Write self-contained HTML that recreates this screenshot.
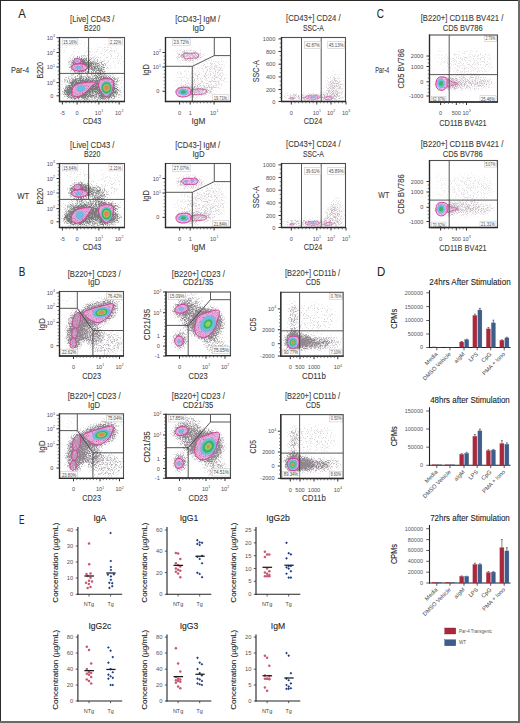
<!DOCTYPE html><html><head><meta charset="utf-8"><style>html,body{margin:0;padding:0;background:#fff;}svg{display:block}</style></head><body>
<svg width="520" height="723" viewBox="0 0 520 723" font-family="&quot;Liberation Sans&quot;, sans-serif">
<defs><filter id="bl" x="-20%" y="-20%" width="140%" height="140%"><feGaussianBlur stdDeviation="0.35"/></filter><filter id="hz" x="-50%" y="-50%" width="200%" height="200%"><feGaussianBlur stdDeviation="3"/></filter><filter id="tex" x="0" y="0" width="100%" height="100%" color-interpolation-filters="sRGB"><feTurbulence type="fractalNoise" baseFrequency="1.2" numOctaves="1" seed="11" result="t"/><feColorMatrix in="t" type="matrix" values="0 0 0 0 0.84  0 0 0 0 0.3  0 0 0 0 0.66  2.6 0 0 0 -1.25" result="n"/><feComposite in="n" in2="SourceGraphic" operator="in"/></filter><filter id="spkG" filterUnits="userSpaceOnUse" x="0" y="0" width="520" height="723" color-interpolation-filters="sRGB"><feGaussianBlur in="SourceGraphic" stdDeviation="2.5" result="d"/><feTurbulence type="fractalNoise" baseFrequency="1.3" numOctaves="1" seed="3" result="t"/><feColorMatrix in="t" type="matrix" values="0 0 0 0 0  0 0 0 0 0  0 0 0 0 0  3 0 0 0 -1" result="n"/><feComposite in="d" in2="n" operator="arithmetic" k1="0" k2="1.95" k3="1" k4="-1" result="c"/><feColorMatrix in="c" type="matrix" values="0 0 0 0 0.54  0 0 0 0 0.5  0 0 0 0 0.53  0 0 0 0.95 0" result="e"/><feGaussianBlur in="e" stdDeviation="0.45"/></filter><filter id="spkN" filterUnits="userSpaceOnUse" x="0" y="0" width="520" height="723" color-interpolation-filters="sRGB"><feGaussianBlur in="SourceGraphic" stdDeviation="2.5" result="d"/><feTurbulence type="fractalNoise" baseFrequency="1.3" numOctaves="1" seed="4" result="t"/><feColorMatrix in="t" type="matrix" values="0 0 0 0 0  0 0 0 0 0  0 0 0 0 0  3 0 0 0 -1" result="n"/><feComposite in="d" in2="n" operator="arithmetic" k1="0" k2="1.9" k3="1" k4="-1" result="c"/><feColorMatrix in="c" type="matrix" values="0 0 0 0 0.44  0 0 0 0 0.44  0 0 0 0 0.44  0 0 0 0.93 0" result="e"/><feGaussianBlur in="e" stdDeviation="0.45"/></filter><filter id="spkP" filterUnits="userSpaceOnUse" x="0" y="0" width="520" height="723" color-interpolation-filters="sRGB"><feGaussianBlur in="SourceGraphic" stdDeviation="2.5" result="d"/><feTurbulence type="fractalNoise" baseFrequency="1.3" numOctaves="1" seed="5" result="t"/><feColorMatrix in="t" type="matrix" values="0 0 0 0 0  0 0 0 0 0  0 0 0 0 0  3 0 0 0 -1" result="n"/><feComposite in="d" in2="n" operator="arithmetic" k1="0" k2="1.4" k3="1" k4="-1" result="c"/><feColorMatrix in="c" type="matrix" values="0 0 0 0 0.58  0 0 0 0 0.5  0 0 0 0 0.56  0 0 0 0.65 0" result="e"/><feGaussianBlur in="e" stdDeviation="0.45"/></filter><filter id="spkS" filterUnits="userSpaceOnUse" x="0" y="0" width="520" height="723" color-interpolation-filters="sRGB"><feGaussianBlur in="SourceGraphic" stdDeviation="1.2" result="d"/><feTurbulence type="fractalNoise" baseFrequency="1.3" numOctaves="1" seed="7" result="t"/><feColorMatrix in="t" type="matrix" values="0 0 0 0 0  0 0 0 0 0  0 0 0 0 0  3 0 0 0 -1" result="n"/><feComposite in="d" in2="n" operator="arithmetic" k1="0" k2="1.4" k3="1" k4="-1" result="c"/><feColorMatrix in="c" type="matrix" values="0 0 0 0 0.3  0 0 0 0 0.3  0 0 0 0 0.3  0 0 0 0.9 0" result="e"/><feGaussianBlur in="e" stdDeviation="0.45"/></filter></defs>
<rect width="520" height="723" fill="#fff"/>
<rect x="0.5" y="0.5" width="518" height="721" fill="none" stroke="#555" stroke-width="1"/>
<line x1="0" y1="0.5" x2="520" y2="0.5" stroke="#2a2a28" stroke-width="1"/><line x1="0.5" y1="0" x2="0.5" y2="723" stroke="#2a2a28" stroke-width="1"/>
<line x1="519" y1="0" x2="519" y2="723" stroke="#6b6b66" stroke-width="2"/><line x1="0" y1="722" x2="520" y2="722" stroke="#6b6b66" stroke-width="2"/>
<text x="18.2" y="17.7" font-size="13.2" text-anchor="start" fill="#222" textLength="7.6" lengthAdjust="spacingAndGlyphs" stroke="#222" stroke-width="0.05">A</text>
<text x="376.7" y="17.6" font-size="13.2" text-anchor="start" fill="#222" textLength="7.2" lengthAdjust="spacingAndGlyphs" stroke="#222" stroke-width="0.05">C</text>
<text x="92.3" y="21.6" font-size="8.5" text-anchor="middle" fill="#3a3a3a" textLength="44.4" lengthAdjust="spacingAndGlyphs" stroke="#3a3a3a" stroke-width="0.1">[Live] CD43 /</text>
<text x="92.2" y="31.2" font-size="8.5" text-anchor="middle" fill="#3a3a3a" textLength="16.4" lengthAdjust="spacingAndGlyphs" stroke="#3a3a3a" stroke-width="0.1">B220</text>
<text x="29.2" y="72.5" font-size="8.5" text-anchor="end" fill="#3a3a3a" textLength="18.2" lengthAdjust="spacingAndGlyphs" stroke="#3a3a3a" stroke-width="0.1">Par-4</text>
<clipPath id="cp1"><rect x="60.1" y="38.0" width="63.9" height="62.9"/></clipPath>
<g clip-path="url(#cp1)"><g filter="url(#spkN)"><ellipse cx="80" cy="89" rx="16" ry="9" transform="rotate(-15 80 89)" opacity="0.85"/><ellipse cx="106" cy="88" rx="10" ry="11" transform="rotate(0 106 88)" opacity="0.85"/><ellipse cx="92" cy="80" rx="30" ry="5" transform="rotate(0 92 80)" opacity="0.55"/><ellipse cx="92" cy="92" rx="30" ry="9" transform="rotate(0 92 92)" opacity="0.55"/><ellipse cx="80" cy="65" rx="11" ry="8" transform="rotate(0 80 65)" opacity="0.85"/><ellipse cx="97" cy="68" rx="10" ry="7" transform="rotate(20 97 68)" opacity="0.55"/><ellipse cx="104" cy="58" rx="20" ry="13" transform="rotate(0 104 58)" opacity="0.14"/><ellipse cx="75" cy="48" rx="14" ry="8" transform="rotate(0 75 48)" opacity="0.1"/></g></g>
<g transform="translate(0,0)">
<g filter="url(#bl)" opacity="1"><path d="M81.00,61.20 C81.00,61.73 80.73,62.36 80.31,62.79 C79.90,63.21 79.18,63.60 78.51,63.77 C77.84,63.93 76.96,63.93 76.29,63.77 C75.62,63.60 74.90,63.21 74.49,62.79 C74.07,62.36 73.80,61.73 73.80,61.20 C73.80,60.67 74.07,60.04 74.49,59.61 C74.90,59.19 75.62,58.80 76.29,58.63 C76.96,58.47 77.84,58.47 78.51,58.63 C79.18,58.80 79.90,59.19 80.31,59.61 C80.73,60.04 81.00,60.67 81.00,61.20Z" fill="#ecb6e2" fill-opacity="0.85" stroke="#cc3f97" stroke-width="1.0"/><path d="M81.00,61.20 C81.00,61.73 80.73,62.36 80.31,62.79 C79.90,63.21 79.18,63.60 78.51,63.77 C77.84,63.93 76.96,63.93 76.29,63.77 C75.62,63.60 74.90,63.21 74.49,62.79 C74.07,62.36 73.80,61.73 73.80,61.20 C73.80,60.67 74.07,60.04 74.49,59.61 C74.90,59.19 75.62,58.80 76.29,58.63 C76.96,58.47 77.84,58.47 78.51,58.63 C79.18,58.80 79.90,59.19 80.31,59.61 C80.73,60.04 81.00,60.67 81.00,61.20Z" fill="#fff" filter="url(#tex)"/><ellipse cx="77.2" cy="61" rx="1.60" ry="1.10" transform="rotate(0 77.2 61)" fill="#86aeea"/></g>
</g>
<g transform="translate(0,0)">
<g filter="url(#bl)" opacity="1"><path d="M87.30,67.40 C87.30,68.00 86.89,68.68 86.23,69.20 C85.56,69.72 84.45,70.22 83.30,70.52 C82.15,70.82 80.63,71.00 79.30,71.00 C77.97,71.00 76.45,70.82 75.30,70.52 C74.15,70.22 73.04,69.72 72.37,69.20 C71.71,68.68 71.30,68.00 71.30,67.40 C71.30,66.80 71.71,66.12 72.37,65.60 C73.04,65.08 74.15,64.58 75.30,64.28 C76.45,63.98 77.97,63.80 79.30,63.80 C80.63,63.80 82.15,63.98 83.30,64.28 C84.45,64.58 85.56,65.08 86.23,65.60 C86.89,66.12 87.30,66.80 87.30,67.40Z" fill="#ecb6e2" fill-opacity="0.85" stroke="#cc3f97" stroke-width="1.0"/><path d="M87.30,67.40 C87.30,68.00 86.89,68.68 86.23,69.20 C85.56,69.72 84.45,70.22 83.30,70.52 C82.15,70.82 80.63,71.00 79.30,71.00 C77.97,71.00 76.45,70.82 75.30,70.52 C74.15,70.22 73.04,69.72 72.37,69.20 C71.71,68.68 71.30,68.00 71.30,67.40 C71.30,66.80 71.71,66.12 72.37,65.60 C73.04,65.08 74.15,64.58 75.30,64.28 C76.45,63.98 77.97,63.80 79.30,63.80 C80.63,63.80 82.15,63.98 83.30,64.28 C84.45,64.58 85.56,65.08 86.23,65.60 C86.89,66.12 87.30,66.80 87.30,67.40Z" fill="#fff" filter="url(#tex)"/><ellipse cx="78.5" cy="67.5" rx="3.60" ry="1.60" transform="rotate(0 78.5 67.5)" fill="#86aeea"/><ellipse cx="78.5" cy="67.5" rx="2.16" ry="0.96" transform="rotate(0 78.5 67.5)" fill="#5cc6dc"/></g>
</g>
<g transform="translate(0,0)">
<g filter="url(#bl)" opacity="1"><path d="M72.00,93.50 C71.75,92.00 72.00,89.08 73.00,87.50 C74.00,85.92 75.83,84.83 78.00,84.00 C80.17,83.17 83.07,82.78 86.00,82.50 C88.93,82.22 94.60,81.72 95.60,82.30 C96.60,82.88 93.60,84.38 92.00,86.00 C90.40,87.62 88.00,90.33 86.00,92.00 C84.00,93.67 81.92,95.25 80.00,96.00 C78.08,96.75 75.83,96.92 74.50,96.50 C73.17,96.08 72.25,95.00 72.00,93.50Z" fill="#ecb6e2" fill-opacity="0.85" stroke="#cc3f97" stroke-width="1.0"/><path d="M72.00,93.50 C71.75,92.00 72.00,89.08 73.00,87.50 C74.00,85.92 75.83,84.83 78.00,84.00 C80.17,83.17 83.07,82.78 86.00,82.50 C88.93,82.22 94.60,81.72 95.60,82.30 C96.60,82.88 93.60,84.38 92.00,86.00 C90.40,87.62 88.00,90.33 86.00,92.00 C84.00,93.67 81.92,95.25 80.00,96.00 C78.08,96.75 75.83,96.92 74.50,96.50 C73.17,96.08 72.25,95.00 72.00,93.50Z" fill="#fff" filter="url(#tex)"/><ellipse cx="80.8" cy="88.5" rx="4.40" ry="3.50" transform="rotate(-15 80.8 88.5)" fill="#86aeea"/><ellipse cx="80.8" cy="88.5" rx="2.64" ry="2.10" transform="rotate(-15 80.8 88.5)" fill="#5cc6dc"/></g>
</g>
<g transform="translate(0,0)">
<g filter="url(#bl)" opacity="1"><path d="M99.00,82.00 C99.38,80.92 99.83,80.03 101.00,79.50 C102.17,78.97 104.33,78.85 106.00,78.80 C107.67,78.75 109.77,78.67 111.00,79.20 C112.23,79.73 113.07,80.70 113.40,82.00 C113.73,83.30 113.48,85.17 113.00,87.00 C112.52,88.83 111.50,91.37 110.50,93.00 C109.50,94.63 108.17,96.47 107.00,96.80 C105.83,97.13 104.58,95.97 103.50,95.00 C102.42,94.03 101.30,92.50 100.50,91.00 C99.70,89.50 98.95,87.50 98.70,86.00 C98.45,84.50 98.62,83.08 99.00,82.00Z" fill="#ecb6e2" fill-opacity="0.85" stroke="#cc3f97" stroke-width="1.0"/><path d="M99.00,82.00 C99.38,80.92 99.83,80.03 101.00,79.50 C102.17,78.97 104.33,78.85 106.00,78.80 C107.67,78.75 109.77,78.67 111.00,79.20 C112.23,79.73 113.07,80.70 113.40,82.00 C113.73,83.30 113.48,85.17 113.00,87.00 C112.52,88.83 111.50,91.37 110.50,93.00 C109.50,94.63 108.17,96.47 107.00,96.80 C105.83,97.13 104.58,95.97 103.50,95.00 C102.42,94.03 101.30,92.50 100.50,91.00 C99.70,89.50 98.95,87.50 98.70,86.00 C98.45,84.50 98.62,83.08 99.00,82.00Z" fill="#fff" filter="url(#tex)"/><ellipse cx="106.5" cy="87.8" rx="5.90" ry="6.90" transform="rotate(0 106.5 87.8)" fill="#86aeea"/><ellipse cx="106.5" cy="87.8" rx="5.31" ry="6.21" transform="rotate(0 106.5 87.8)" fill="#5cc6dc"/><ellipse cx="106.5" cy="87.8" rx="4.84" ry="5.66" transform="rotate(0 106.5 87.8)" fill="#3db45a"/><ellipse cx="106.5" cy="87.8" rx="3.25" ry="3.80" transform="rotate(0 106.5 87.8)" fill="#8fd06a"/><ellipse cx="106.5" cy="87.8" rx="2.36" ry="2.76" transform="rotate(0 106.5 87.8)" fill="#f27c62"/></g>
</g>
<polyline points="88.6,37.5 88.6,73.4" fill="none" stroke="#3a3a3a" stroke-width="0.85"/>
<line x1="59.5" y1="73.4" x2="124.5" y2="73.4" stroke="#3a3a3a" stroke-width="0.85"/>
<rect x="62.2" y="38.7" width="15.6" height="6.199999999999999" fill="#fff" fill-opacity="0.75" stroke="#c8c8c8" stroke-width="0.6"/>
<text x="70.0" y="43.550000000000004" font-size="4.9" text-anchor="middle" fill="#4a4a4a" textLength="13.399999999999999" lengthAdjust="spacingAndGlyphs">15.16%</text>
<rect x="109" y="38.7" width="13.4" height="6.199999999999999" fill="#fff" fill-opacity="0.75" stroke="#c8c8c8" stroke-width="0.6"/>
<text x="115.7" y="43.550000000000004" font-size="4.9" text-anchor="middle" fill="#4a4a4a" textLength="11.2" lengthAdjust="spacingAndGlyphs">2.22%</text>
<rect x="59.5" y="37.5" width="65.0" height="64.0" fill="none" stroke="#505050" stroke-width="1.1"/>
<line x1="59.5" y1="37.0" x2="59.5" y2="102.1" stroke="#2a2a2a" stroke-width="1.3"/>
<line x1="58.9" y1="101.5" x2="125.0" y2="101.5" stroke="#2a2a2a" stroke-width="1.3"/>
<line x1="56.5" y1="37.7" x2="59.5" y2="37.7" stroke="#333" stroke-width="1"/>
<text x="52.9" y="39.800000000000004" font-size="5.6" text-anchor="end" fill="#505050">10</text>
<text x="53.0" y="37.2" font-size="3.6" text-anchor="start" fill="#505050">3</text>
<line x1="56.5" y1="52.5" x2="59.5" y2="52.5" stroke="#333" stroke-width="1"/>
<text x="52.9" y="54.6" font-size="5.6" text-anchor="end" fill="#505050">10</text>
<text x="53.0" y="52.0" font-size="3.6" text-anchor="start" fill="#505050">2</text>
<line x1="56.5" y1="67" x2="59.5" y2="67" stroke="#333" stroke-width="1"/>
<text x="52.9" y="69.1" font-size="5.6" text-anchor="end" fill="#505050">10</text>
<text x="53.0" y="66.5" font-size="3.6" text-anchor="start" fill="#505050">1</text>
<line x1="56.5" y1="82.6" x2="59.5" y2="82.6" stroke="#333" stroke-width="1"/>
<text x="52.9" y="84.69999999999999" font-size="5.6" text-anchor="end" fill="#505050">10</text>
<text x="53.0" y="82.1" font-size="3.6" text-anchor="start" fill="#505050">0</text>
<line x1="56.5" y1="95.8" x2="59.5" y2="95.8" stroke="#333" stroke-width="1"/>
<text x="53.3" y="97.89999999999999" font-size="5.6" text-anchor="end" fill="#505050">0</text>
<line x1="62.4" y1="101.5" x2="62.4" y2="104.5" stroke="#333" stroke-width="1"/>
<text x="62.4" y="114.5" font-size="5.6" text-anchor="middle" fill="#505050">-5</text>
<line x1="77.1" y1="101.5" x2="77.1" y2="104.5" stroke="#333" stroke-width="1"/>
<text x="77.1" y="114.5" font-size="5.6" text-anchor="middle" fill="#505050">0</text>
<line x1="98.9" y1="101.5" x2="98.9" y2="104.5" stroke="#333" stroke-width="1"/>
<text x="97.9" y="114.5" font-size="5.6" text-anchor="middle" fill="#505050">10</text>
<text x="101.2" y="111.9" font-size="3.6" text-anchor="start" fill="#505050">1</text>
<line x1="119.1" y1="101.5" x2="119.1" y2="104.5" stroke="#333" stroke-width="1"/>
<text x="118.1" y="114.5" font-size="5.6" text-anchor="middle" fill="#505050">10</text>
<text x="121.39999999999999" y="111.9" font-size="3.6" text-anchor="start" fill="#505050">2</text>
<line x1="57.7" y1="41.400000000000006" x2="59.5" y2="41.400000000000006" stroke="#444" stroke-width="0.7"/>
<line x1="57.7" y1="45.1" x2="59.5" y2="45.1" stroke="#444" stroke-width="0.7"/>
<line x1="57.7" y1="48.8" x2="59.5" y2="48.8" stroke="#444" stroke-width="0.7"/>
<line x1="57.7" y1="56.125" x2="59.5" y2="56.125" stroke="#444" stroke-width="0.7"/>
<line x1="57.7" y1="59.75" x2="59.5" y2="59.75" stroke="#444" stroke-width="0.7"/>
<line x1="57.7" y1="63.375" x2="59.5" y2="63.375" stroke="#444" stroke-width="0.7"/>
<line x1="57.7" y1="70.9" x2="59.5" y2="70.9" stroke="#444" stroke-width="0.7"/>
<line x1="57.7" y1="74.8" x2="59.5" y2="74.8" stroke="#444" stroke-width="0.7"/>
<line x1="57.7" y1="78.69999999999999" x2="59.5" y2="78.69999999999999" stroke="#444" stroke-width="0.7"/>
<line x1="57.7" y1="85.89999999999999" x2="59.5" y2="85.89999999999999" stroke="#444" stroke-width="0.7"/>
<line x1="57.7" y1="89.19999999999999" x2="59.5" y2="89.19999999999999" stroke="#444" stroke-width="0.7"/>
<line x1="57.7" y1="92.5" x2="59.5" y2="92.5" stroke="#444" stroke-width="0.7"/>
<line x1="66.075" y1="101.5" x2="66.075" y2="103.3" stroke="#444" stroke-width="0.7"/>
<line x1="69.75" y1="101.5" x2="69.75" y2="103.3" stroke="#444" stroke-width="0.7"/>
<line x1="73.425" y1="101.5" x2="73.425" y2="103.3" stroke="#444" stroke-width="0.7"/>
<line x1="80.73333333333333" y1="101.5" x2="80.73333333333333" y2="103.3" stroke="#444" stroke-width="0.7"/>
<line x1="84.36666666666666" y1="101.5" x2="84.36666666666666" y2="103.3" stroke="#444" stroke-width="0.7"/>
<line x1="88.0" y1="101.5" x2="88.0" y2="103.3" stroke="#444" stroke-width="0.7"/>
<line x1="91.63333333333334" y1="101.5" x2="91.63333333333334" y2="103.3" stroke="#444" stroke-width="0.7"/>
<line x1="95.26666666666667" y1="101.5" x2="95.26666666666667" y2="103.3" stroke="#444" stroke-width="0.7"/>
<line x1="102.26666666666667" y1="101.5" x2="102.26666666666667" y2="103.3" stroke="#444" stroke-width="0.7"/>
<line x1="105.63333333333334" y1="101.5" x2="105.63333333333334" y2="103.3" stroke="#444" stroke-width="0.7"/>
<line x1="109.0" y1="101.5" x2="109.0" y2="103.3" stroke="#444" stroke-width="0.7"/>
<line x1="112.36666666666666" y1="101.5" x2="112.36666666666666" y2="103.3" stroke="#444" stroke-width="0.7"/>
<line x1="115.73333333333333" y1="101.5" x2="115.73333333333333" y2="103.3" stroke="#444" stroke-width="0.7"/>
<text x="92" y="123.6" font-size="8.5" text-anchor="middle" fill="#3a3a3a" textLength="18.6" lengthAdjust="spacingAndGlyphs" stroke="#3a3a3a" stroke-width="0.1">CD43</text>
<text x="43.4" y="70.3" font-size="8.5" text-anchor="middle" fill="#3a3a3a" transform="rotate(-90 43.4 70.3)" textLength="16.6" lengthAdjust="spacingAndGlyphs" stroke="#3a3a3a" stroke-width="0.1">B220</text>
<text x="197.7" y="21.5" font-size="8.5" text-anchor="middle" fill="#3a3a3a" textLength="45" lengthAdjust="spacingAndGlyphs" stroke="#3a3a3a" stroke-width="0.1">[CD43-] IgM /</text>
<text x="198.5" y="31" font-size="8.5" text-anchor="middle" fill="#3a3a3a" textLength="12.1" lengthAdjust="spacingAndGlyphs" stroke="#3a3a3a" stroke-width="0.1">IgD</text>
<clipPath id="cp2"><rect x="166.1" y="38.0" width="63.9" height="62.9"/></clipPath>
<g clip-path="url(#cp2)"><g filter="url(#spkP)"><ellipse cx="190" cy="56" rx="14" ry="6" transform="rotate(0 190 56)" opacity="0.8"/><ellipse cx="190" cy="92" rx="13" ry="6" transform="rotate(0 190 92)" opacity="0.8"/><ellipse cx="200" cy="91" rx="12" ry="4" transform="rotate(0 200 91)" opacity="0.75"/><ellipse cx="208" cy="78" rx="18" ry="16" transform="rotate(0 208 78)" opacity="0.4"/><ellipse cx="185" cy="78" rx="10" ry="12" transform="rotate(0 185 78)" opacity="0.28"/><ellipse cx="218" cy="62" rx="10" ry="8" transform="rotate(0 218 62)" opacity="0.2"/></g></g>
<g transform="translate(0,0)">
<g filter="url(#bl)" opacity="1"><path d="M183.00,55.00 C183.17,54.08 184.67,53.25 186.00,53.00 C187.33,52.75 189.33,53.50 191.00,53.50 C192.67,53.50 194.75,52.75 196.00,53.00 C197.25,53.25 198.33,54.20 198.50,55.00 C198.67,55.80 198.25,57.27 197.00,57.80 C195.75,58.33 193.00,58.08 191.00,58.20 C189.00,58.32 186.33,59.03 185.00,58.50 C183.67,57.97 182.83,55.92 183.00,55.00Z" fill="#ecb6e2" fill-opacity="0.22" stroke="#cc3f97" stroke-width="0.7"/></g>
</g>
<g transform="translate(0,0)">
<g filter="url(#bl)" opacity="1"><path d="M176.00,91.00 C176.25,89.75 177.50,88.63 179.00,88.00 C180.50,87.37 183.17,87.12 185.00,87.20 C186.83,87.28 188.97,87.70 190.00,88.50 C191.03,89.30 191.37,90.83 191.20,92.00 C191.03,93.17 190.37,94.67 189.00,95.50 C187.63,96.33 184.92,97.00 183.00,97.00 C181.08,97.00 178.67,96.50 177.50,95.50 C176.33,94.50 175.75,92.25 176.00,91.00Z" fill="#ecb6e2" fill-opacity="0.85" stroke="#cc3f97" stroke-width="1.0"/><path d="M176.00,91.00 C176.25,89.75 177.50,88.63 179.00,88.00 C180.50,87.37 183.17,87.12 185.00,87.20 C186.83,87.28 188.97,87.70 190.00,88.50 C191.03,89.30 191.37,90.83 191.20,92.00 C191.03,93.17 190.37,94.67 189.00,95.50 C187.63,96.33 184.92,97.00 183.00,97.00 C181.08,97.00 178.67,96.50 177.50,95.50 C176.33,94.50 175.75,92.25 176.00,91.00Z" fill="#fff" filter="url(#tex)"/><ellipse cx="183.3" cy="92" rx="5.00" ry="3.30" transform="rotate(0 183.3 92)" fill="#86aeea"/><ellipse cx="183.3" cy="92" rx="3.75" ry="2.47" transform="rotate(0 183.3 92)" fill="#5cc6dc"/><ellipse cx="183.3" cy="92" rx="2.50" ry="1.65" transform="rotate(0 183.3 92)" fill="#3db45a"/></g>
</g>
<g transform="translate(0,0)">
<g filter="url(#bl)" opacity="1"><path d="M191.00,90.50 C191.92,89.67 194.50,89.08 197.00,89.00 C199.50,88.92 204.67,89.25 206.00,90.00 C207.33,90.75 206.50,92.72 205.00,93.50 C203.50,94.28 199.25,94.62 197.00,94.70 C194.75,94.78 192.50,94.70 191.50,94.00 C190.50,93.30 190.08,91.33 191.00,90.50Z" fill="#ecb6e2" fill-opacity="0.2" stroke="#cc3f97" stroke-width="0.7"/></g>
</g>
<polyline points="165.5,66.3 192.3,66.3 192.3,101.5" fill="none" stroke="#3a3a3a" stroke-width="0.85"/>
<polyline points="192.3,66.3 214.3,55.6 214.3,37.5" fill="none" stroke="#3a3a3a" stroke-width="0.85"/>
<line x1="214.3" y1="55.6" x2="230.5" y2="55.6" stroke="#3a3a3a" stroke-width="0.85"/>
<rect x="172.5" y="39.0" width="17.7" height="6.6" fill="#fff" fill-opacity="0.75" stroke="#c8c8c8" stroke-width="0.6"/>
<text x="181.35" y="44.05" font-size="4.9" text-anchor="middle" fill="#4a4a4a" textLength="15.5" lengthAdjust="spacingAndGlyphs">23.72%</text>
<rect x="212.7" y="94.5" width="15.5" height="6.6" fill="#fff" fill-opacity="0.75" stroke="#c8c8c8" stroke-width="0.6"/>
<text x="220.45" y="99.55" font-size="4.9" text-anchor="middle" fill="#4a4a4a" textLength="13.3" lengthAdjust="spacingAndGlyphs">19.71%</text>
<rect x="165.5" y="37.5" width="65.0" height="64.0" fill="none" stroke="#505050" stroke-width="1.1"/>
<line x1="165.5" y1="37.0" x2="165.5" y2="102.1" stroke="#2a2a2a" stroke-width="1.3"/>
<line x1="164.9" y1="101.5" x2="231.0" y2="101.5" stroke="#2a2a2a" stroke-width="1.3"/>
<line x1="162.5" y1="52.5" x2="165.5" y2="52.5" stroke="#333" stroke-width="1"/>
<text x="158.9" y="54.6" font-size="5.6" text-anchor="end" fill="#505050">10</text>
<text x="159.0" y="52.0" font-size="3.6" text-anchor="start" fill="#505050">2</text>
<line x1="162.5" y1="67" x2="165.5" y2="67" stroke="#333" stroke-width="1"/>
<text x="158.9" y="69.1" font-size="5.6" text-anchor="end" fill="#505050">10</text>
<text x="159.0" y="66.5" font-size="3.6" text-anchor="start" fill="#505050">1</text>
<line x1="162.5" y1="91.3" x2="165.5" y2="91.3" stroke="#333" stroke-width="1"/>
<text x="159.3" y="93.39999999999999" font-size="5.6" text-anchor="end" fill="#505050">0</text>
<line x1="179.6" y1="101.5" x2="179.6" y2="104.5" stroke="#333" stroke-width="1"/>
<text x="179.6" y="114.5" font-size="5.6" text-anchor="middle" fill="#505050">0</text>
<line x1="190.2" y1="101.5" x2="190.2" y2="104.5" stroke="#333" stroke-width="1"/>
<text x="190.2" y="114.5" font-size="5.6" text-anchor="middle" fill="#505050">1</text>
<line x1="214.1" y1="101.5" x2="214.1" y2="104.5" stroke="#333" stroke-width="1"/>
<text x="213.1" y="114.5" font-size="5.6" text-anchor="middle" fill="#505050">10</text>
<text x="216.4" y="111.9" font-size="3.6" text-anchor="start" fill="#505050">1</text>
<line x1="163.7" y1="56.125" x2="165.5" y2="56.125" stroke="#444" stroke-width="0.7"/>
<line x1="163.7" y1="59.75" x2="165.5" y2="59.75" stroke="#444" stroke-width="0.7"/>
<line x1="163.7" y1="63.375" x2="165.5" y2="63.375" stroke="#444" stroke-width="0.7"/>
<line x1="163.7" y1="70.47142857142858" x2="165.5" y2="70.47142857142858" stroke="#444" stroke-width="0.7"/>
<line x1="163.7" y1="73.94285714285714" x2="165.5" y2="73.94285714285714" stroke="#444" stroke-width="0.7"/>
<line x1="163.7" y1="77.41428571428571" x2="165.5" y2="77.41428571428571" stroke="#444" stroke-width="0.7"/>
<line x1="163.7" y1="80.88571428571429" x2="165.5" y2="80.88571428571429" stroke="#444" stroke-width="0.7"/>
<line x1="163.7" y1="84.35714285714286" x2="165.5" y2="84.35714285714286" stroke="#444" stroke-width="0.7"/>
<line x1="163.7" y1="87.82857142857142" x2="165.5" y2="87.82857142857142" stroke="#444" stroke-width="0.7"/>
<line x1="183.13333333333333" y1="101.5" x2="183.13333333333333" y2="103.3" stroke="#444" stroke-width="0.7"/>
<line x1="186.66666666666666" y1="101.5" x2="186.66666666666666" y2="103.3" stroke="#444" stroke-width="0.7"/>
<line x1="193.6142857142857" y1="101.5" x2="193.6142857142857" y2="103.3" stroke="#444" stroke-width="0.7"/>
<line x1="197.0285714285714" y1="101.5" x2="197.0285714285714" y2="103.3" stroke="#444" stroke-width="0.7"/>
<line x1="200.44285714285712" y1="101.5" x2="200.44285714285712" y2="103.3" stroke="#444" stroke-width="0.7"/>
<line x1="203.85714285714286" y1="101.5" x2="203.85714285714286" y2="103.3" stroke="#444" stroke-width="0.7"/>
<line x1="207.27142857142857" y1="101.5" x2="207.27142857142857" y2="103.3" stroke="#444" stroke-width="0.7"/>
<line x1="210.68571428571428" y1="101.5" x2="210.68571428571428" y2="103.3" stroke="#444" stroke-width="0.7"/>
<text x="198.4" y="123.6" font-size="8.5" text-anchor="middle" fill="#3a3a3a" textLength="13.8" lengthAdjust="spacingAndGlyphs" stroke="#3a3a3a" stroke-width="0.1">IgM</text>
<text x="149.3" y="70" font-size="8.5" text-anchor="middle" fill="#3a3a3a" transform="rotate(-90 149.3 70)" textLength="11.5" lengthAdjust="spacingAndGlyphs" stroke="#3a3a3a" stroke-width="0.1">IgD</text>
<text x="313.3" y="21.4" font-size="8.5" text-anchor="middle" fill="#3a3a3a" textLength="54.5" lengthAdjust="spacingAndGlyphs" stroke="#3a3a3a" stroke-width="0.1">[CD43+] CD24 /</text>
<text x="313.3" y="31.2" font-size="8.5" text-anchor="middle" fill="#3a3a3a" textLength="20.8" lengthAdjust="spacingAndGlyphs" stroke="#3a3a3a" stroke-width="0.1">SSC-A</text>
<clipPath id="cp3"><rect x="282.1" y="38.0" width="62.9" height="62.9"/></clipPath>
<g clip-path="url(#cp3)"><g filter="url(#spkP)"><ellipse cx="313" cy="97" rx="31" ry="3" transform="rotate(0 313 97)" opacity="0.95"/><ellipse cx="334" cy="90" rx="9" ry="11" transform="rotate(0 334 90)" opacity="0.55"/><ellipse cx="336" cy="80" rx="8" ry="10" transform="rotate(0 336 80)" opacity="0.28"/></g></g>
<g transform="translate(0,0)">
<g filter="url(#bl)" opacity="0.85"><path d="M305.00,97.20 C305.00,96.62 307.33,95.93 309.00,95.60 C310.67,95.27 313.25,95.00 315.00,95.20 C316.75,95.40 319.17,96.18 319.50,96.80 C319.83,97.42 318.75,98.52 317.00,98.90 C315.25,99.28 311.00,99.38 309.00,99.10 C307.00,98.82 305.00,97.78 305.00,97.20Z" fill="#ecb6e2" fill-opacity="0.45" stroke="#cc3f97" stroke-width="0.65"/><path d="M305.00,97.20 C305.00,96.62 307.33,95.93 309.00,95.60 C310.67,95.27 313.25,95.00 315.00,95.20 C316.75,95.40 319.17,96.18 319.50,96.80 C319.83,97.42 318.75,98.52 317.00,98.90 C315.25,99.28 311.00,99.38 309.00,99.10 C307.00,98.82 305.00,97.78 305.00,97.20Z" fill="#fff" filter="url(#tex)"/><ellipse cx="313" cy="97.2" rx="3.00" ry="1.10" transform="rotate(0 313 97.2)" fill="#86aeea"/></g>
</g>
<g transform="translate(0,0)">
<g filter="url(#bl)" opacity="0.85"><path d="M324.00,98.00 C324.25,97.52 325.83,96.80 327.00,96.60 C328.17,96.40 330.08,96.53 331.00,96.80 C331.92,97.07 332.67,97.75 332.50,98.20 C332.33,98.65 331.17,99.28 330.00,99.50 C328.83,99.72 326.50,99.75 325.50,99.50 C324.50,99.25 323.75,98.48 324.00,98.00Z" fill="#ecb6e2" fill-opacity="0.45" stroke="#cc3f97" stroke-width="0.65"/><path d="M324.00,98.00 C324.25,97.52 325.83,96.80 327.00,96.60 C328.17,96.40 330.08,96.53 331.00,96.80 C331.92,97.07 332.67,97.75 332.50,98.20 C332.33,98.65 331.17,99.28 330.00,99.50 C328.83,99.72 326.50,99.75 325.50,99.50 C324.50,99.25 323.75,98.48 324.00,98.00Z" fill="#fff" filter="url(#tex)"/></g>
</g>
<g transform="translate(0,0)">
<g filter="url(#bl)" opacity="1"><path d="M289.50,98.20 C289.50,97.95 291.20,97.58 292.00,97.60 C292.80,97.62 294.30,98.05 294.30,98.30 C294.30,98.55 292.80,99.12 292.00,99.10 C291.20,99.08 289.50,98.45 289.50,98.20Z" fill="#ecb6e2" fill-opacity="0.4" stroke="#cc3f97" stroke-width="0.6"/><path d="M289.50,98.20 C289.50,97.95 291.20,97.58 292.00,97.60 C292.80,97.62 294.30,98.05 294.30,98.30 C294.30,98.55 292.80,99.12 292.00,99.10 C291.20,99.08 289.50,98.45 289.50,98.20Z" fill="#fff" filter="url(#tex)"/></g>
</g>
<polyline points="301.5,37.5 301.5,101.5" fill="none" stroke="#3a3a3a" stroke-width="0.85"/>
<polyline points="321.2,37.5 321.2,101.5" fill="none" stroke="#3a3a3a" stroke-width="0.85"/>
<rect x="304.6" y="41.5" width="16.2" height="7.0" fill="#fff" fill-opacity="0.75" stroke="#c8c8c8" stroke-width="0.6"/>
<text x="312.70000000000005" y="46.75" font-size="4.9" text-anchor="middle" fill="#4a4a4a" textLength="14.0" lengthAdjust="spacingAndGlyphs">42.87%</text>
<rect x="327.7" y="41.5" width="16.9" height="7.0" fill="#fff" fill-opacity="0.75" stroke="#c8c8c8" stroke-width="0.6"/>
<text x="336.15" y="46.75" font-size="4.9" text-anchor="middle" fill="#4a4a4a" textLength="14.7" lengthAdjust="spacingAndGlyphs">45.13%</text>
<rect x="281.5" y="37.5" width="64.0" height="64.0" fill="none" stroke="#505050" stroke-width="1.1"/>
<line x1="281.5" y1="37.0" x2="281.5" y2="102.1" stroke="#2a2a2a" stroke-width="1.3"/>
<line x1="280.9" y1="101.5" x2="346.0" y2="101.5" stroke="#2a2a2a" stroke-width="1.3"/>
<line x1="278.5" y1="38.9" x2="281.5" y2="38.9" stroke="#333" stroke-width="1"/>
<text x="275.3" y="41.0" font-size="5.6" text-anchor="end" fill="#505050">1000</text>
<line x1="278.5" y1="51.5" x2="281.5" y2="51.5" stroke="#333" stroke-width="1"/>
<text x="275.3" y="53.6" font-size="5.6" text-anchor="end" fill="#505050">800</text>
<line x1="278.5" y1="64.2" x2="281.5" y2="64.2" stroke="#333" stroke-width="1"/>
<text x="275.3" y="66.3" font-size="5.6" text-anchor="end" fill="#505050">600</text>
<line x1="278.5" y1="76.9" x2="281.5" y2="76.9" stroke="#333" stroke-width="1"/>
<text x="275.3" y="79.0" font-size="5.6" text-anchor="end" fill="#505050">400</text>
<line x1="278.5" y1="89.5" x2="281.5" y2="89.5" stroke="#333" stroke-width="1"/>
<text x="275.3" y="91.6" font-size="5.6" text-anchor="end" fill="#505050">200</text>
<line x1="278.5" y1="101.5" x2="281.5" y2="101.5" stroke="#333" stroke-width="1"/>
<text x="275.3" y="103.6" font-size="5.6" text-anchor="end" fill="#505050">0</text>
<line x1="291.3" y1="101.5" x2="291.3" y2="104.5" stroke="#333" stroke-width="1"/>
<text x="291.3" y="114.5" font-size="5.6" text-anchor="middle" fill="#505050">0</text>
<line x1="316.8" y1="101.5" x2="316.8" y2="104.5" stroke="#333" stroke-width="1"/>
<text x="315.8" y="114.5" font-size="5.6" text-anchor="middle" fill="#505050">10</text>
<text x="319.1" y="111.9" font-size="3.6" text-anchor="start" fill="#505050">1</text>
<line x1="331" y1="101.5" x2="331" y2="104.5" stroke="#333" stroke-width="1"/>
<text x="330" y="114.5" font-size="5.6" text-anchor="middle" fill="#505050">10</text>
<text x="333.3" y="111.9" font-size="3.6" text-anchor="start" fill="#505050">2</text>
<line x1="346" y1="101.5" x2="346" y2="104.5" stroke="#333" stroke-width="1"/>
<text x="345" y="114.5" font-size="5.6" text-anchor="middle" fill="#505050">10</text>
<text x="348.3" y="111.9" font-size="3.6" text-anchor="start" fill="#505050">3</text>
<line x1="279.7" y1="43.1" x2="281.5" y2="43.1" stroke="#444" stroke-width="0.7"/>
<line x1="279.7" y1="47.3" x2="281.5" y2="47.3" stroke="#444" stroke-width="0.7"/>
<line x1="279.7" y1="55.733333333333334" x2="281.5" y2="55.733333333333334" stroke="#444" stroke-width="0.7"/>
<line x1="279.7" y1="59.96666666666667" x2="281.5" y2="59.96666666666667" stroke="#444" stroke-width="0.7"/>
<line x1="279.7" y1="68.43333333333334" x2="281.5" y2="68.43333333333334" stroke="#444" stroke-width="0.7"/>
<line x1="279.7" y1="72.66666666666667" x2="281.5" y2="72.66666666666667" stroke="#444" stroke-width="0.7"/>
<line x1="279.7" y1="81.10000000000001" x2="281.5" y2="81.10000000000001" stroke="#444" stroke-width="0.7"/>
<line x1="279.7" y1="85.3" x2="281.5" y2="85.3" stroke="#444" stroke-width="0.7"/>
<line x1="279.7" y1="93.5" x2="281.5" y2="93.5" stroke="#444" stroke-width="0.7"/>
<line x1="279.7" y1="97.5" x2="281.5" y2="97.5" stroke="#444" stroke-width="0.7"/>
<line x1="294.9428571428572" y1="101.5" x2="294.9428571428572" y2="103.3" stroke="#444" stroke-width="0.7"/>
<line x1="298.5857142857143" y1="101.5" x2="298.5857142857143" y2="103.3" stroke="#444" stroke-width="0.7"/>
<line x1="302.22857142857146" y1="101.5" x2="302.22857142857146" y2="103.3" stroke="#444" stroke-width="0.7"/>
<line x1="305.87142857142857" y1="101.5" x2="305.87142857142857" y2="103.3" stroke="#444" stroke-width="0.7"/>
<line x1="309.51428571428573" y1="101.5" x2="309.51428571428573" y2="103.3" stroke="#444" stroke-width="0.7"/>
<line x1="313.15714285714284" y1="101.5" x2="313.15714285714284" y2="103.3" stroke="#444" stroke-width="0.7"/>
<line x1="320.35" y1="101.5" x2="320.35" y2="103.3" stroke="#444" stroke-width="0.7"/>
<line x1="323.9" y1="101.5" x2="323.9" y2="103.3" stroke="#444" stroke-width="0.7"/>
<line x1="327.45" y1="101.5" x2="327.45" y2="103.3" stroke="#444" stroke-width="0.7"/>
<line x1="334.75" y1="101.5" x2="334.75" y2="103.3" stroke="#444" stroke-width="0.7"/>
<line x1="338.5" y1="101.5" x2="338.5" y2="103.3" stroke="#444" stroke-width="0.7"/>
<line x1="342.25" y1="101.5" x2="342.25" y2="103.3" stroke="#444" stroke-width="0.7"/>
<text x="313" y="123.6" font-size="8.5" text-anchor="middle" fill="#3a3a3a" textLength="18.5" lengthAdjust="spacingAndGlyphs" stroke="#3a3a3a" stroke-width="0.1">CD24</text>
<text x="258.7" y="71.3" font-size="8.5" text-anchor="middle" fill="#3a3a3a" transform="rotate(-90 258.7 71.3)" textLength="22" lengthAdjust="spacingAndGlyphs" stroke="#3a3a3a" stroke-width="0.1">SSC-A</text>
<text x="92.3" y="147.6" font-size="8.5" text-anchor="middle" fill="#3a3a3a" textLength="44.4" lengthAdjust="spacingAndGlyphs" stroke="#3a3a3a" stroke-width="0.1">[Live] CD43 /</text>
<text x="92.2" y="157.2" font-size="8.5" text-anchor="middle" fill="#3a3a3a" textLength="16.4" lengthAdjust="spacingAndGlyphs" stroke="#3a3a3a" stroke-width="0.1">B220</text>
<text x="29.2" y="198.5" font-size="8.5" text-anchor="end" fill="#3a3a3a" textLength="12" lengthAdjust="spacingAndGlyphs" stroke="#3a3a3a" stroke-width="0.1">WT</text>
<clipPath id="cp4"><rect x="60.1" y="164.0" width="63.9" height="62.9"/></clipPath>
<g clip-path="url(#cp4)"><g filter="url(#spkN)"><ellipse cx="80" cy="215" rx="16" ry="9" transform="rotate(-15 80 215)" opacity="0.85"/><ellipse cx="106" cy="214" rx="10" ry="11" transform="rotate(0 106 214)" opacity="0.85"/><ellipse cx="92" cy="206" rx="30" ry="5" transform="rotate(0 92 206)" opacity="0.55"/><ellipse cx="92" cy="218" rx="30" ry="9" transform="rotate(0 92 218)" opacity="0.55"/><ellipse cx="80" cy="191" rx="11" ry="8" transform="rotate(0 80 191)" opacity="0.85"/><ellipse cx="97" cy="194" rx="10" ry="7" transform="rotate(20 97 194)" opacity="0.55"/><ellipse cx="104" cy="184" rx="20" ry="13" transform="rotate(0 104 184)" opacity="0.14"/><ellipse cx="75" cy="174" rx="14" ry="8" transform="rotate(0 75 174)" opacity="0.1"/></g></g>
<g transform="translate(0,126)">
<g filter="url(#bl)" opacity="1"><path d="M81.00,61.20 C81.00,61.73 80.73,62.36 80.31,62.79 C79.90,63.21 79.18,63.60 78.51,63.77 C77.84,63.93 76.96,63.93 76.29,63.77 C75.62,63.60 74.90,63.21 74.49,62.79 C74.07,62.36 73.80,61.73 73.80,61.20 C73.80,60.67 74.07,60.04 74.49,59.61 C74.90,59.19 75.62,58.80 76.29,58.63 C76.96,58.47 77.84,58.47 78.51,58.63 C79.18,58.80 79.90,59.19 80.31,59.61 C80.73,60.04 81.00,60.67 81.00,61.20Z" fill="#ecb6e2" fill-opacity="0.85" stroke="#cc3f97" stroke-width="1.0"/><path d="M81.00,61.20 C81.00,61.73 80.73,62.36 80.31,62.79 C79.90,63.21 79.18,63.60 78.51,63.77 C77.84,63.93 76.96,63.93 76.29,63.77 C75.62,63.60 74.90,63.21 74.49,62.79 C74.07,62.36 73.80,61.73 73.80,61.20 C73.80,60.67 74.07,60.04 74.49,59.61 C74.90,59.19 75.62,58.80 76.29,58.63 C76.96,58.47 77.84,58.47 78.51,58.63 C79.18,58.80 79.90,59.19 80.31,59.61 C80.73,60.04 81.00,60.67 81.00,61.20Z" fill="#fff" filter="url(#tex)"/><ellipse cx="77.2" cy="61" rx="1.60" ry="1.10" transform="rotate(0 77.2 61)" fill="#86aeea"/></g>
</g>
<g transform="translate(0,126)">
<g filter="url(#bl)" opacity="1"><path d="M87.30,67.40 C87.30,68.00 86.89,68.68 86.23,69.20 C85.56,69.72 84.45,70.22 83.30,70.52 C82.15,70.82 80.63,71.00 79.30,71.00 C77.97,71.00 76.45,70.82 75.30,70.52 C74.15,70.22 73.04,69.72 72.37,69.20 C71.71,68.68 71.30,68.00 71.30,67.40 C71.30,66.80 71.71,66.12 72.37,65.60 C73.04,65.08 74.15,64.58 75.30,64.28 C76.45,63.98 77.97,63.80 79.30,63.80 C80.63,63.80 82.15,63.98 83.30,64.28 C84.45,64.58 85.56,65.08 86.23,65.60 C86.89,66.12 87.30,66.80 87.30,67.40Z" fill="#ecb6e2" fill-opacity="0.85" stroke="#cc3f97" stroke-width="1.0"/><path d="M87.30,67.40 C87.30,68.00 86.89,68.68 86.23,69.20 C85.56,69.72 84.45,70.22 83.30,70.52 C82.15,70.82 80.63,71.00 79.30,71.00 C77.97,71.00 76.45,70.82 75.30,70.52 C74.15,70.22 73.04,69.72 72.37,69.20 C71.71,68.68 71.30,68.00 71.30,67.40 C71.30,66.80 71.71,66.12 72.37,65.60 C73.04,65.08 74.15,64.58 75.30,64.28 C76.45,63.98 77.97,63.80 79.30,63.80 C80.63,63.80 82.15,63.98 83.30,64.28 C84.45,64.58 85.56,65.08 86.23,65.60 C86.89,66.12 87.30,66.80 87.30,67.40Z" fill="#fff" filter="url(#tex)"/><ellipse cx="78.5" cy="67.5" rx="3.60" ry="1.60" transform="rotate(0 78.5 67.5)" fill="#86aeea"/><ellipse cx="78.5" cy="67.5" rx="2.16" ry="0.96" transform="rotate(0 78.5 67.5)" fill="#5cc6dc"/></g>
</g>
<g transform="translate(0,126)">
<g filter="url(#bl)" opacity="1"><path d="M71.30,93.50 C71.05,92.07 71.63,89.58 72.50,88.00 C73.37,86.42 74.75,85.00 76.50,84.00 C78.25,83.00 80.53,82.42 83.00,82.00 C85.47,81.58 90.22,80.83 91.30,81.50 C92.38,82.17 90.55,84.17 89.50,86.00 C88.45,87.83 86.75,90.70 85.00,92.50 C83.25,94.30 80.83,96.12 79.00,96.80 C77.17,97.48 75.28,97.15 74.00,96.60 C72.72,96.05 71.55,94.93 71.30,93.50Z" fill="#ecb6e2" fill-opacity="0.85" stroke="#cc3f97" stroke-width="1.0"/><path d="M71.30,93.50 C71.05,92.07 71.63,89.58 72.50,88.00 C73.37,86.42 74.75,85.00 76.50,84.00 C78.25,83.00 80.53,82.42 83.00,82.00 C85.47,81.58 90.22,80.83 91.30,81.50 C92.38,82.17 90.55,84.17 89.50,86.00 C88.45,87.83 86.75,90.70 85.00,92.50 C83.25,94.30 80.83,96.12 79.00,96.80 C77.17,97.48 75.28,97.15 74.00,96.60 C72.72,96.05 71.55,94.93 71.30,93.50Z" fill="#fff" filter="url(#tex)"/><ellipse cx="79.9" cy="89.2" rx="4.50" ry="4.10" transform="rotate(-30 79.9 89.2)" fill="#86aeea"/><ellipse cx="79.9" cy="89.2" rx="2.70" ry="2.46" transform="rotate(-30 79.9 89.2)" fill="#5cc6dc"/></g>
</g>
<g transform="translate(0,126)">
<g filter="url(#bl)" opacity="1"><path d="M99.00,82.00 C99.38,80.92 99.83,80.03 101.00,79.50 C102.17,78.97 104.33,78.85 106.00,78.80 C107.67,78.75 109.77,78.67 111.00,79.20 C112.23,79.73 113.07,80.70 113.40,82.00 C113.73,83.30 113.48,85.17 113.00,87.00 C112.52,88.83 111.50,91.37 110.50,93.00 C109.50,94.63 108.17,96.47 107.00,96.80 C105.83,97.13 104.58,95.97 103.50,95.00 C102.42,94.03 101.30,92.50 100.50,91.00 C99.70,89.50 98.95,87.50 98.70,86.00 C98.45,84.50 98.62,83.08 99.00,82.00Z" fill="#ecb6e2" fill-opacity="0.85" stroke="#cc3f97" stroke-width="1.0"/><path d="M99.00,82.00 C99.38,80.92 99.83,80.03 101.00,79.50 C102.17,78.97 104.33,78.85 106.00,78.80 C107.67,78.75 109.77,78.67 111.00,79.20 C112.23,79.73 113.07,80.70 113.40,82.00 C113.73,83.30 113.48,85.17 113.00,87.00 C112.52,88.83 111.50,91.37 110.50,93.00 C109.50,94.63 108.17,96.47 107.00,96.80 C105.83,97.13 104.58,95.97 103.50,95.00 C102.42,94.03 101.30,92.50 100.50,91.00 C99.70,89.50 98.95,87.50 98.70,86.00 C98.45,84.50 98.62,83.08 99.00,82.00Z" fill="#fff" filter="url(#tex)"/><ellipse cx="106.5" cy="87.8" rx="5.90" ry="6.90" transform="rotate(0 106.5 87.8)" fill="#86aeea"/><ellipse cx="106.5" cy="87.8" rx="5.31" ry="6.21" transform="rotate(0 106.5 87.8)" fill="#5cc6dc"/><ellipse cx="106.5" cy="87.8" rx="4.84" ry="5.66" transform="rotate(0 106.5 87.8)" fill="#3db45a"/><ellipse cx="106.5" cy="87.8" rx="3.25" ry="3.80" transform="rotate(0 106.5 87.8)" fill="#8fd06a"/><ellipse cx="106.5" cy="87.8" rx="2.36" ry="2.76" transform="rotate(0 106.5 87.8)" fill="#f27c62"/></g>
</g>
<polyline points="88.6,163.5 88.6,199.4" fill="none" stroke="#3a3a3a" stroke-width="0.85"/>
<line x1="59.5" y1="199.4" x2="124.5" y2="199.4" stroke="#3a3a3a" stroke-width="0.85"/>
<rect x="62.2" y="164.7" width="15.6" height="6.199999999999999" fill="#fff" fill-opacity="0.75" stroke="#c8c8c8" stroke-width="0.6"/>
<text x="70.0" y="169.54999999999998" font-size="4.9" text-anchor="middle" fill="#4a4a4a" textLength="13.399999999999999" lengthAdjust="spacingAndGlyphs">15.64%</text>
<rect x="109" y="164.7" width="13.4" height="6.199999999999999" fill="#fff" fill-opacity="0.75" stroke="#c8c8c8" stroke-width="0.6"/>
<text x="115.7" y="169.54999999999998" font-size="4.9" text-anchor="middle" fill="#4a4a4a" textLength="11.2" lengthAdjust="spacingAndGlyphs">2.21%</text>
<rect x="59.5" y="163.5" width="65.0" height="64.0" fill="none" stroke="#505050" stroke-width="1.1"/>
<line x1="59.5" y1="163.0" x2="59.5" y2="228.1" stroke="#2a2a2a" stroke-width="1.3"/>
<line x1="58.9" y1="227.5" x2="125.0" y2="227.5" stroke="#2a2a2a" stroke-width="1.3"/>
<line x1="56.5" y1="163.7" x2="59.5" y2="163.7" stroke="#333" stroke-width="1"/>
<text x="52.9" y="165.79999999999998" font-size="5.6" text-anchor="end" fill="#505050">10</text>
<text x="53.0" y="163.2" font-size="3.6" text-anchor="start" fill="#505050">3</text>
<line x1="56.5" y1="178.5" x2="59.5" y2="178.5" stroke="#333" stroke-width="1"/>
<text x="52.9" y="180.6" font-size="5.6" text-anchor="end" fill="#505050">10</text>
<text x="53.0" y="178.0" font-size="3.6" text-anchor="start" fill="#505050">2</text>
<line x1="56.5" y1="193" x2="59.5" y2="193" stroke="#333" stroke-width="1"/>
<text x="52.9" y="195.1" font-size="5.6" text-anchor="end" fill="#505050">10</text>
<text x="53.0" y="192.5" font-size="3.6" text-anchor="start" fill="#505050">1</text>
<line x1="56.5" y1="208.6" x2="59.5" y2="208.6" stroke="#333" stroke-width="1"/>
<text x="52.9" y="210.7" font-size="5.6" text-anchor="end" fill="#505050">10</text>
<text x="53.0" y="208.1" font-size="3.6" text-anchor="start" fill="#505050">0</text>
<line x1="56.5" y1="221.8" x2="59.5" y2="221.8" stroke="#333" stroke-width="1"/>
<text x="53.3" y="223.9" font-size="5.6" text-anchor="end" fill="#505050">0</text>
<line x1="62.4" y1="227.5" x2="62.4" y2="230.5" stroke="#333" stroke-width="1"/>
<text x="62.4" y="240.5" font-size="5.6" text-anchor="middle" fill="#505050">-5</text>
<line x1="77.1" y1="227.5" x2="77.1" y2="230.5" stroke="#333" stroke-width="1"/>
<text x="77.1" y="240.5" font-size="5.6" text-anchor="middle" fill="#505050">0</text>
<line x1="98.9" y1="227.5" x2="98.9" y2="230.5" stroke="#333" stroke-width="1"/>
<text x="97.9" y="240.5" font-size="5.6" text-anchor="middle" fill="#505050">10</text>
<text x="101.2" y="237.9" font-size="3.6" text-anchor="start" fill="#505050">1</text>
<line x1="119.1" y1="227.5" x2="119.1" y2="230.5" stroke="#333" stroke-width="1"/>
<text x="118.1" y="240.5" font-size="5.6" text-anchor="middle" fill="#505050">10</text>
<text x="121.39999999999999" y="237.9" font-size="3.6" text-anchor="start" fill="#505050">2</text>
<line x1="57.7" y1="167.39999999999998" x2="59.5" y2="167.39999999999998" stroke="#444" stroke-width="0.7"/>
<line x1="57.7" y1="171.1" x2="59.5" y2="171.1" stroke="#444" stroke-width="0.7"/>
<line x1="57.7" y1="174.8" x2="59.5" y2="174.8" stroke="#444" stroke-width="0.7"/>
<line x1="57.7" y1="182.125" x2="59.5" y2="182.125" stroke="#444" stroke-width="0.7"/>
<line x1="57.7" y1="185.75" x2="59.5" y2="185.75" stroke="#444" stroke-width="0.7"/>
<line x1="57.7" y1="189.375" x2="59.5" y2="189.375" stroke="#444" stroke-width="0.7"/>
<line x1="57.7" y1="196.9" x2="59.5" y2="196.9" stroke="#444" stroke-width="0.7"/>
<line x1="57.7" y1="200.8" x2="59.5" y2="200.8" stroke="#444" stroke-width="0.7"/>
<line x1="57.7" y1="204.7" x2="59.5" y2="204.7" stroke="#444" stroke-width="0.7"/>
<line x1="57.7" y1="211.9" x2="59.5" y2="211.9" stroke="#444" stroke-width="0.7"/>
<line x1="57.7" y1="215.2" x2="59.5" y2="215.2" stroke="#444" stroke-width="0.7"/>
<line x1="57.7" y1="218.5" x2="59.5" y2="218.5" stroke="#444" stroke-width="0.7"/>
<line x1="66.075" y1="227.5" x2="66.075" y2="229.3" stroke="#444" stroke-width="0.7"/>
<line x1="69.75" y1="227.5" x2="69.75" y2="229.3" stroke="#444" stroke-width="0.7"/>
<line x1="73.425" y1="227.5" x2="73.425" y2="229.3" stroke="#444" stroke-width="0.7"/>
<line x1="80.73333333333333" y1="227.5" x2="80.73333333333333" y2="229.3" stroke="#444" stroke-width="0.7"/>
<line x1="84.36666666666666" y1="227.5" x2="84.36666666666666" y2="229.3" stroke="#444" stroke-width="0.7"/>
<line x1="88.0" y1="227.5" x2="88.0" y2="229.3" stroke="#444" stroke-width="0.7"/>
<line x1="91.63333333333334" y1="227.5" x2="91.63333333333334" y2="229.3" stroke="#444" stroke-width="0.7"/>
<line x1="95.26666666666667" y1="227.5" x2="95.26666666666667" y2="229.3" stroke="#444" stroke-width="0.7"/>
<line x1="102.26666666666667" y1="227.5" x2="102.26666666666667" y2="229.3" stroke="#444" stroke-width="0.7"/>
<line x1="105.63333333333334" y1="227.5" x2="105.63333333333334" y2="229.3" stroke="#444" stroke-width="0.7"/>
<line x1="109.0" y1="227.5" x2="109.0" y2="229.3" stroke="#444" stroke-width="0.7"/>
<line x1="112.36666666666666" y1="227.5" x2="112.36666666666666" y2="229.3" stroke="#444" stroke-width="0.7"/>
<line x1="115.73333333333333" y1="227.5" x2="115.73333333333333" y2="229.3" stroke="#444" stroke-width="0.7"/>
<text x="92" y="249.6" font-size="8.5" text-anchor="middle" fill="#3a3a3a" textLength="18.6" lengthAdjust="spacingAndGlyphs" stroke="#3a3a3a" stroke-width="0.1">CD43</text>
<text x="43.4" y="196.3" font-size="8.5" text-anchor="middle" fill="#3a3a3a" transform="rotate(-90 43.4 196.3)" textLength="16.6" lengthAdjust="spacingAndGlyphs" stroke="#3a3a3a" stroke-width="0.1">B220</text>
<text x="197.7" y="147.5" font-size="8.5" text-anchor="middle" fill="#3a3a3a" textLength="45" lengthAdjust="spacingAndGlyphs" stroke="#3a3a3a" stroke-width="0.1">[CD43-] IgM /</text>
<text x="198.5" y="157" font-size="8.5" text-anchor="middle" fill="#3a3a3a" textLength="12.1" lengthAdjust="spacingAndGlyphs" stroke="#3a3a3a" stroke-width="0.1">IgD</text>
<clipPath id="cp5"><rect x="166.1" y="164.0" width="63.9" height="62.9"/></clipPath>
<g clip-path="url(#cp5)"><g filter="url(#spkP)"><ellipse cx="190" cy="182" rx="14" ry="6" transform="rotate(0 190 182)" opacity="0.8"/><ellipse cx="190" cy="218" rx="13" ry="6" transform="rotate(0 190 218)" opacity="0.8"/><ellipse cx="200" cy="217" rx="12" ry="4" transform="rotate(0 200 217)" opacity="0.75"/><ellipse cx="208" cy="204" rx="18" ry="16" transform="rotate(0 208 204)" opacity="0.4"/><ellipse cx="185" cy="204" rx="10" ry="12" transform="rotate(0 185 204)" opacity="0.28"/><ellipse cx="218" cy="188" rx="10" ry="8" transform="rotate(0 218 188)" opacity="0.2"/></g></g>
<g transform="translate(0,126)">
<g filter="url(#bl)" opacity="1"><path d="M181.50,55.00 C181.67,54.02 183.42,52.72 185.00,52.30 C186.58,51.88 189.17,52.50 191.00,52.50 C192.83,52.50 194.83,51.88 196.00,52.30 C197.17,52.72 198.00,54.05 198.00,55.00 C198.00,55.95 197.33,57.43 196.00,58.00 C194.67,58.57 192.00,58.37 190.00,58.40 C188.00,58.43 185.42,58.77 184.00,58.20 C182.58,57.63 181.33,55.98 181.50,55.00Z" fill="#ecb6e2" fill-opacity="0.7" stroke="#cc3f97" stroke-width="0.9"/><path d="M181.50,55.00 C181.67,54.02 183.42,52.72 185.00,52.30 C186.58,51.88 189.17,52.50 191.00,52.50 C192.83,52.50 194.83,51.88 196.00,52.30 C197.17,52.72 198.00,54.05 198.00,55.00 C198.00,55.95 197.33,57.43 196.00,58.00 C194.67,58.57 192.00,58.37 190.00,58.40 C188.00,58.43 185.42,58.77 184.00,58.20 C182.58,57.63 181.33,55.98 181.50,55.00Z" fill="#fff" filter="url(#tex)"/><ellipse cx="186" cy="55.3" rx="2.20" ry="1.40" transform="rotate(0 186 55.3)" fill="#86aeea"/><ellipse cx="192.5" cy="54.6" rx="2.20" ry="1.30" transform="rotate(0 192.5 54.6)" fill="#86aeea"/></g>
</g>
<g transform="translate(0,126)">
<g filter="url(#bl)" opacity="1"><path d="M176.00,91.00 C176.25,89.75 177.50,88.63 179.00,88.00 C180.50,87.37 183.17,87.12 185.00,87.20 C186.83,87.28 188.97,87.70 190.00,88.50 C191.03,89.30 191.37,90.83 191.20,92.00 C191.03,93.17 190.37,94.67 189.00,95.50 C187.63,96.33 184.92,97.00 183.00,97.00 C181.08,97.00 178.67,96.50 177.50,95.50 C176.33,94.50 175.75,92.25 176.00,91.00Z" fill="#ecb6e2" fill-opacity="0.85" stroke="#cc3f97" stroke-width="1.0"/><path d="M176.00,91.00 C176.25,89.75 177.50,88.63 179.00,88.00 C180.50,87.37 183.17,87.12 185.00,87.20 C186.83,87.28 188.97,87.70 190.00,88.50 C191.03,89.30 191.37,90.83 191.20,92.00 C191.03,93.17 190.37,94.67 189.00,95.50 C187.63,96.33 184.92,97.00 183.00,97.00 C181.08,97.00 178.67,96.50 177.50,95.50 C176.33,94.50 175.75,92.25 176.00,91.00Z" fill="#fff" filter="url(#tex)"/><ellipse cx="183.3" cy="92" rx="5.00" ry="3.30" transform="rotate(0 183.3 92)" fill="#86aeea"/><ellipse cx="183.3" cy="92" rx="3.75" ry="2.47" transform="rotate(0 183.3 92)" fill="#5cc6dc"/><ellipse cx="183.3" cy="92" rx="2.50" ry="1.65" transform="rotate(0 183.3 92)" fill="#3db45a"/></g>
</g>
<g transform="translate(0,126)">
<g filter="url(#bl)" opacity="1"><path d="M191.00,90.50 C191.92,89.67 194.50,89.08 197.00,89.00 C199.50,88.92 204.67,89.25 206.00,90.00 C207.33,90.75 206.50,92.72 205.00,93.50 C203.50,94.28 199.25,94.62 197.00,94.70 C194.75,94.78 192.50,94.70 191.50,94.00 C190.50,93.30 190.08,91.33 191.00,90.50Z" fill="#ecb6e2" fill-opacity="0.2" stroke="#cc3f97" stroke-width="0.7"/></g>
</g>
<polyline points="165.5,192.3 192.3,192.3 192.3,227.5" fill="none" stroke="#3a3a3a" stroke-width="0.85"/>
<polyline points="192.3,192.3 214.3,181.6 214.3,163.5" fill="none" stroke="#3a3a3a" stroke-width="0.85"/>
<line x1="214.3" y1="181.6" x2="230.5" y2="181.6" stroke="#3a3a3a" stroke-width="0.85"/>
<rect x="172.5" y="165.0" width="17.7" height="6.6" fill="#fff" fill-opacity="0.75" stroke="#c8c8c8" stroke-width="0.6"/>
<text x="181.35" y="170.05" font-size="4.9" text-anchor="middle" fill="#4a4a4a" textLength="15.5" lengthAdjust="spacingAndGlyphs">27.07%</text>
<rect x="212.7" y="220.5" width="15.5" height="6.6" fill="#fff" fill-opacity="0.75" stroke="#c8c8c8" stroke-width="0.6"/>
<text x="220.45" y="225.55" font-size="4.9" text-anchor="middle" fill="#4a4a4a" textLength="13.3" lengthAdjust="spacingAndGlyphs">21.84%</text>
<rect x="165.5" y="163.5" width="65.0" height="64.0" fill="none" stroke="#505050" stroke-width="1.1"/>
<line x1="165.5" y1="163.0" x2="165.5" y2="228.1" stroke="#2a2a2a" stroke-width="1.3"/>
<line x1="164.9" y1="227.5" x2="231.0" y2="227.5" stroke="#2a2a2a" stroke-width="1.3"/>
<line x1="162.5" y1="178.5" x2="165.5" y2="178.5" stroke="#333" stroke-width="1"/>
<text x="158.9" y="180.6" font-size="5.6" text-anchor="end" fill="#505050">10</text>
<text x="159.0" y="178.0" font-size="3.6" text-anchor="start" fill="#505050">2</text>
<line x1="162.5" y1="193" x2="165.5" y2="193" stroke="#333" stroke-width="1"/>
<text x="158.9" y="195.1" font-size="5.6" text-anchor="end" fill="#505050">10</text>
<text x="159.0" y="192.5" font-size="3.6" text-anchor="start" fill="#505050">1</text>
<line x1="162.5" y1="217.3" x2="165.5" y2="217.3" stroke="#333" stroke-width="1"/>
<text x="159.3" y="219.4" font-size="5.6" text-anchor="end" fill="#505050">0</text>
<line x1="179.6" y1="227.5" x2="179.6" y2="230.5" stroke="#333" stroke-width="1"/>
<text x="179.6" y="240.5" font-size="5.6" text-anchor="middle" fill="#505050">0</text>
<line x1="190.2" y1="227.5" x2="190.2" y2="230.5" stroke="#333" stroke-width="1"/>
<text x="190.2" y="240.5" font-size="5.6" text-anchor="middle" fill="#505050">1</text>
<line x1="214.1" y1="227.5" x2="214.1" y2="230.5" stroke="#333" stroke-width="1"/>
<text x="213.1" y="240.5" font-size="5.6" text-anchor="middle" fill="#505050">10</text>
<text x="216.4" y="237.9" font-size="3.6" text-anchor="start" fill="#505050">1</text>
<line x1="163.7" y1="182.125" x2="165.5" y2="182.125" stroke="#444" stroke-width="0.7"/>
<line x1="163.7" y1="185.75" x2="165.5" y2="185.75" stroke="#444" stroke-width="0.7"/>
<line x1="163.7" y1="189.375" x2="165.5" y2="189.375" stroke="#444" stroke-width="0.7"/>
<line x1="163.7" y1="196.47142857142856" x2="165.5" y2="196.47142857142856" stroke="#444" stroke-width="0.7"/>
<line x1="163.7" y1="199.94285714285715" x2="165.5" y2="199.94285714285715" stroke="#444" stroke-width="0.7"/>
<line x1="163.7" y1="203.4142857142857" x2="165.5" y2="203.4142857142857" stroke="#444" stroke-width="0.7"/>
<line x1="163.7" y1="206.8857142857143" x2="165.5" y2="206.8857142857143" stroke="#444" stroke-width="0.7"/>
<line x1="163.7" y1="210.35714285714286" x2="165.5" y2="210.35714285714286" stroke="#444" stroke-width="0.7"/>
<line x1="163.7" y1="213.82857142857145" x2="165.5" y2="213.82857142857145" stroke="#444" stroke-width="0.7"/>
<line x1="183.13333333333333" y1="227.5" x2="183.13333333333333" y2="229.3" stroke="#444" stroke-width="0.7"/>
<line x1="186.66666666666666" y1="227.5" x2="186.66666666666666" y2="229.3" stroke="#444" stroke-width="0.7"/>
<line x1="193.6142857142857" y1="227.5" x2="193.6142857142857" y2="229.3" stroke="#444" stroke-width="0.7"/>
<line x1="197.0285714285714" y1="227.5" x2="197.0285714285714" y2="229.3" stroke="#444" stroke-width="0.7"/>
<line x1="200.44285714285712" y1="227.5" x2="200.44285714285712" y2="229.3" stroke="#444" stroke-width="0.7"/>
<line x1="203.85714285714286" y1="227.5" x2="203.85714285714286" y2="229.3" stroke="#444" stroke-width="0.7"/>
<line x1="207.27142857142857" y1="227.5" x2="207.27142857142857" y2="229.3" stroke="#444" stroke-width="0.7"/>
<line x1="210.68571428571428" y1="227.5" x2="210.68571428571428" y2="229.3" stroke="#444" stroke-width="0.7"/>
<text x="198.4" y="249.6" font-size="8.5" text-anchor="middle" fill="#3a3a3a" textLength="13.8" lengthAdjust="spacingAndGlyphs" stroke="#3a3a3a" stroke-width="0.1">IgM</text>
<text x="149.3" y="196" font-size="8.5" text-anchor="middle" fill="#3a3a3a" transform="rotate(-90 149.3 196)" textLength="11.5" lengthAdjust="spacingAndGlyphs" stroke="#3a3a3a" stroke-width="0.1">IgD</text>
<text x="313.3" y="147.4" font-size="8.5" text-anchor="middle" fill="#3a3a3a" textLength="54.5" lengthAdjust="spacingAndGlyphs" stroke="#3a3a3a" stroke-width="0.1">[CD43+] CD24 /</text>
<text x="313.3" y="157.2" font-size="8.5" text-anchor="middle" fill="#3a3a3a" textLength="20.8" lengthAdjust="spacingAndGlyphs" stroke="#3a3a3a" stroke-width="0.1">SSC-A</text>
<clipPath id="cp6"><rect x="282.1" y="164.0" width="62.9" height="62.9"/></clipPath>
<g clip-path="url(#cp6)"><g filter="url(#spkP)"><ellipse cx="313" cy="223" rx="31" ry="3" transform="rotate(0 313 223)" opacity="0.95"/><ellipse cx="334" cy="216" rx="9" ry="11" transform="rotate(0 334 216)" opacity="0.55"/><ellipse cx="336" cy="206" rx="8" ry="10" transform="rotate(0 336 206)" opacity="0.28"/></g></g>
<g transform="translate(0,126)">
<g filter="url(#bl)" opacity="0.85"><path d="M305.00,97.20 C305.00,96.62 307.33,95.93 309.00,95.60 C310.67,95.27 313.25,95.00 315.00,95.20 C316.75,95.40 319.17,96.18 319.50,96.80 C319.83,97.42 318.75,98.52 317.00,98.90 C315.25,99.28 311.00,99.38 309.00,99.10 C307.00,98.82 305.00,97.78 305.00,97.20Z" fill="#ecb6e2" fill-opacity="0.45" stroke="#cc3f97" stroke-width="0.65"/><path d="M305.00,97.20 C305.00,96.62 307.33,95.93 309.00,95.60 C310.67,95.27 313.25,95.00 315.00,95.20 C316.75,95.40 319.17,96.18 319.50,96.80 C319.83,97.42 318.75,98.52 317.00,98.90 C315.25,99.28 311.00,99.38 309.00,99.10 C307.00,98.82 305.00,97.78 305.00,97.20Z" fill="#fff" filter="url(#tex)"/><ellipse cx="313" cy="97.2" rx="3.00" ry="1.10" transform="rotate(0 313 97.2)" fill="#86aeea"/></g>
</g>
<g transform="translate(0,126)">
<g filter="url(#bl)" opacity="0.85"><path d="M324.00,98.00 C324.25,97.52 325.83,96.80 327.00,96.60 C328.17,96.40 330.08,96.53 331.00,96.80 C331.92,97.07 332.67,97.75 332.50,98.20 C332.33,98.65 331.17,99.28 330.00,99.50 C328.83,99.72 326.50,99.75 325.50,99.50 C324.50,99.25 323.75,98.48 324.00,98.00Z" fill="#ecb6e2" fill-opacity="0.45" stroke="#cc3f97" stroke-width="0.65"/><path d="M324.00,98.00 C324.25,97.52 325.83,96.80 327.00,96.60 C328.17,96.40 330.08,96.53 331.00,96.80 C331.92,97.07 332.67,97.75 332.50,98.20 C332.33,98.65 331.17,99.28 330.00,99.50 C328.83,99.72 326.50,99.75 325.50,99.50 C324.50,99.25 323.75,98.48 324.00,98.00Z" fill="#fff" filter="url(#tex)"/></g>
</g>
<g transform="translate(0,126)">
<g filter="url(#bl)" opacity="1"><path d="M289.50,98.20 C289.50,97.95 291.20,97.58 292.00,97.60 C292.80,97.62 294.30,98.05 294.30,98.30 C294.30,98.55 292.80,99.12 292.00,99.10 C291.20,99.08 289.50,98.45 289.50,98.20Z" fill="#ecb6e2" fill-opacity="0.4" stroke="#cc3f97" stroke-width="0.6"/><path d="M289.50,98.20 C289.50,97.95 291.20,97.58 292.00,97.60 C292.80,97.62 294.30,98.05 294.30,98.30 C294.30,98.55 292.80,99.12 292.00,99.10 C291.20,99.08 289.50,98.45 289.50,98.20Z" fill="#fff" filter="url(#tex)"/></g>
</g>
<polyline points="301.5,163.5 301.5,227.5" fill="none" stroke="#3a3a3a" stroke-width="0.85"/>
<polyline points="321.2,163.5 321.2,227.5" fill="none" stroke="#3a3a3a" stroke-width="0.85"/>
<rect x="304.6" y="167.5" width="16.2" height="7.0" fill="#fff" fill-opacity="0.75" stroke="#c8c8c8" stroke-width="0.6"/>
<text x="312.70000000000005" y="172.75" font-size="4.9" text-anchor="middle" fill="#4a4a4a" textLength="14.0" lengthAdjust="spacingAndGlyphs">39.61%</text>
<rect x="327.7" y="167.5" width="16.9" height="7.0" fill="#fff" fill-opacity="0.75" stroke="#c8c8c8" stroke-width="0.6"/>
<text x="336.15" y="172.75" font-size="4.9" text-anchor="middle" fill="#4a4a4a" textLength="14.7" lengthAdjust="spacingAndGlyphs">45.89%</text>
<rect x="281.5" y="163.5" width="64.0" height="64.0" fill="none" stroke="#505050" stroke-width="1.1"/>
<line x1="281.5" y1="163.0" x2="281.5" y2="228.1" stroke="#2a2a2a" stroke-width="1.3"/>
<line x1="280.9" y1="227.5" x2="346.0" y2="227.5" stroke="#2a2a2a" stroke-width="1.3"/>
<line x1="278.5" y1="164.9" x2="281.5" y2="164.9" stroke="#333" stroke-width="1"/>
<text x="275.3" y="167.0" font-size="5.6" text-anchor="end" fill="#505050">1000</text>
<line x1="278.5" y1="177.5" x2="281.5" y2="177.5" stroke="#333" stroke-width="1"/>
<text x="275.3" y="179.6" font-size="5.6" text-anchor="end" fill="#505050">800</text>
<line x1="278.5" y1="190.2" x2="281.5" y2="190.2" stroke="#333" stroke-width="1"/>
<text x="275.3" y="192.29999999999998" font-size="5.6" text-anchor="end" fill="#505050">600</text>
<line x1="278.5" y1="202.9" x2="281.5" y2="202.9" stroke="#333" stroke-width="1"/>
<text x="275.3" y="205.0" font-size="5.6" text-anchor="end" fill="#505050">400</text>
<line x1="278.5" y1="215.5" x2="281.5" y2="215.5" stroke="#333" stroke-width="1"/>
<text x="275.3" y="217.6" font-size="5.6" text-anchor="end" fill="#505050">200</text>
<line x1="278.5" y1="227.5" x2="281.5" y2="227.5" stroke="#333" stroke-width="1"/>
<text x="275.3" y="229.6" font-size="5.6" text-anchor="end" fill="#505050">0</text>
<line x1="291.3" y1="227.5" x2="291.3" y2="230.5" stroke="#333" stroke-width="1"/>
<text x="291.3" y="240.5" font-size="5.6" text-anchor="middle" fill="#505050">0</text>
<line x1="316.8" y1="227.5" x2="316.8" y2="230.5" stroke="#333" stroke-width="1"/>
<text x="315.8" y="240.5" font-size="5.6" text-anchor="middle" fill="#505050">10</text>
<text x="319.1" y="237.9" font-size="3.6" text-anchor="start" fill="#505050">1</text>
<line x1="331" y1="227.5" x2="331" y2="230.5" stroke="#333" stroke-width="1"/>
<text x="330" y="240.5" font-size="5.6" text-anchor="middle" fill="#505050">10</text>
<text x="333.3" y="237.9" font-size="3.6" text-anchor="start" fill="#505050">2</text>
<line x1="346" y1="227.5" x2="346" y2="230.5" stroke="#333" stroke-width="1"/>
<text x="345" y="240.5" font-size="5.6" text-anchor="middle" fill="#505050">10</text>
<text x="348.3" y="237.9" font-size="3.6" text-anchor="start" fill="#505050">3</text>
<line x1="279.7" y1="169.1" x2="281.5" y2="169.1" stroke="#444" stroke-width="0.7"/>
<line x1="279.7" y1="173.3" x2="281.5" y2="173.3" stroke="#444" stroke-width="0.7"/>
<line x1="279.7" y1="181.73333333333332" x2="281.5" y2="181.73333333333332" stroke="#444" stroke-width="0.7"/>
<line x1="279.7" y1="185.96666666666667" x2="281.5" y2="185.96666666666667" stroke="#444" stroke-width="0.7"/>
<line x1="279.7" y1="194.43333333333334" x2="281.5" y2="194.43333333333334" stroke="#444" stroke-width="0.7"/>
<line x1="279.7" y1="198.66666666666666" x2="281.5" y2="198.66666666666666" stroke="#444" stroke-width="0.7"/>
<line x1="279.7" y1="207.1" x2="281.5" y2="207.1" stroke="#444" stroke-width="0.7"/>
<line x1="279.7" y1="211.3" x2="281.5" y2="211.3" stroke="#444" stroke-width="0.7"/>
<line x1="279.7" y1="219.5" x2="281.5" y2="219.5" stroke="#444" stroke-width="0.7"/>
<line x1="279.7" y1="223.5" x2="281.5" y2="223.5" stroke="#444" stroke-width="0.7"/>
<line x1="294.9428571428572" y1="227.5" x2="294.9428571428572" y2="229.3" stroke="#444" stroke-width="0.7"/>
<line x1="298.5857142857143" y1="227.5" x2="298.5857142857143" y2="229.3" stroke="#444" stroke-width="0.7"/>
<line x1="302.22857142857146" y1="227.5" x2="302.22857142857146" y2="229.3" stroke="#444" stroke-width="0.7"/>
<line x1="305.87142857142857" y1="227.5" x2="305.87142857142857" y2="229.3" stroke="#444" stroke-width="0.7"/>
<line x1="309.51428571428573" y1="227.5" x2="309.51428571428573" y2="229.3" stroke="#444" stroke-width="0.7"/>
<line x1="313.15714285714284" y1="227.5" x2="313.15714285714284" y2="229.3" stroke="#444" stroke-width="0.7"/>
<line x1="320.35" y1="227.5" x2="320.35" y2="229.3" stroke="#444" stroke-width="0.7"/>
<line x1="323.9" y1="227.5" x2="323.9" y2="229.3" stroke="#444" stroke-width="0.7"/>
<line x1="327.45" y1="227.5" x2="327.45" y2="229.3" stroke="#444" stroke-width="0.7"/>
<line x1="334.75" y1="227.5" x2="334.75" y2="229.3" stroke="#444" stroke-width="0.7"/>
<line x1="338.5" y1="227.5" x2="338.5" y2="229.3" stroke="#444" stroke-width="0.7"/>
<line x1="342.25" y1="227.5" x2="342.25" y2="229.3" stroke="#444" stroke-width="0.7"/>
<text x="313" y="249.6" font-size="8.5" text-anchor="middle" fill="#3a3a3a" textLength="18.5" lengthAdjust="spacingAndGlyphs" stroke="#3a3a3a" stroke-width="0.1">CD24</text>
<text x="258.7" y="197.3" font-size="8.5" text-anchor="middle" fill="#3a3a3a" transform="rotate(-90 258.7 197.3)" textLength="22" lengthAdjust="spacingAndGlyphs" stroke="#3a3a3a" stroke-width="0.1">SSC-A</text>
<text x="462" y="21.3" font-size="8.5" text-anchor="middle" fill="#3a3a3a" textLength="82.7" lengthAdjust="spacingAndGlyphs" stroke="#3a3a3a" stroke-width="0.1">[B220+] CD11B BV421 /</text>
<text x="462.7" y="31" font-size="8.5" text-anchor="middle" fill="#3a3a3a" textLength="40" lengthAdjust="spacingAndGlyphs" stroke="#3a3a3a" stroke-width="0.1">CD5 BV786</text>
<text x="389.3" y="72.5" font-size="8.5" text-anchor="end" fill="#3a3a3a" textLength="14" lengthAdjust="spacingAndGlyphs" stroke="#3a3a3a" stroke-width="0.1">Par-4</text>
<clipPath id="cp7"><rect x="430.1" y="35.5" width="66.9" height="65.9"/></clipPath>
<g clip-path="url(#cp7)"><g filter="url(#spkP)"><ellipse cx="464" cy="83" rx="31" ry="6.5" transform="rotate(0 464 83)" opacity="0.62"/><ellipse cx="450" cy="83" rx="9" ry="7" transform="rotate(0 450 83)" opacity="0.8"/><ellipse cx="470" cy="63" rx="24" ry="14" transform="rotate(0 470 63)" opacity="0.3"/><ellipse cx="441" cy="60" rx="6" ry="14" transform="rotate(0 441 60)" opacity="0.2"/></g></g>
<g transform="translate(0,0)">
<g filter="url(#bl)" opacity="1"><path d="M436.08,82.12 C436.38,80.74 436.90,78.85 437.88,77.98 C438.86,77.11 440.50,76.88 441.93,76.88 C443.36,76.88 445.38,77.18 446.43,77.98 C447.48,78.78 448.16,80.20 448.23,81.66 C448.31,83.12 447.78,85.29 446.88,86.72 C445.98,88.15 444.25,89.76 442.83,90.22 C441.40,90.68 439.45,90.14 438.33,89.48 C437.20,88.82 436.45,87.49 436.08,86.26 C435.70,85.03 435.78,83.50 436.08,82.12Z" fill="#ecb6e2" fill-opacity="0.85" stroke="#cc3f97" stroke-width="1.0"/><path d="M436.08,82.12 C436.38,80.74 436.90,78.85 437.88,77.98 C438.86,77.11 440.50,76.88 441.93,76.88 C443.36,76.88 445.38,77.18 446.43,77.98 C447.48,78.78 448.16,80.20 448.23,81.66 C448.31,83.12 447.78,85.29 446.88,86.72 C445.98,88.15 444.25,89.76 442.83,90.22 C441.40,90.68 439.45,90.14 438.33,89.48 C437.20,88.82 436.45,87.49 436.08,86.26 C435.70,85.03 435.78,83.50 436.08,82.12Z" fill="#fff" filter="url(#tex)"/><ellipse cx="441" cy="83.4" rx="3.90" ry="4.90" transform="rotate(0 441 83.4)" fill="#86aeea"/><ellipse cx="441" cy="83.4" rx="2.92" ry="3.68" transform="rotate(0 441 83.4)" fill="#5cc6dc"/><ellipse cx="441" cy="83.4" rx="1.95" ry="2.45" transform="rotate(0 441 83.4)" fill="#3db45a"/></g>
</g>
<g transform="translate(0,0)">
<g filter="url(#bl)" opacity="1"><path d="M447.50,80.00 C448.25,79.13 450.25,81.22 452.00,81.80 C453.75,82.38 458.00,82.92 458.00,83.50 C458.00,84.08 453.75,84.72 452.00,85.30 C450.25,85.88 448.25,87.88 447.50,87.00 C446.75,86.12 446.75,80.87 447.50,80.00Z" fill="#ecb6e2" fill-opacity="0.4" stroke="#cc3f97" stroke-width="0.7"/></g>
</g>
<line x1="449.2" y1="35" x2="449.2" y2="102" stroke="#3a3a3a" stroke-width="0.85"/>
<line x1="429.5" y1="74.6" x2="497.5" y2="74.6" stroke="#3a3a3a" stroke-width="0.85"/>
<rect x="484.3" y="35.2" width="12.3" height="6.4" fill="#fff" fill-opacity="0.75" stroke="#c8c8c8" stroke-width="0.6"/>
<text x="490.45" y="40.150000000000006" font-size="4.9" text-anchor="middle" fill="#4a4a4a" textLength="10.100000000000001" lengthAdjust="spacingAndGlyphs">2.79%</text>
<rect x="431.5" y="96.60000000000001" width="14.5" height="6.199999999999999" fill="#fff" fill-opacity="0.75" stroke="#c8c8c8" stroke-width="0.6"/>
<text x="438.75" y="101.45" font-size="4.9" text-anchor="middle" fill="#4a4a4a" textLength="12.3" lengthAdjust="spacingAndGlyphs">62.97%</text>
<rect x="480" y="95.7" width="16" height="6.6" fill="#fff" fill-opacity="0.75" stroke="#c8c8c8" stroke-width="0.6"/>
<text x="488.0" y="100.75" font-size="4.9" text-anchor="middle" fill="#4a4a4a" textLength="13.8" lengthAdjust="spacingAndGlyphs">25.46%</text>
<rect x="429.5" y="35" width="68.0" height="67" fill="none" stroke="#505050" stroke-width="1.1"/>
<line x1="429.5" y1="34.5" x2="429.5" y2="102.6" stroke="#2a2a2a" stroke-width="1.3"/>
<line x1="428.9" y1="102" x2="498.0" y2="102" stroke="#2a2a2a" stroke-width="1.3"/>
<line x1="426.5" y1="56" x2="429.5" y2="56" stroke="#333" stroke-width="1"/>
<text x="423.3" y="58.1" font-size="5.6" text-anchor="end" fill="#505050">2000</text>
<line x1="426.5" y1="66.5" x2="429.5" y2="66.5" stroke="#333" stroke-width="1"/>
<text x="423.3" y="68.6" font-size="5.6" text-anchor="end" fill="#505050">1000</text>
<line x1="426.5" y1="81.8" x2="429.5" y2="81.8" stroke="#333" stroke-width="1"/>
<text x="423.3" y="83.89999999999999" font-size="5.6" text-anchor="end" fill="#505050">0</text>
<line x1="426.5" y1="96" x2="429.5" y2="96" stroke="#333" stroke-width="1"/>
<text x="423.3" y="98.1" font-size="5.6" text-anchor="end" fill="#505050">-1000</text>
<line x1="440.6" y1="102" x2="440.6" y2="105" stroke="#333" stroke-width="1"/>
<text x="440.6" y="115" font-size="5.6" text-anchor="middle" fill="#505050">0</text>
<line x1="456.3" y1="102" x2="456.3" y2="105" stroke="#333" stroke-width="1"/>
<text x="456.3" y="115" font-size="5.6" text-anchor="middle" fill="#505050">500</text>
<line x1="466.5" y1="102" x2="466.5" y2="105" stroke="#333" stroke-width="1"/>
<text x="465.5" y="115" font-size="5.6" text-anchor="middle" fill="#505050">10</text>
<text x="468.8" y="112.4" font-size="3.6" text-anchor="start" fill="#505050">3</text>
<line x1="427.7" y1="59.5" x2="429.5" y2="59.5" stroke="#444" stroke-width="0.7"/>
<line x1="427.7" y1="63.0" x2="429.5" y2="63.0" stroke="#444" stroke-width="0.7"/>
<line x1="427.7" y1="70.325" x2="429.5" y2="70.325" stroke="#444" stroke-width="0.7"/>
<line x1="427.7" y1="74.15" x2="429.5" y2="74.15" stroke="#444" stroke-width="0.7"/>
<line x1="427.7" y1="77.975" x2="429.5" y2="77.975" stroke="#444" stroke-width="0.7"/>
<line x1="427.7" y1="85.35" x2="429.5" y2="85.35" stroke="#444" stroke-width="0.7"/>
<line x1="427.7" y1="88.9" x2="429.5" y2="88.9" stroke="#444" stroke-width="0.7"/>
<line x1="427.7" y1="92.45" x2="429.5" y2="92.45" stroke="#444" stroke-width="0.7"/>
<line x1="444.52500000000003" y1="102" x2="444.52500000000003" y2="103.8" stroke="#444" stroke-width="0.7"/>
<line x1="448.45000000000005" y1="102" x2="448.45000000000005" y2="103.8" stroke="#444" stroke-width="0.7"/>
<line x1="452.375" y1="102" x2="452.375" y2="103.8" stroke="#444" stroke-width="0.7"/>
<line x1="459.7" y1="102" x2="459.7" y2="103.8" stroke="#444" stroke-width="0.7"/>
<line x1="463.1" y1="102" x2="463.1" y2="103.8" stroke="#444" stroke-width="0.7"/>
<text x="463" y="125.5" font-size="8.5" text-anchor="middle" fill="#3a3a3a" textLength="47.4" lengthAdjust="spacingAndGlyphs" stroke="#3a3a3a" stroke-width="0.1">CD11B BV421</text>
<text x="404.3" y="68.7" font-size="8.5" text-anchor="middle" fill="#3a3a3a" transform="rotate(-90 404.3 68.7)" textLength="39.5" lengthAdjust="spacingAndGlyphs" stroke="#3a3a3a" stroke-width="0.1">CD5 BV786</text>
<text x="462" y="146.8" font-size="8.5" text-anchor="middle" fill="#3a3a3a" textLength="82.7" lengthAdjust="spacingAndGlyphs" stroke="#3a3a3a" stroke-width="0.1">[B220+] CD11B BV421 /</text>
<text x="462.7" y="156.5" font-size="8.5" text-anchor="middle" fill="#3a3a3a" textLength="40" lengthAdjust="spacingAndGlyphs" stroke="#3a3a3a" stroke-width="0.1">CD5 BV786</text>
<text x="389.3" y="198.0" font-size="8.5" text-anchor="end" fill="#3a3a3a" textLength="11" lengthAdjust="spacingAndGlyphs" stroke="#3a3a3a" stroke-width="0.1">WT</text>
<clipPath id="cp8"><rect x="430.1" y="161.0" width="66.9" height="65.9"/></clipPath>
<g clip-path="url(#cp8)"><g filter="url(#spkP)"><ellipse cx="464" cy="208.5" rx="31" ry="6.5" transform="rotate(0 464 208.5)" opacity="0.62"/><ellipse cx="450" cy="208.5" rx="9" ry="7" transform="rotate(0 450 208.5)" opacity="0.8"/><ellipse cx="470" cy="188.5" rx="24" ry="14" transform="rotate(0 470 188.5)" opacity="0.3"/><ellipse cx="441" cy="185.5" rx="6" ry="14" transform="rotate(0 441 185.5)" opacity="0.2"/></g></g>
<g transform="translate(0,125.5)">
<g filter="url(#bl)" opacity="1"><path d="M436.08,82.12 C436.38,80.74 436.90,78.85 437.88,77.98 C438.86,77.11 440.50,76.88 441.93,76.88 C443.36,76.88 445.38,77.18 446.43,77.98 C447.48,78.78 448.16,80.20 448.23,81.66 C448.31,83.12 447.78,85.29 446.88,86.72 C445.98,88.15 444.25,89.76 442.83,90.22 C441.40,90.68 439.45,90.14 438.33,89.48 C437.20,88.82 436.45,87.49 436.08,86.26 C435.70,85.03 435.78,83.50 436.08,82.12Z" fill="#ecb6e2" fill-opacity="0.85" stroke="#cc3f97" stroke-width="1.0"/><path d="M436.08,82.12 C436.38,80.74 436.90,78.85 437.88,77.98 C438.86,77.11 440.50,76.88 441.93,76.88 C443.36,76.88 445.38,77.18 446.43,77.98 C447.48,78.78 448.16,80.20 448.23,81.66 C448.31,83.12 447.78,85.29 446.88,86.72 C445.98,88.15 444.25,89.76 442.83,90.22 C441.40,90.68 439.45,90.14 438.33,89.48 C437.20,88.82 436.45,87.49 436.08,86.26 C435.70,85.03 435.78,83.50 436.08,82.12Z" fill="#fff" filter="url(#tex)"/><ellipse cx="441" cy="83.4" rx="3.90" ry="4.90" transform="rotate(0 441 83.4)" fill="#86aeea"/><ellipse cx="441" cy="83.4" rx="2.92" ry="3.68" transform="rotate(0 441 83.4)" fill="#5cc6dc"/><ellipse cx="441" cy="83.4" rx="1.95" ry="2.45" transform="rotate(0 441 83.4)" fill="#3db45a"/></g>
</g>
<g transform="translate(0,125.5)">
<g filter="url(#bl)" opacity="1"><path d="M447.50,80.00 C448.25,79.13 450.25,81.22 452.00,81.80 C453.75,82.38 458.00,82.92 458.00,83.50 C458.00,84.08 453.75,84.72 452.00,85.30 C450.25,85.88 448.25,87.88 447.50,87.00 C446.75,86.12 446.75,80.87 447.50,80.00Z" fill="#ecb6e2" fill-opacity="0.4" stroke="#cc3f97" stroke-width="0.7"/></g>
</g>
<line x1="449.2" y1="160.5" x2="449.2" y2="227.5" stroke="#3a3a3a" stroke-width="0.85"/>
<line x1="429.5" y1="200.1" x2="497.5" y2="200.1" stroke="#3a3a3a" stroke-width="0.85"/>
<rect x="484.3" y="160.7" width="12.3" height="6.4" fill="#fff" fill-opacity="0.75" stroke="#c8c8c8" stroke-width="0.6"/>
<text x="490.45" y="165.64999999999998" font-size="4.9" text-anchor="middle" fill="#4a4a4a" textLength="10.100000000000001" lengthAdjust="spacingAndGlyphs">5.07%</text>
<rect x="431.5" y="222.1" width="14.5" height="6.199999999999999" fill="#fff" fill-opacity="0.75" stroke="#c8c8c8" stroke-width="0.6"/>
<text x="438.75" y="226.95" font-size="4.9" text-anchor="middle" fill="#4a4a4a" textLength="12.3" lengthAdjust="spacingAndGlyphs">70.92%</text>
<rect x="480" y="221.2" width="16" height="6.6" fill="#fff" fill-opacity="0.75" stroke="#c8c8c8" stroke-width="0.6"/>
<text x="488.0" y="226.25" font-size="4.9" text-anchor="middle" fill="#4a4a4a" textLength="13.8" lengthAdjust="spacingAndGlyphs">21.31%</text>
<rect x="429.5" y="160.5" width="68.0" height="67.0" fill="none" stroke="#505050" stroke-width="1.1"/>
<line x1="429.5" y1="160.0" x2="429.5" y2="228.1" stroke="#2a2a2a" stroke-width="1.3"/>
<line x1="428.9" y1="227.5" x2="498.0" y2="227.5" stroke="#2a2a2a" stroke-width="1.3"/>
<line x1="426.5" y1="181.5" x2="429.5" y2="181.5" stroke="#333" stroke-width="1"/>
<text x="423.3" y="183.6" font-size="5.6" text-anchor="end" fill="#505050">2000</text>
<line x1="426.5" y1="192.0" x2="429.5" y2="192.0" stroke="#333" stroke-width="1"/>
<text x="423.3" y="194.1" font-size="5.6" text-anchor="end" fill="#505050">1000</text>
<line x1="426.5" y1="207.3" x2="429.5" y2="207.3" stroke="#333" stroke-width="1"/>
<text x="423.3" y="209.4" font-size="5.6" text-anchor="end" fill="#505050">0</text>
<line x1="426.5" y1="221.5" x2="429.5" y2="221.5" stroke="#333" stroke-width="1"/>
<text x="423.3" y="223.6" font-size="5.6" text-anchor="end" fill="#505050">-1000</text>
<line x1="440.6" y1="227.5" x2="440.6" y2="230.5" stroke="#333" stroke-width="1"/>
<text x="440.6" y="240.5" font-size="5.6" text-anchor="middle" fill="#505050">0</text>
<line x1="456.3" y1="227.5" x2="456.3" y2="230.5" stroke="#333" stroke-width="1"/>
<text x="456.3" y="240.5" font-size="5.6" text-anchor="middle" fill="#505050">500</text>
<line x1="466.5" y1="227.5" x2="466.5" y2="230.5" stroke="#333" stroke-width="1"/>
<text x="465.5" y="240.5" font-size="5.6" text-anchor="middle" fill="#505050">10</text>
<text x="468.8" y="237.9" font-size="3.6" text-anchor="start" fill="#505050">3</text>
<line x1="427.7" y1="185.0" x2="429.5" y2="185.0" stroke="#444" stroke-width="0.7"/>
<line x1="427.7" y1="188.5" x2="429.5" y2="188.5" stroke="#444" stroke-width="0.7"/>
<line x1="427.7" y1="195.825" x2="429.5" y2="195.825" stroke="#444" stroke-width="0.7"/>
<line x1="427.7" y1="199.65" x2="429.5" y2="199.65" stroke="#444" stroke-width="0.7"/>
<line x1="427.7" y1="203.47500000000002" x2="429.5" y2="203.47500000000002" stroke="#444" stroke-width="0.7"/>
<line x1="427.7" y1="210.85000000000002" x2="429.5" y2="210.85000000000002" stroke="#444" stroke-width="0.7"/>
<line x1="427.7" y1="214.4" x2="429.5" y2="214.4" stroke="#444" stroke-width="0.7"/>
<line x1="427.7" y1="217.95" x2="429.5" y2="217.95" stroke="#444" stroke-width="0.7"/>
<line x1="444.52500000000003" y1="227.5" x2="444.52500000000003" y2="229.3" stroke="#444" stroke-width="0.7"/>
<line x1="448.45000000000005" y1="227.5" x2="448.45000000000005" y2="229.3" stroke="#444" stroke-width="0.7"/>
<line x1="452.375" y1="227.5" x2="452.375" y2="229.3" stroke="#444" stroke-width="0.7"/>
<line x1="459.7" y1="227.5" x2="459.7" y2="229.3" stroke="#444" stroke-width="0.7"/>
<line x1="463.1" y1="227.5" x2="463.1" y2="229.3" stroke="#444" stroke-width="0.7"/>
<text x="463" y="251.0" font-size="8.5" text-anchor="middle" fill="#3a3a3a" textLength="47.4" lengthAdjust="spacingAndGlyphs" stroke="#3a3a3a" stroke-width="0.1">CD11B BV421</text>
<text x="404.3" y="194.2" font-size="8.5" text-anchor="middle" fill="#3a3a3a" transform="rotate(-90 404.3 194.2)" textLength="39.5" lengthAdjust="spacingAndGlyphs" stroke="#3a3a3a" stroke-width="0.1">CD5 BV786</text>
<text x="18.7" y="275.9" font-size="13.2" text-anchor="start" fill="#222" textLength="6.6" lengthAdjust="spacingAndGlyphs" stroke="#222" stroke-width="0.05">B</text>
<text x="94.2" y="276.5" font-size="8.5" text-anchor="middle" fill="#3a3a3a" textLength="53" lengthAdjust="spacingAndGlyphs" stroke="#3a3a3a" stroke-width="0.1">[B220+] CD23 /</text>
<text x="94" y="285.3" font-size="8.5" text-anchor="middle" fill="#3a3a3a" textLength="12" lengthAdjust="spacingAndGlyphs" stroke="#3a3a3a" stroke-width="0.1">IgD</text>
<clipPath id="cp9"><rect x="60.1" y="292.0" width="62.9" height="63.4"/></clipPath>
<g clip-path="url(#cp9)"><g filter="url(#spkG)"><ellipse cx="98" cy="313" rx="20" ry="11" transform="rotate(-15 98 313)" opacity="0.78"/><ellipse cx="76" cy="330" rx="9" ry="20" transform="rotate(8 76 330)" opacity="0.8"/><ellipse cx="90" cy="333" rx="12" ry="10" transform="rotate(0 90 333)" opacity="0.55"/><ellipse cx="106" cy="343" rx="18" ry="12" transform="rotate(0 106 343)" opacity="0.32"/><ellipse cx="70" cy="300" rx="8" ry="8" transform="rotate(0 70 300)" opacity="0.08"/><ellipse cx="112" cy="300" rx="10" ry="5" transform="rotate(0 112 300)" opacity="0.28"/></g></g>
<g transform="translate(0,0)">
<g filter="url(#bl)" opacity="1"><path d="M80.22,321.27 C79.94,322.57 79.44,324.01 78.90,325.08 C78.36,326.14 77.63,327.12 76.97,327.66 C76.31,328.20 75.54,328.45 74.94,328.33 C74.33,328.20 73.73,327.66 73.35,326.89 C72.97,326.13 72.70,324.94 72.63,323.75 C72.57,322.55 72.70,321.03 72.98,319.73 C73.26,318.43 73.76,316.99 74.30,315.92 C74.84,314.86 75.57,313.88 76.23,313.34 C76.89,312.80 77.66,312.55 78.26,312.67 C78.87,312.80 79.47,313.34 79.85,314.11 C80.23,314.87 80.50,316.06 80.57,317.25 C80.63,318.45 80.50,319.97 80.22,321.27Z" fill="#ecb6e2" fill-opacity="0.45" stroke="#cc3f97" stroke-width="0.85"/><path d="M80.22,321.27 C79.94,322.57 79.44,324.01 78.90,325.08 C78.36,326.14 77.63,327.12 76.97,327.66 C76.31,328.20 75.54,328.45 74.94,328.33 C74.33,328.20 73.73,327.66 73.35,326.89 C72.97,326.13 72.70,324.94 72.63,323.75 C72.57,322.55 72.70,321.03 72.98,319.73 C73.26,318.43 73.76,316.99 74.30,315.92 C74.84,314.86 75.57,313.88 76.23,313.34 C76.89,312.80 77.66,312.55 78.26,312.67 C78.87,312.80 79.47,313.34 79.85,314.11 C80.23,314.87 80.50,316.06 80.57,317.25 C80.63,318.45 80.50,319.97 80.22,321.27Z" fill="#fff" filter="url(#tex)"/></g>
</g>
<g transform="translate(0,0)">
<g filter="url(#bl)" opacity="1"><path d="M77.47,333.40 C77.36,334.23 77.08,335.14 76.74,335.83 C76.40,336.51 75.91,337.14 75.43,337.49 C74.96,337.84 74.38,338.02 73.90,337.95 C73.43,337.88 72.92,337.56 72.56,337.09 C72.20,336.62 71.90,335.87 71.77,335.13 C71.63,334.38 71.61,333.42 71.73,332.60 C71.84,331.77 72.12,330.86 72.46,330.17 C72.80,329.49 73.29,328.86 73.77,328.51 C74.24,328.16 74.82,327.98 75.30,328.05 C75.77,328.12 76.28,328.44 76.64,328.91 C77.00,329.38 77.30,330.13 77.43,330.87 C77.57,331.62 77.59,332.58 77.47,333.40Z" fill="#ecb6e2" fill-opacity="0.45" stroke="#cc3f97" stroke-width="0.85"/><path d="M77.47,333.40 C77.36,334.23 77.08,335.14 76.74,335.83 C76.40,336.51 75.91,337.14 75.43,337.49 C74.96,337.84 74.38,338.02 73.90,337.95 C73.43,337.88 72.92,337.56 72.56,337.09 C72.20,336.62 71.90,335.87 71.77,335.13 C71.63,334.38 71.61,333.42 71.73,332.60 C71.84,331.77 72.12,330.86 72.46,330.17 C72.80,329.49 73.29,328.86 73.77,328.51 C74.24,328.16 74.82,327.98 75.30,328.05 C75.77,328.12 76.28,328.44 76.64,328.91 C77.00,329.38 77.30,330.13 77.43,330.87 C77.57,331.62 77.59,332.58 77.47,333.40Z" fill="#fff" filter="url(#tex)"/></g>
</g>
<g transform="translate(0,0)">
<g filter="url(#bl)" opacity="1"><path d="M76.19,343.46 C76.12,344.29 75.88,345.22 75.57,345.92 C75.26,346.61 74.78,347.27 74.32,347.64 C73.85,348.02 73.26,348.22 72.76,348.18 C72.27,348.14 71.72,347.84 71.33,347.38 C70.93,346.93 70.58,346.20 70.39,345.46 C70.21,344.72 70.14,343.77 70.21,342.94 C70.28,342.11 70.52,341.18 70.83,340.48 C71.14,339.79 71.62,339.13 72.08,338.76 C72.55,338.38 73.14,338.18 73.64,338.22 C74.13,338.26 74.68,338.56 75.07,339.02 C75.47,339.47 75.82,340.20 76.01,340.94 C76.19,341.68 76.26,342.63 76.19,343.46Z" fill="#ecb6e2" fill-opacity="0.5" stroke="#cc3f97" stroke-width="0.9"/><path d="M76.19,343.46 C76.12,344.29 75.88,345.22 75.57,345.92 C75.26,346.61 74.78,347.27 74.32,347.64 C73.85,348.02 73.26,348.22 72.76,348.18 C72.27,348.14 71.72,347.84 71.33,347.38 C70.93,346.93 70.58,346.20 70.39,345.46 C70.21,344.72 70.14,343.77 70.21,342.94 C70.28,342.11 70.52,341.18 70.83,340.48 C71.14,339.79 71.62,339.13 72.08,338.76 C72.55,338.38 73.14,338.18 73.64,338.22 C74.13,338.26 74.68,338.56 75.07,339.02 C75.47,339.47 75.82,340.20 76.01,340.94 C76.19,341.68 76.26,342.63 76.19,343.46Z" fill="#fff" filter="url(#tex)"/></g>
</g>
<g transform="translate(0,0)">
<g filter="url(#bl)" opacity="1"><path d="M83.60,312.30 C84.57,310.95 88.93,309.95 92.30,308.80 C95.67,307.65 100.43,306.25 103.80,305.40 C107.17,304.55 110.97,303.32 112.50,303.70 C114.03,304.08 113.68,305.60 113.00,307.70 C112.32,309.80 110.50,313.90 108.40,316.30 C106.30,318.70 102.90,321.23 100.40,322.10 C97.90,322.97 95.72,322.37 93.40,321.50 C91.08,320.63 88.13,318.43 86.50,316.90 C84.87,315.37 82.63,313.65 83.60,312.30Z" fill="#ecb6e2" fill-opacity="0.85" stroke="#cc3f97" stroke-width="1.0"/><path d="M83.60,312.30 C84.57,310.95 88.93,309.95 92.30,308.80 C95.67,307.65 100.43,306.25 103.80,305.40 C107.17,304.55 110.97,303.32 112.50,303.70 C114.03,304.08 113.68,305.60 113.00,307.70 C112.32,309.80 110.50,313.90 108.40,316.30 C106.30,318.70 102.90,321.23 100.40,322.10 C97.90,322.97 95.72,322.37 93.40,321.50 C91.08,320.63 88.13,318.43 86.50,316.90 C84.87,315.37 82.63,313.65 83.60,312.30Z" fill="#fff" filter="url(#tex)"/><ellipse cx="101.5" cy="312.4" rx="9.30" ry="5.20" transform="rotate(-12 101.5 312.4)" fill="#86aeea"/><ellipse cx="101.5" cy="312.4" rx="7.44" ry="4.16" transform="rotate(-12 101.5 312.4)" fill="#5cc6dc"/><ellipse cx="101.5" cy="312.4" rx="6.32" ry="3.54" transform="rotate(-12 101.5 312.4)" fill="#3db45a"/><ellipse cx="101.5" cy="312.4" rx="4.46" ry="2.50" transform="rotate(-12 101.5 312.4)" fill="#8fd06a"/><ellipse cx="101.5" cy="312.4" rx="3.07" ry="1.72" transform="rotate(-12 101.5 312.4)" fill="#f27c62"/></g>
</g>
<polyline points="77.3,291.5 77.3,308.3" fill="none" stroke="#3a3a3a" stroke-width="0.85"/>
<line x1="59.5" y1="308.3" x2="77.3" y2="308.3" stroke="#3a3a3a" stroke-width="0.85"/>
<polyline points="77.3,308.3 92.9,330.3 92.9,356" fill="none" stroke="#3a3a3a" stroke-width="0.85"/>
<line x1="92.9" y1="330.5" x2="123.5" y2="330.5" stroke="#3a3a3a" stroke-width="0.85"/>
<rect x="106.6" y="293.0" width="16.6" height="6.6" fill="#fff" fill-opacity="0.75" stroke="#c8c8c8" stroke-width="0.6"/>
<text x="114.89999999999999" y="298.05" font-size="4.9" text-anchor="middle" fill="#4a4a4a" textLength="14.400000000000002" lengthAdjust="spacingAndGlyphs">76.42%</text>
<rect x="60.8" y="349.2" width="16.6" height="6.800000000000001" fill="#fff" fill-opacity="0.75" stroke="#c8c8c8" stroke-width="0.6"/>
<text x="69.1" y="354.34999999999997" font-size="4.9" text-anchor="middle" fill="#4a4a4a" textLength="14.400000000000002" lengthAdjust="spacingAndGlyphs">22.62%</text>
<rect x="59.5" y="291.5" width="64.0" height="64.5" fill="none" stroke="#505050" stroke-width="1.1"/>
<line x1="59.5" y1="291.0" x2="59.5" y2="356.6" stroke="#2a2a2a" stroke-width="1.3"/>
<line x1="58.9" y1="356" x2="124.0" y2="356" stroke="#2a2a2a" stroke-width="1.3"/>
<line x1="56.5" y1="292.9" x2="59.5" y2="292.9" stroke="#333" stroke-width="1"/>
<text x="52.9" y="295.0" font-size="5.6" text-anchor="end" fill="#505050">10</text>
<text x="53.0" y="292.4" font-size="3.6" text-anchor="start" fill="#505050">3</text>
<line x1="56.5" y1="306.5" x2="59.5" y2="306.5" stroke="#333" stroke-width="1"/>
<text x="52.9" y="308.6" font-size="5.6" text-anchor="end" fill="#505050">10</text>
<text x="53.0" y="306.0" font-size="3.6" text-anchor="start" fill="#505050">2</text>
<line x1="56.5" y1="322.4" x2="59.5" y2="322.4" stroke="#333" stroke-width="1"/>
<text x="52.9" y="324.5" font-size="5.6" text-anchor="end" fill="#505050">10</text>
<text x="53.0" y="321.9" font-size="3.6" text-anchor="start" fill="#505050">1</text>
<line x1="56.5" y1="345.7" x2="59.5" y2="345.7" stroke="#333" stroke-width="1"/>
<text x="53.3" y="347.8" font-size="5.6" text-anchor="end" fill="#505050">0</text>
<line x1="73.5" y1="356" x2="73.5" y2="359" stroke="#333" stroke-width="1"/>
<text x="73.5" y="369" font-size="5.6" text-anchor="middle" fill="#505050">0</text>
<line x1="100" y1="356" x2="100" y2="359" stroke="#333" stroke-width="1"/>
<text x="99" y="369" font-size="5.6" text-anchor="middle" fill="#505050">10</text>
<text x="102.3" y="366.4" font-size="3.6" text-anchor="start" fill="#505050">1</text>
<line x1="119.5" y1="356" x2="119.5" y2="359" stroke="#333" stroke-width="1"/>
<text x="118.5" y="369" font-size="5.6" text-anchor="middle" fill="#505050">10</text>
<text x="121.8" y="366.4" font-size="3.6" text-anchor="start" fill="#505050">2</text>
<line x1="57.7" y1="296.29999999999995" x2="59.5" y2="296.29999999999995" stroke="#444" stroke-width="0.7"/>
<line x1="57.7" y1="299.7" x2="59.5" y2="299.7" stroke="#444" stroke-width="0.7"/>
<line x1="57.7" y1="303.1" x2="59.5" y2="303.1" stroke="#444" stroke-width="0.7"/>
<line x1="57.7" y1="310.475" x2="59.5" y2="310.475" stroke="#444" stroke-width="0.7"/>
<line x1="57.7" y1="314.45" x2="59.5" y2="314.45" stroke="#444" stroke-width="0.7"/>
<line x1="57.7" y1="318.42499999999995" x2="59.5" y2="318.42499999999995" stroke="#444" stroke-width="0.7"/>
<line x1="57.7" y1="325.7285714285714" x2="59.5" y2="325.7285714285714" stroke="#444" stroke-width="0.7"/>
<line x1="57.7" y1="329.0571428571428" x2="59.5" y2="329.0571428571428" stroke="#444" stroke-width="0.7"/>
<line x1="57.7" y1="332.38571428571424" x2="59.5" y2="332.38571428571424" stroke="#444" stroke-width="0.7"/>
<line x1="57.7" y1="335.7142857142857" x2="59.5" y2="335.7142857142857" stroke="#444" stroke-width="0.7"/>
<line x1="57.7" y1="339.04285714285714" x2="59.5" y2="339.04285714285714" stroke="#444" stroke-width="0.7"/>
<line x1="57.7" y1="342.37142857142857" x2="59.5" y2="342.37142857142857" stroke="#444" stroke-width="0.7"/>
<line x1="76.8125" y1="356" x2="76.8125" y2="357.8" stroke="#444" stroke-width="0.7"/>
<line x1="80.125" y1="356" x2="80.125" y2="357.8" stroke="#444" stroke-width="0.7"/>
<line x1="83.4375" y1="356" x2="83.4375" y2="357.8" stroke="#444" stroke-width="0.7"/>
<line x1="86.75" y1="356" x2="86.75" y2="357.8" stroke="#444" stroke-width="0.7"/>
<line x1="90.0625" y1="356" x2="90.0625" y2="357.8" stroke="#444" stroke-width="0.7"/>
<line x1="93.375" y1="356" x2="93.375" y2="357.8" stroke="#444" stroke-width="0.7"/>
<line x1="96.6875" y1="356" x2="96.6875" y2="357.8" stroke="#444" stroke-width="0.7"/>
<line x1="103.25" y1="356" x2="103.25" y2="357.8" stroke="#444" stroke-width="0.7"/>
<line x1="106.5" y1="356" x2="106.5" y2="357.8" stroke="#444" stroke-width="0.7"/>
<line x1="109.75" y1="356" x2="109.75" y2="357.8" stroke="#444" stroke-width="0.7"/>
<line x1="113.0" y1="356" x2="113.0" y2="357.8" stroke="#444" stroke-width="0.7"/>
<line x1="116.25" y1="356" x2="116.25" y2="357.8" stroke="#444" stroke-width="0.7"/>
<text x="91.6" y="378.5" font-size="8.5" text-anchor="middle" fill="#3a3a3a" textLength="18.8" lengthAdjust="spacingAndGlyphs" stroke="#3a3a3a" stroke-width="0.1">CD23</text>
<text x="45" y="324.4" font-size="8.5" text-anchor="middle" fill="#3a3a3a" transform="rotate(-90 45 324.4)" textLength="12.7" lengthAdjust="spacingAndGlyphs" stroke="#3a3a3a" stroke-width="0.1">IgD</text>
<text x="198.3" y="276.5" font-size="8.5" text-anchor="middle" fill="#3a3a3a" textLength="53.1" lengthAdjust="spacingAndGlyphs" stroke="#3a3a3a" stroke-width="0.1">[B220+] CD23 /</text>
<text x="198" y="285.3" font-size="8.5" text-anchor="middle" fill="#3a3a3a" textLength="30.6" lengthAdjust="spacingAndGlyphs" stroke="#3a3a3a" stroke-width="0.1">CD21/35</text>
<clipPath id="cp10"><rect x="166.6" y="292.5" width="63.4" height="62.59999999999999"/></clipPath>
<g clip-path="url(#cp10)"><g filter="url(#spkG)"><ellipse cx="207" cy="324" rx="17" ry="16" transform="rotate(-35 207 324)" opacity="0.8"/><ellipse cx="182" cy="309" rx="10" ry="7" transform="rotate(-15 182 309)" opacity="0.72"/><ellipse cx="180" cy="340" rx="7" ry="9" transform="rotate(0 180 340)" opacity="0.68"/><ellipse cx="194" cy="318" rx="14" ry="14" transform="rotate(0 194 318)" opacity="0.55"/><ellipse cx="216" cy="346" rx="12" ry="8" transform="rotate(0 216 346)" opacity="0.36"/><ellipse cx="190" cy="300" rx="12" ry="6" transform="rotate(0 190 300)" opacity="0.36"/></g></g>
<g transform="translate(0,0)">
<g filter="url(#bl)" opacity="1"><path d="M195.00,326.00 C195.30,323.75 195.92,320.42 197.00,318.50 C198.08,316.58 199.75,315.50 201.50,314.50 C203.25,313.50 205.50,313.17 207.50,312.50 C209.50,311.83 211.67,310.88 213.50,310.50 C215.33,310.12 217.50,309.70 218.50,310.20 C219.50,310.70 219.67,311.87 219.50,313.50 C219.33,315.13 218.33,317.58 217.50,320.00 C216.67,322.42 215.67,325.67 214.50,328.00 C213.33,330.33 212.17,332.45 210.50,334.00 C208.83,335.55 206.50,336.92 204.50,337.30 C202.50,337.68 200.05,337.18 198.50,336.30 C196.95,335.42 195.78,333.72 195.20,332.00 C194.62,330.28 194.70,328.25 195.00,326.00Z" fill="#ecb6e2" fill-opacity="0.85" stroke="#cc3f97" stroke-width="1.0"/><path d="M195.00,326.00 C195.30,323.75 195.92,320.42 197.00,318.50 C198.08,316.58 199.75,315.50 201.50,314.50 C203.25,313.50 205.50,313.17 207.50,312.50 C209.50,311.83 211.67,310.88 213.50,310.50 C215.33,310.12 217.50,309.70 218.50,310.20 C219.50,310.70 219.67,311.87 219.50,313.50 C219.33,315.13 218.33,317.58 217.50,320.00 C216.67,322.42 215.67,325.67 214.50,328.00 C213.33,330.33 212.17,332.45 210.50,334.00 C208.83,335.55 206.50,336.92 204.50,337.30 C202.50,337.68 200.05,337.18 198.50,336.30 C196.95,335.42 195.78,333.72 195.20,332.00 C194.62,330.28 194.70,328.25 195.00,326.00Z" fill="#fff" filter="url(#tex)"/><ellipse cx="208" cy="324" rx="9.20" ry="7.40" transform="rotate(-50 208 324)" fill="#86aeea"/><ellipse cx="208" cy="324" rx="7.36" ry="5.92" transform="rotate(-50 208 324)" fill="#5cc6dc"/><ellipse cx="208" cy="324" rx="5.06" ry="4.07" transform="rotate(-50 208 324)" fill="#3db45a"/><ellipse cx="208" cy="324" rx="2.94" ry="2.37" transform="rotate(-50 208 324)" fill="#8fd06a"/></g>
</g>
<g transform="translate(0,0)">
<g filter="url(#bl)" opacity="1"><path d="M187.88,307.09 C188.06,307.77 187.94,308.62 187.56,309.35 C187.19,310.08 186.46,310.87 185.63,311.46 C184.80,312.04 183.65,312.57 182.59,312.86 C181.52,313.14 180.26,313.26 179.25,313.17 C178.24,313.08 177.21,312.75 176.52,312.31 C175.83,311.86 175.31,311.18 175.12,310.51 C174.94,309.83 175.06,308.98 175.44,308.25 C175.81,307.52 176.54,306.73 177.37,306.14 C178.20,305.56 179.35,305.03 180.41,304.74 C181.48,304.46 182.74,304.34 183.75,304.43 C184.76,304.52 185.79,304.85 186.48,305.29 C187.17,305.74 187.69,306.42 187.88,307.09Z" fill="#ecb6e2" fill-opacity="0.85" stroke="#cc3f97" stroke-width="1.0"/><path d="M187.88,307.09 C188.06,307.77 187.94,308.62 187.56,309.35 C187.19,310.08 186.46,310.87 185.63,311.46 C184.80,312.04 183.65,312.57 182.59,312.86 C181.52,313.14 180.26,313.26 179.25,313.17 C178.24,313.08 177.21,312.75 176.52,312.31 C175.83,311.86 175.31,311.18 175.12,310.51 C174.94,309.83 175.06,308.98 175.44,308.25 C175.81,307.52 176.54,306.73 177.37,306.14 C178.20,305.56 179.35,305.03 180.41,304.74 C181.48,304.46 182.74,304.34 183.75,304.43 C184.76,304.52 185.79,304.85 186.48,305.29 C187.17,305.74 187.69,306.42 187.88,307.09Z" fill="#fff" filter="url(#tex)"/><ellipse cx="181.3" cy="308.8" rx="3.00" ry="2.00" transform="rotate(-15 181.3 308.8)" fill="#86aeea"/></g>
</g>
<g transform="translate(0,0)">
<g filter="url(#bl)" opacity="1"><path d="M183.30,341.00 C183.30,341.83 183.08,342.78 182.72,343.50 C182.37,344.22 181.77,344.91 181.15,345.33 C180.53,345.75 179.72,346.00 179.00,346.00 C178.28,346.00 177.47,345.75 176.85,345.33 C176.23,344.91 175.63,344.22 175.28,343.50 C174.92,342.78 174.70,341.83 174.70,341.00 C174.70,340.17 174.92,339.22 175.28,338.50 C175.63,337.78 176.23,337.09 176.85,336.67 C177.47,336.25 178.28,336.00 179.00,336.00 C179.72,336.00 180.53,336.25 181.15,336.67 C181.77,337.09 182.37,337.78 182.72,338.50 C183.08,339.22 183.30,340.17 183.30,341.00Z" fill="#ecb6e2" fill-opacity="0.85" stroke="#cc3f97" stroke-width="1.0"/><path d="M183.30,341.00 C183.30,341.83 183.08,342.78 182.72,343.50 C182.37,344.22 181.77,344.91 181.15,345.33 C180.53,345.75 179.72,346.00 179.00,346.00 C178.28,346.00 177.47,345.75 176.85,345.33 C176.23,344.91 175.63,344.22 175.28,343.50 C174.92,342.78 174.70,341.83 174.70,341.00 C174.70,340.17 174.92,339.22 175.28,338.50 C175.63,337.78 176.23,337.09 176.85,336.67 C177.47,336.25 178.28,336.00 179.00,336.00 C179.72,336.00 180.53,336.25 181.15,336.67 C181.77,337.09 182.37,337.78 182.72,338.50 C183.08,339.22 183.30,340.17 183.30,341.00Z" fill="#fff" filter="url(#tex)"/><ellipse cx="179" cy="341.2" rx="1.80" ry="2.50" transform="rotate(0 179 341.2)" fill="#86aeea"/></g>
</g>
<polyline points="166,325.4 188.2,325.4 188.2,355.7" fill="none" stroke="#3a3a3a" stroke-width="0.85"/>
<polyline points="188.2,325.4 210.5,299.7 210.5,292" fill="none" stroke="#3a3a3a" stroke-width="0.85"/>
<line x1="210.5" y1="299.7" x2="230.5" y2="299.7" stroke="#3a3a3a" stroke-width="0.85"/>
<rect x="168.5" y="292.7" width="16.9" height="7.0" fill="#fff" fill-opacity="0.75" stroke="#c8c8c8" stroke-width="0.6"/>
<text x="176.95" y="297.95" font-size="4.9" text-anchor="middle" fill="#4a4a4a" textLength="14.7" lengthAdjust="spacingAndGlyphs">15.09%</text>
<rect x="212.3" y="346.5" width="17.5" height="7.199999999999999" fill="#fff" fill-opacity="0.75" stroke="#c8c8c8" stroke-width="0.6"/>
<text x="221.05" y="351.85" font-size="4.9" text-anchor="middle" fill="#4a4a4a" textLength="15.3" lengthAdjust="spacingAndGlyphs">75.05%</text>
<rect x="166" y="292" width="64.5" height="63.69999999999999" fill="none" stroke="#505050" stroke-width="1.1"/>
<line x1="166" y1="291.5" x2="166" y2="356.3" stroke="#2a2a2a" stroke-width="1.3"/>
<line x1="165.4" y1="355.7" x2="231.0" y2="355.7" stroke="#2a2a2a" stroke-width="1.3"/>
<line x1="163" y1="292" x2="166" y2="292" stroke="#333" stroke-width="1"/>
<text x="159.4" y="294.1" font-size="5.6" text-anchor="end" fill="#505050">10</text>
<text x="159.5" y="291.5" font-size="3.6" text-anchor="start" fill="#505050">2</text>
<line x1="163" y1="312.7" x2="166" y2="312.7" stroke="#333" stroke-width="1"/>
<text x="159.4" y="314.8" font-size="5.6" text-anchor="end" fill="#505050">10</text>
<text x="159.5" y="312.2" font-size="3.6" text-anchor="start" fill="#505050">1</text>
<line x1="163" y1="336.3" x2="166" y2="336.3" stroke="#333" stroke-width="1"/>
<text x="159.8" y="338.40000000000003" font-size="5.6" text-anchor="end" fill="#505050">1</text>
<line x1="163" y1="346.1" x2="166" y2="346.1" stroke="#333" stroke-width="1"/>
<text x="159.8" y="348.20000000000005" font-size="5.6" text-anchor="end" fill="#505050">0</text>
<line x1="163" y1="356" x2="166" y2="356" stroke="#333" stroke-width="1"/>
<text x="159.8" y="358.1" font-size="5.6" text-anchor="end" fill="#505050">-1</text>
<line x1="179.5" y1="355.7" x2="179.5" y2="358.7" stroke="#333" stroke-width="1"/>
<text x="179.5" y="368.7" font-size="5.6" text-anchor="middle" fill="#505050">0</text>
<line x1="206" y1="355.7" x2="206" y2="358.7" stroke="#333" stroke-width="1"/>
<text x="205" y="368.7" font-size="5.6" text-anchor="middle" fill="#505050">10</text>
<text x="208.3" y="366.09999999999997" font-size="3.6" text-anchor="start" fill="#505050">1</text>
<line x1="225" y1="355.7" x2="225" y2="358.7" stroke="#333" stroke-width="1"/>
<text x="224" y="368.7" font-size="5.6" text-anchor="middle" fill="#505050">10</text>
<text x="227.3" y="366.09999999999997" font-size="3.6" text-anchor="start" fill="#505050">2</text>
<line x1="164.2" y1="295.45" x2="166" y2="295.45" stroke="#444" stroke-width="0.7"/>
<line x1="164.2" y1="298.9" x2="166" y2="298.9" stroke="#444" stroke-width="0.7"/>
<line x1="164.2" y1="302.35" x2="166" y2="302.35" stroke="#444" stroke-width="0.7"/>
<line x1="164.2" y1="305.8" x2="166" y2="305.8" stroke="#444" stroke-width="0.7"/>
<line x1="164.2" y1="309.25" x2="166" y2="309.25" stroke="#444" stroke-width="0.7"/>
<line x1="164.2" y1="316.07142857142856" x2="166" y2="316.07142857142856" stroke="#444" stroke-width="0.7"/>
<line x1="164.2" y1="319.4428571428571" x2="166" y2="319.4428571428571" stroke="#444" stroke-width="0.7"/>
<line x1="164.2" y1="322.8142857142857" x2="166" y2="322.8142857142857" stroke="#444" stroke-width="0.7"/>
<line x1="164.2" y1="326.1857142857143" x2="166" y2="326.1857142857143" stroke="#444" stroke-width="0.7"/>
<line x1="164.2" y1="329.5571428571429" x2="166" y2="329.5571428571429" stroke="#444" stroke-width="0.7"/>
<line x1="164.2" y1="332.92857142857144" x2="166" y2="332.92857142857144" stroke="#444" stroke-width="0.7"/>
<line x1="164.2" y1="339.56666666666666" x2="166" y2="339.56666666666666" stroke="#444" stroke-width="0.7"/>
<line x1="164.2" y1="342.83333333333337" x2="166" y2="342.83333333333337" stroke="#444" stroke-width="0.7"/>
<line x1="164.2" y1="349.40000000000003" x2="166" y2="349.40000000000003" stroke="#444" stroke-width="0.7"/>
<line x1="164.2" y1="352.7" x2="166" y2="352.7" stroke="#444" stroke-width="0.7"/>
<line x1="182.8125" y1="355.7" x2="182.8125" y2="357.5" stroke="#444" stroke-width="0.7"/>
<line x1="186.125" y1="355.7" x2="186.125" y2="357.5" stroke="#444" stroke-width="0.7"/>
<line x1="189.4375" y1="355.7" x2="189.4375" y2="357.5" stroke="#444" stroke-width="0.7"/>
<line x1="192.75" y1="355.7" x2="192.75" y2="357.5" stroke="#444" stroke-width="0.7"/>
<line x1="196.0625" y1="355.7" x2="196.0625" y2="357.5" stroke="#444" stroke-width="0.7"/>
<line x1="199.375" y1="355.7" x2="199.375" y2="357.5" stroke="#444" stroke-width="0.7"/>
<line x1="202.6875" y1="355.7" x2="202.6875" y2="357.5" stroke="#444" stroke-width="0.7"/>
<line x1="209.8" y1="355.7" x2="209.8" y2="357.5" stroke="#444" stroke-width="0.7"/>
<line x1="213.6" y1="355.7" x2="213.6" y2="357.5" stroke="#444" stroke-width="0.7"/>
<line x1="217.4" y1="355.7" x2="217.4" y2="357.5" stroke="#444" stroke-width="0.7"/>
<line x1="221.2" y1="355.7" x2="221.2" y2="357.5" stroke="#444" stroke-width="0.7"/>
<text x="198.1" y="378.5" font-size="8.5" text-anchor="middle" fill="#3a3a3a" textLength="19.2" lengthAdjust="spacingAndGlyphs" stroke="#3a3a3a" stroke-width="0.1">CD23</text>
<text x="150" y="324.6" font-size="8.5" text-anchor="middle" fill="#3a3a3a" transform="rotate(-90 150 324.6)" textLength="31.4" lengthAdjust="spacingAndGlyphs" stroke="#3a3a3a" stroke-width="0.1">CD21/35</text>
<text x="312.5" y="276.3" font-size="8.5" text-anchor="middle" fill="#3a3a3a" textLength="55" lengthAdjust="spacingAndGlyphs" stroke="#3a3a3a" stroke-width="0.1">[B220+] CD11b /</text>
<text x="313" y="285.3" font-size="8.5" text-anchor="middle" fill="#3a3a3a" textLength="14.4" lengthAdjust="spacingAndGlyphs" stroke="#3a3a3a" stroke-width="0.1">CD5</text>
<clipPath id="cp11"><rect x="281.40000000000003" y="292.8" width="61.299999999999976" height="62.799999999999976"/></clipPath>
<g clip-path="url(#cp11)"><g filter="url(#spkG)"><ellipse cx="294" cy="341" rx="9" ry="10" transform="rotate(0 294 341)" opacity="1.0"/><ellipse cx="305" cy="342" rx="8" ry="7" transform="rotate(0 305 342)" opacity="0.88"/><ellipse cx="316" cy="343" rx="14" ry="6" transform="rotate(0 316 343)" opacity="0.62"/><ellipse cx="332" cy="342" rx="10" ry="6" transform="rotate(0 332 342)" opacity="0.32"/><ellipse cx="293" cy="317" rx="4" ry="16" transform="rotate(0 293 317)" opacity="0.4"/><ellipse cx="314" cy="317" rx="22" ry="14" transform="rotate(0 314 317)" opacity="0.18"/></g></g>
<g transform="translate(0,0)">
<g filter="url(#bl)" opacity="1"><path d="M287.80,340.00 C288.00,338.38 288.97,337.43 290.00,336.80 C291.03,336.17 292.67,336.08 294.00,336.20 C295.33,336.32 297.13,336.53 298.00,337.50 C298.87,338.47 299.28,340.50 299.20,342.00 C299.12,343.50 298.53,345.45 297.50,346.50 C296.47,347.55 294.45,348.30 293.00,348.30 C291.55,348.30 289.67,347.88 288.80,346.50 C287.93,345.12 287.60,341.62 287.80,340.00Z" fill="#ecb6e2" fill-opacity="0.85" stroke="#cc3f97" stroke-width="1.0"/><path d="M287.80,340.00 C288.00,338.38 288.97,337.43 290.00,336.80 C291.03,336.17 292.67,336.08 294.00,336.20 C295.33,336.32 297.13,336.53 298.00,337.50 C298.87,338.47 299.28,340.50 299.20,342.00 C299.12,343.50 298.53,345.45 297.50,346.50 C296.47,347.55 294.45,348.30 293.00,348.30 C291.55,348.30 289.67,347.88 288.80,346.50 C287.93,345.12 287.60,341.62 287.80,340.00Z" fill="#fff" filter="url(#tex)"/><ellipse cx="292.7" cy="342.4" rx="4.60" ry="5.00" transform="rotate(0 292.7 342.4)" fill="#86aeea"/><ellipse cx="292.7" cy="342.4" rx="3.68" ry="4.00" transform="rotate(0 292.7 342.4)" fill="#5cc6dc"/><ellipse cx="292.7" cy="342.4" rx="2.85" ry="3.10" transform="rotate(0 292.7 342.4)" fill="#3db45a"/><ellipse cx="292.7" cy="342.4" rx="2.07" ry="2.25" transform="rotate(0 292.7 342.4)" fill="#8fd06a"/><ellipse cx="292.7" cy="342.4" rx="1.38" ry="1.50" transform="rotate(0 292.7 342.4)" fill="#f27c62"/></g>
</g>
<line x1="299.6" y1="292.3" x2="299.6" y2="356.2" stroke="#3a3a3a" stroke-width="0.85"/>
<line x1="280.8" y1="330.8" x2="343.2" y2="330.8" stroke="#3a3a3a" stroke-width="0.85"/>
<rect x="329.6" y="293.0" width="13.1" height="6.6" fill="#fff" fill-opacity="0.75" stroke="#c8c8c8" stroke-width="0.6"/>
<text x="336.15000000000003" y="298.05" font-size="4.9" text-anchor="middle" fill="#4a4a4a" textLength="10.899999999999999" lengthAdjust="spacingAndGlyphs">0.76%</text>
<rect x="282.7" y="349.2" width="16.5" height="6.4" fill="#fff" fill-opacity="0.75" stroke="#c8c8c8" stroke-width="0.6"/>
<text x="290.95" y="354.15" font-size="4.9" text-anchor="middle" fill="#4a4a4a" textLength="14.3" lengthAdjust="spacingAndGlyphs">90.77%</text>
<rect x="329.6" y="349.2" width="12.5" height="6.4" fill="#fff" fill-opacity="0.75" stroke="#c8c8c8" stroke-width="0.6"/>
<text x="335.85" y="354.15" font-size="4.9" text-anchor="middle" fill="#4a4a4a" textLength="10.3" lengthAdjust="spacingAndGlyphs">7.10%</text>
<rect x="280.8" y="292.3" width="62.39999999999998" height="63.89999999999998" fill="none" stroke="#505050" stroke-width="1.1"/>
<line x1="280.8" y1="291.8" x2="280.8" y2="356.8" stroke="#2a2a2a" stroke-width="1.3"/>
<line x1="280.2" y1="356.2" x2="343.7" y2="356.2" stroke="#2a2a2a" stroke-width="1.3"/>
<line x1="277.8" y1="308.9" x2="280.8" y2="308.9" stroke="#333" stroke-width="1"/>
<text x="274.2" y="311.0" font-size="5.6" text-anchor="end" fill="#505050">10</text>
<text x="274.3" y="308.4" font-size="3.6" text-anchor="start" fill="#505050">4</text>
<line x1="277.8" y1="329.7" x2="280.8" y2="329.7" stroke="#333" stroke-width="1"/>
<text x="274.6" y="331.8" font-size="5.6" text-anchor="end" fill="#505050">2000</text>
<line x1="277.8" y1="343.7" x2="280.8" y2="343.7" stroke="#333" stroke-width="1"/>
<text x="274.6" y="345.8" font-size="5.6" text-anchor="end" fill="#505050">0</text>
<line x1="277.8" y1="356" x2="280.8" y2="356" stroke="#333" stroke-width="1"/>
<text x="274.6" y="358.1" font-size="5.6" text-anchor="end" fill="#505050">-2000</text>
<line x1="290.3" y1="356.2" x2="290.3" y2="359.2" stroke="#333" stroke-width="1"/>
<text x="290.3" y="369.2" font-size="5.6" text-anchor="middle" fill="#505050">0</text>
<line x1="300" y1="356.2" x2="300" y2="359.2" stroke="#333" stroke-width="1"/>
<text x="300" y="369.2" font-size="5.6" text-anchor="middle" fill="#505050">500</text>
<line x1="314" y1="356.2" x2="314" y2="359.2" stroke="#333" stroke-width="1"/>
<text x="314" y="369.2" font-size="5.6" text-anchor="middle" fill="#505050">1000</text>
<line x1="337.8" y1="356.2" x2="337.8" y2="359.2" stroke="#333" stroke-width="1"/>
<text x="336.8" y="369.2" font-size="5.6" text-anchor="middle" fill="#505050">10</text>
<text x="340.1" y="366.59999999999997" font-size="3.6" text-anchor="start" fill="#505050">4</text>
<line x1="279.0" y1="312.3666666666667" x2="280.8" y2="312.3666666666667" stroke="#444" stroke-width="0.7"/>
<line x1="279.0" y1="315.8333333333333" x2="280.8" y2="315.8333333333333" stroke="#444" stroke-width="0.7"/>
<line x1="279.0" y1="319.29999999999995" x2="280.8" y2="319.29999999999995" stroke="#444" stroke-width="0.7"/>
<line x1="279.0" y1="322.76666666666665" x2="280.8" y2="322.76666666666665" stroke="#444" stroke-width="0.7"/>
<line x1="279.0" y1="326.23333333333335" x2="280.8" y2="326.23333333333335" stroke="#444" stroke-width="0.7"/>
<line x1="279.0" y1="333.2" x2="280.8" y2="333.2" stroke="#444" stroke-width="0.7"/>
<line x1="279.0" y1="336.7" x2="280.8" y2="336.7" stroke="#444" stroke-width="0.7"/>
<line x1="279.0" y1="340.2" x2="280.8" y2="340.2" stroke="#444" stroke-width="0.7"/>
<line x1="279.0" y1="347.8" x2="280.8" y2="347.8" stroke="#444" stroke-width="0.7"/>
<line x1="279.0" y1="351.9" x2="280.8" y2="351.9" stroke="#444" stroke-width="0.7"/>
<line x1="293.53333333333336" y1="356.2" x2="293.53333333333336" y2="358.0" stroke="#444" stroke-width="0.7"/>
<line x1="296.76666666666665" y1="356.2" x2="296.76666666666665" y2="358.0" stroke="#444" stroke-width="0.7"/>
<line x1="303.5" y1="356.2" x2="303.5" y2="358.0" stroke="#444" stroke-width="0.7"/>
<line x1="307.0" y1="356.2" x2="307.0" y2="358.0" stroke="#444" stroke-width="0.7"/>
<line x1="310.5" y1="356.2" x2="310.5" y2="358.0" stroke="#444" stroke-width="0.7"/>
<line x1="317.4" y1="356.2" x2="317.4" y2="358.0" stroke="#444" stroke-width="0.7"/>
<line x1="320.8" y1="356.2" x2="320.8" y2="358.0" stroke="#444" stroke-width="0.7"/>
<line x1="324.2" y1="356.2" x2="324.2" y2="358.0" stroke="#444" stroke-width="0.7"/>
<line x1="327.6" y1="356.2" x2="327.6" y2="358.0" stroke="#444" stroke-width="0.7"/>
<line x1="331.0" y1="356.2" x2="331.0" y2="358.0" stroke="#444" stroke-width="0.7"/>
<line x1="334.40000000000003" y1="356.2" x2="334.40000000000003" y2="358.0" stroke="#444" stroke-width="0.7"/>
<text x="313.9" y="378.5" font-size="8.5" text-anchor="middle" fill="#3a3a3a" textLength="23.8" lengthAdjust="spacingAndGlyphs" stroke="#3a3a3a" stroke-width="0.1">CD11b</text>
<text x="255.8" y="324.4" font-size="8.5" text-anchor="middle" fill="#3a3a3a" transform="rotate(-90 255.8 324.4)" textLength="13.5" lengthAdjust="spacingAndGlyphs" stroke="#3a3a3a" stroke-width="0.1">CD5</text>
<text x="94.2" y="398.8" font-size="8.5" text-anchor="middle" fill="#3a3a3a" textLength="53" lengthAdjust="spacingAndGlyphs" stroke="#3a3a3a" stroke-width="0.1">[B220+] CD23 /</text>
<text x="94" y="407.6" font-size="8.5" text-anchor="middle" fill="#3a3a3a" textLength="12" lengthAdjust="spacingAndGlyphs" stroke="#3a3a3a" stroke-width="0.1">IgD</text>
<clipPath id="cp12"><rect x="60.1" y="414.3" width="62.9" height="63.4"/></clipPath>
<g clip-path="url(#cp12)"><g filter="url(#spkG)"><ellipse cx="98" cy="435.3" rx="20" ry="11" transform="rotate(-15 98 435.3)" opacity="0.78"/><ellipse cx="76" cy="452.3" rx="9" ry="20" transform="rotate(8 76 452.3)" opacity="0.8"/><ellipse cx="90" cy="455.3" rx="12" ry="10" transform="rotate(0 90 455.3)" opacity="0.55"/><ellipse cx="106" cy="465.3" rx="18" ry="12" transform="rotate(0 106 465.3)" opacity="0.32"/><ellipse cx="70" cy="422.3" rx="8" ry="8" transform="rotate(0 70 422.3)" opacity="0.08"/><ellipse cx="112" cy="422.3" rx="10" ry="5" transform="rotate(0 112 422.3)" opacity="0.28"/></g></g>
<g transform="translate(0,122.3)">
<g filter="url(#bl)" opacity="1"><path d="M80.22,321.27 C79.94,322.57 79.44,324.01 78.90,325.08 C78.36,326.14 77.63,327.12 76.97,327.66 C76.31,328.20 75.54,328.45 74.94,328.33 C74.33,328.20 73.73,327.66 73.35,326.89 C72.97,326.13 72.70,324.94 72.63,323.75 C72.57,322.55 72.70,321.03 72.98,319.73 C73.26,318.43 73.76,316.99 74.30,315.92 C74.84,314.86 75.57,313.88 76.23,313.34 C76.89,312.80 77.66,312.55 78.26,312.67 C78.87,312.80 79.47,313.34 79.85,314.11 C80.23,314.87 80.50,316.06 80.57,317.25 C80.63,318.45 80.50,319.97 80.22,321.27Z" fill="#ecb6e2" fill-opacity="0.45" stroke="#cc3f97" stroke-width="0.85"/><path d="M80.22,321.27 C79.94,322.57 79.44,324.01 78.90,325.08 C78.36,326.14 77.63,327.12 76.97,327.66 C76.31,328.20 75.54,328.45 74.94,328.33 C74.33,328.20 73.73,327.66 73.35,326.89 C72.97,326.13 72.70,324.94 72.63,323.75 C72.57,322.55 72.70,321.03 72.98,319.73 C73.26,318.43 73.76,316.99 74.30,315.92 C74.84,314.86 75.57,313.88 76.23,313.34 C76.89,312.80 77.66,312.55 78.26,312.67 C78.87,312.80 79.47,313.34 79.85,314.11 C80.23,314.87 80.50,316.06 80.57,317.25 C80.63,318.45 80.50,319.97 80.22,321.27Z" fill="#fff" filter="url(#tex)"/></g>
</g>
<g transform="translate(0,122.3)">
<g filter="url(#bl)" opacity="1"><path d="M77.47,333.40 C77.36,334.23 77.08,335.14 76.74,335.83 C76.40,336.51 75.91,337.14 75.43,337.49 C74.96,337.84 74.38,338.02 73.90,337.95 C73.43,337.88 72.92,337.56 72.56,337.09 C72.20,336.62 71.90,335.87 71.77,335.13 C71.63,334.38 71.61,333.42 71.73,332.60 C71.84,331.77 72.12,330.86 72.46,330.17 C72.80,329.49 73.29,328.86 73.77,328.51 C74.24,328.16 74.82,327.98 75.30,328.05 C75.77,328.12 76.28,328.44 76.64,328.91 C77.00,329.38 77.30,330.13 77.43,330.87 C77.57,331.62 77.59,332.58 77.47,333.40Z" fill="#ecb6e2" fill-opacity="0.45" stroke="#cc3f97" stroke-width="0.85"/><path d="M77.47,333.40 C77.36,334.23 77.08,335.14 76.74,335.83 C76.40,336.51 75.91,337.14 75.43,337.49 C74.96,337.84 74.38,338.02 73.90,337.95 C73.43,337.88 72.92,337.56 72.56,337.09 C72.20,336.62 71.90,335.87 71.77,335.13 C71.63,334.38 71.61,333.42 71.73,332.60 C71.84,331.77 72.12,330.86 72.46,330.17 C72.80,329.49 73.29,328.86 73.77,328.51 C74.24,328.16 74.82,327.98 75.30,328.05 C75.77,328.12 76.28,328.44 76.64,328.91 C77.00,329.38 77.30,330.13 77.43,330.87 C77.57,331.62 77.59,332.58 77.47,333.40Z" fill="#fff" filter="url(#tex)"/></g>
</g>
<g transform="translate(0,122.3)">
<g filter="url(#bl)" opacity="1"><path d="M76.19,343.46 C76.12,344.29 75.88,345.22 75.57,345.92 C75.26,346.61 74.78,347.27 74.32,347.64 C73.85,348.02 73.26,348.22 72.76,348.18 C72.27,348.14 71.72,347.84 71.33,347.38 C70.93,346.93 70.58,346.20 70.39,345.46 C70.21,344.72 70.14,343.77 70.21,342.94 C70.28,342.11 70.52,341.18 70.83,340.48 C71.14,339.79 71.62,339.13 72.08,338.76 C72.55,338.38 73.14,338.18 73.64,338.22 C74.13,338.26 74.68,338.56 75.07,339.02 C75.47,339.47 75.82,340.20 76.01,340.94 C76.19,341.68 76.26,342.63 76.19,343.46Z" fill="#ecb6e2" fill-opacity="0.5" stroke="#cc3f97" stroke-width="0.9"/><path d="M76.19,343.46 C76.12,344.29 75.88,345.22 75.57,345.92 C75.26,346.61 74.78,347.27 74.32,347.64 C73.85,348.02 73.26,348.22 72.76,348.18 C72.27,348.14 71.72,347.84 71.33,347.38 C70.93,346.93 70.58,346.20 70.39,345.46 C70.21,344.72 70.14,343.77 70.21,342.94 C70.28,342.11 70.52,341.18 70.83,340.48 C71.14,339.79 71.62,339.13 72.08,338.76 C72.55,338.38 73.14,338.18 73.64,338.22 C74.13,338.26 74.68,338.56 75.07,339.02 C75.47,339.47 75.82,340.20 76.01,340.94 C76.19,341.68 76.26,342.63 76.19,343.46Z" fill="#fff" filter="url(#tex)"/></g>
</g>
<g transform="translate(0,122.3)">
<g filter="url(#bl)" opacity="1"><path d="M83.60,312.30 C84.57,310.95 88.93,309.95 92.30,308.80 C95.67,307.65 100.43,306.25 103.80,305.40 C107.17,304.55 110.97,303.32 112.50,303.70 C114.03,304.08 113.68,305.60 113.00,307.70 C112.32,309.80 110.50,313.90 108.40,316.30 C106.30,318.70 102.90,321.23 100.40,322.10 C97.90,322.97 95.72,322.37 93.40,321.50 C91.08,320.63 88.13,318.43 86.50,316.90 C84.87,315.37 82.63,313.65 83.60,312.30Z" fill="#ecb6e2" fill-opacity="0.85" stroke="#cc3f97" stroke-width="1.0"/><path d="M83.60,312.30 C84.57,310.95 88.93,309.95 92.30,308.80 C95.67,307.65 100.43,306.25 103.80,305.40 C107.17,304.55 110.97,303.32 112.50,303.70 C114.03,304.08 113.68,305.60 113.00,307.70 C112.32,309.80 110.50,313.90 108.40,316.30 C106.30,318.70 102.90,321.23 100.40,322.10 C97.90,322.97 95.72,322.37 93.40,321.50 C91.08,320.63 88.13,318.43 86.50,316.90 C84.87,315.37 82.63,313.65 83.60,312.30Z" fill="#fff" filter="url(#tex)"/><ellipse cx="101.5" cy="312.4" rx="9.30" ry="5.20" transform="rotate(-12 101.5 312.4)" fill="#86aeea"/><ellipse cx="101.5" cy="312.4" rx="7.44" ry="4.16" transform="rotate(-12 101.5 312.4)" fill="#5cc6dc"/><ellipse cx="101.5" cy="312.4" rx="6.32" ry="3.54" transform="rotate(-12 101.5 312.4)" fill="#3db45a"/><ellipse cx="101.5" cy="312.4" rx="4.46" ry="2.50" transform="rotate(-12 101.5 312.4)" fill="#8fd06a"/><ellipse cx="101.5" cy="312.4" rx="3.07" ry="1.72" transform="rotate(-12 101.5 312.4)" fill="#f27c62"/></g>
</g>
<polyline points="77.3,413.8 77.3,430.6" fill="none" stroke="#3a3a3a" stroke-width="0.85"/>
<line x1="59.5" y1="430.6" x2="77.3" y2="430.6" stroke="#3a3a3a" stroke-width="0.85"/>
<polyline points="77.3,430.6 92.9,452.6 92.9,478.3" fill="none" stroke="#3a3a3a" stroke-width="0.85"/>
<line x1="92.9" y1="452.8" x2="123.5" y2="452.8" stroke="#3a3a3a" stroke-width="0.85"/>
<rect x="106.6" y="415.3" width="16.6" height="6.6" fill="#fff" fill-opacity="0.75" stroke="#c8c8c8" stroke-width="0.6"/>
<text x="114.89999999999999" y="420.35" font-size="4.9" text-anchor="middle" fill="#4a4a4a" textLength="14.400000000000002" lengthAdjust="spacingAndGlyphs">75.04%</text>
<rect x="60.8" y="471.5" width="16.6" height="6.800000000000001" fill="#fff" fill-opacity="0.75" stroke="#c8c8c8" stroke-width="0.6"/>
<text x="69.1" y="476.65" font-size="4.9" text-anchor="middle" fill="#4a4a4a" textLength="14.400000000000002" lengthAdjust="spacingAndGlyphs">23.80%</text>
<rect x="59.5" y="413.8" width="64.0" height="64.5" fill="none" stroke="#505050" stroke-width="1.1"/>
<line x1="59.5" y1="413.3" x2="59.5" y2="478.90000000000003" stroke="#2a2a2a" stroke-width="1.3"/>
<line x1="58.9" y1="478.3" x2="124.0" y2="478.3" stroke="#2a2a2a" stroke-width="1.3"/>
<line x1="56.5" y1="415.2" x2="59.5" y2="415.2" stroke="#333" stroke-width="1"/>
<text x="52.9" y="417.3" font-size="5.6" text-anchor="end" fill="#505050">10</text>
<text x="53.0" y="414.7" font-size="3.6" text-anchor="start" fill="#505050">3</text>
<line x1="56.5" y1="428.8" x2="59.5" y2="428.8" stroke="#333" stroke-width="1"/>
<text x="52.9" y="430.90000000000003" font-size="5.6" text-anchor="end" fill="#505050">10</text>
<text x="53.0" y="428.3" font-size="3.6" text-anchor="start" fill="#505050">2</text>
<line x1="56.5" y1="444.7" x2="59.5" y2="444.7" stroke="#333" stroke-width="1"/>
<text x="52.9" y="446.8" font-size="5.6" text-anchor="end" fill="#505050">10</text>
<text x="53.0" y="444.2" font-size="3.6" text-anchor="start" fill="#505050">1</text>
<line x1="56.5" y1="468.0" x2="59.5" y2="468.0" stroke="#333" stroke-width="1"/>
<text x="53.3" y="470.1" font-size="5.6" text-anchor="end" fill="#505050">0</text>
<line x1="73.5" y1="478.3" x2="73.5" y2="481.3" stroke="#333" stroke-width="1"/>
<text x="73.5" y="491.3" font-size="5.6" text-anchor="middle" fill="#505050">0</text>
<line x1="100" y1="478.3" x2="100" y2="481.3" stroke="#333" stroke-width="1"/>
<text x="99" y="491.3" font-size="5.6" text-anchor="middle" fill="#505050">10</text>
<text x="102.3" y="488.7" font-size="3.6" text-anchor="start" fill="#505050">1</text>
<line x1="119.5" y1="478.3" x2="119.5" y2="481.3" stroke="#333" stroke-width="1"/>
<text x="118.5" y="491.3" font-size="5.6" text-anchor="middle" fill="#505050">10</text>
<text x="121.8" y="488.7" font-size="3.6" text-anchor="start" fill="#505050">2</text>
<line x1="57.7" y1="418.6" x2="59.5" y2="418.6" stroke="#444" stroke-width="0.7"/>
<line x1="57.7" y1="422.0" x2="59.5" y2="422.0" stroke="#444" stroke-width="0.7"/>
<line x1="57.7" y1="425.4" x2="59.5" y2="425.4" stroke="#444" stroke-width="0.7"/>
<line x1="57.7" y1="432.775" x2="59.5" y2="432.775" stroke="#444" stroke-width="0.7"/>
<line x1="57.7" y1="436.75" x2="59.5" y2="436.75" stroke="#444" stroke-width="0.7"/>
<line x1="57.7" y1="440.725" x2="59.5" y2="440.725" stroke="#444" stroke-width="0.7"/>
<line x1="57.7" y1="448.0285714285714" x2="59.5" y2="448.0285714285714" stroke="#444" stroke-width="0.7"/>
<line x1="57.7" y1="451.35714285714283" x2="59.5" y2="451.35714285714283" stroke="#444" stroke-width="0.7"/>
<line x1="57.7" y1="454.68571428571425" x2="59.5" y2="454.68571428571425" stroke="#444" stroke-width="0.7"/>
<line x1="57.7" y1="458.01428571428573" x2="59.5" y2="458.01428571428573" stroke="#444" stroke-width="0.7"/>
<line x1="57.7" y1="461.34285714285716" x2="59.5" y2="461.34285714285716" stroke="#444" stroke-width="0.7"/>
<line x1="57.7" y1="464.6714285714286" x2="59.5" y2="464.6714285714286" stroke="#444" stroke-width="0.7"/>
<line x1="76.8125" y1="478.3" x2="76.8125" y2="480.1" stroke="#444" stroke-width="0.7"/>
<line x1="80.125" y1="478.3" x2="80.125" y2="480.1" stroke="#444" stroke-width="0.7"/>
<line x1="83.4375" y1="478.3" x2="83.4375" y2="480.1" stroke="#444" stroke-width="0.7"/>
<line x1="86.75" y1="478.3" x2="86.75" y2="480.1" stroke="#444" stroke-width="0.7"/>
<line x1="90.0625" y1="478.3" x2="90.0625" y2="480.1" stroke="#444" stroke-width="0.7"/>
<line x1="93.375" y1="478.3" x2="93.375" y2="480.1" stroke="#444" stroke-width="0.7"/>
<line x1="96.6875" y1="478.3" x2="96.6875" y2="480.1" stroke="#444" stroke-width="0.7"/>
<line x1="103.25" y1="478.3" x2="103.25" y2="480.1" stroke="#444" stroke-width="0.7"/>
<line x1="106.5" y1="478.3" x2="106.5" y2="480.1" stroke="#444" stroke-width="0.7"/>
<line x1="109.75" y1="478.3" x2="109.75" y2="480.1" stroke="#444" stroke-width="0.7"/>
<line x1="113.0" y1="478.3" x2="113.0" y2="480.1" stroke="#444" stroke-width="0.7"/>
<line x1="116.25" y1="478.3" x2="116.25" y2="480.1" stroke="#444" stroke-width="0.7"/>
<text x="91.6" y="500.8" font-size="8.5" text-anchor="middle" fill="#3a3a3a" textLength="18.8" lengthAdjust="spacingAndGlyphs" stroke="#3a3a3a" stroke-width="0.1">CD23</text>
<text x="45" y="446.7" font-size="8.5" text-anchor="middle" fill="#3a3a3a" transform="rotate(-90 45 446.7)" textLength="12.7" lengthAdjust="spacingAndGlyphs" stroke="#3a3a3a" stroke-width="0.1">IgD</text>
<text x="198.3" y="398.8" font-size="8.5" text-anchor="middle" fill="#3a3a3a" textLength="53.1" lengthAdjust="spacingAndGlyphs" stroke="#3a3a3a" stroke-width="0.1">[B220+] CD23 /</text>
<text x="198" y="407.6" font-size="8.5" text-anchor="middle" fill="#3a3a3a" textLength="30.6" lengthAdjust="spacingAndGlyphs" stroke="#3a3a3a" stroke-width="0.1">CD21/35</text>
<clipPath id="cp13"><rect x="166.6" y="414.8" width="63.4" height="62.59999999999999"/></clipPath>
<g clip-path="url(#cp13)"><g filter="url(#spkG)"><ellipse cx="207" cy="446.3" rx="17" ry="16" transform="rotate(-35 207 446.3)" opacity="0.8"/><ellipse cx="182" cy="431.3" rx="10" ry="7" transform="rotate(-15 182 431.3)" opacity="0.72"/><ellipse cx="180" cy="462.3" rx="7" ry="9" transform="rotate(0 180 462.3)" opacity="0.68"/><ellipse cx="194" cy="440.3" rx="14" ry="14" transform="rotate(0 194 440.3)" opacity="0.55"/><ellipse cx="216" cy="468.3" rx="12" ry="8" transform="rotate(0 216 468.3)" opacity="0.36"/><ellipse cx="190" cy="422.3" rx="12" ry="6" transform="rotate(0 190 422.3)" opacity="0.36"/></g></g>
<g transform="translate(0,122.3)">
<g filter="url(#bl)" opacity="1"><path d="M195.00,326.00 C195.30,323.75 195.92,320.42 197.00,318.50 C198.08,316.58 199.75,315.50 201.50,314.50 C203.25,313.50 205.50,313.17 207.50,312.50 C209.50,311.83 211.67,310.88 213.50,310.50 C215.33,310.12 217.50,309.70 218.50,310.20 C219.50,310.70 219.67,311.87 219.50,313.50 C219.33,315.13 218.33,317.58 217.50,320.00 C216.67,322.42 215.67,325.67 214.50,328.00 C213.33,330.33 212.17,332.45 210.50,334.00 C208.83,335.55 206.50,336.92 204.50,337.30 C202.50,337.68 200.05,337.18 198.50,336.30 C196.95,335.42 195.78,333.72 195.20,332.00 C194.62,330.28 194.70,328.25 195.00,326.00Z" fill="#ecb6e2" fill-opacity="0.85" stroke="#cc3f97" stroke-width="1.0"/><path d="M195.00,326.00 C195.30,323.75 195.92,320.42 197.00,318.50 C198.08,316.58 199.75,315.50 201.50,314.50 C203.25,313.50 205.50,313.17 207.50,312.50 C209.50,311.83 211.67,310.88 213.50,310.50 C215.33,310.12 217.50,309.70 218.50,310.20 C219.50,310.70 219.67,311.87 219.50,313.50 C219.33,315.13 218.33,317.58 217.50,320.00 C216.67,322.42 215.67,325.67 214.50,328.00 C213.33,330.33 212.17,332.45 210.50,334.00 C208.83,335.55 206.50,336.92 204.50,337.30 C202.50,337.68 200.05,337.18 198.50,336.30 C196.95,335.42 195.78,333.72 195.20,332.00 C194.62,330.28 194.70,328.25 195.00,326.00Z" fill="#fff" filter="url(#tex)"/><ellipse cx="208.3" cy="324.3" rx="9.20" ry="7.20" transform="rotate(-50 208.3 324.3)" fill="#86aeea"/><ellipse cx="208.3" cy="324.3" rx="7.82" ry="6.12" transform="rotate(-50 208.3 324.3)" fill="#5cc6dc"/><ellipse cx="208.3" cy="324.3" rx="6.62" ry="5.18" transform="rotate(-50 208.3 324.3)" fill="#3db45a"/><ellipse cx="208.3" cy="324.3" rx="3.86" ry="3.02" transform="rotate(-50 208.3 324.3)" fill="#8fd06a"/><ellipse cx="208.3" cy="324.3" rx="2.02" ry="1.58" transform="rotate(-50 208.3 324.3)" fill="#f27c62"/></g>
</g>
<g transform="translate(0,122.3)">
<g filter="url(#bl)" opacity="1"><path d="M187.88,307.09 C188.06,307.77 187.94,308.62 187.56,309.35 C187.19,310.08 186.46,310.87 185.63,311.46 C184.80,312.04 183.65,312.57 182.59,312.86 C181.52,313.14 180.26,313.26 179.25,313.17 C178.24,313.08 177.21,312.75 176.52,312.31 C175.83,311.86 175.31,311.18 175.12,310.51 C174.94,309.83 175.06,308.98 175.44,308.25 C175.81,307.52 176.54,306.73 177.37,306.14 C178.20,305.56 179.35,305.03 180.41,304.74 C181.48,304.46 182.74,304.34 183.75,304.43 C184.76,304.52 185.79,304.85 186.48,305.29 C187.17,305.74 187.69,306.42 187.88,307.09Z" fill="#ecb6e2" fill-opacity="0.85" stroke="#cc3f97" stroke-width="1.0"/><path d="M187.88,307.09 C188.06,307.77 187.94,308.62 187.56,309.35 C187.19,310.08 186.46,310.87 185.63,311.46 C184.80,312.04 183.65,312.57 182.59,312.86 C181.52,313.14 180.26,313.26 179.25,313.17 C178.24,313.08 177.21,312.75 176.52,312.31 C175.83,311.86 175.31,311.18 175.12,310.51 C174.94,309.83 175.06,308.98 175.44,308.25 C175.81,307.52 176.54,306.73 177.37,306.14 C178.20,305.56 179.35,305.03 180.41,304.74 C181.48,304.46 182.74,304.34 183.75,304.43 C184.76,304.52 185.79,304.85 186.48,305.29 C187.17,305.74 187.69,306.42 187.88,307.09Z" fill="#fff" filter="url(#tex)"/><ellipse cx="181.3" cy="308.8" rx="3.00" ry="2.00" transform="rotate(-15 181.3 308.8)" fill="#86aeea"/><ellipse cx="181.3" cy="308.8" rx="1.80" ry="1.20" transform="rotate(-15 181.3 308.8)" fill="#5cc6dc"/></g>
</g>
<g transform="translate(0,122.3)">
<g filter="url(#bl)" opacity="1"><path d="M183.30,341.00 C183.30,341.83 183.08,342.78 182.72,343.50 C182.37,344.22 181.77,344.91 181.15,345.33 C180.53,345.75 179.72,346.00 179.00,346.00 C178.28,346.00 177.47,345.75 176.85,345.33 C176.23,344.91 175.63,344.22 175.28,343.50 C174.92,342.78 174.70,341.83 174.70,341.00 C174.70,340.17 174.92,339.22 175.28,338.50 C175.63,337.78 176.23,337.09 176.85,336.67 C177.47,336.25 178.28,336.00 179.00,336.00 C179.72,336.00 180.53,336.25 181.15,336.67 C181.77,337.09 182.37,337.78 182.72,338.50 C183.08,339.22 183.30,340.17 183.30,341.00Z" fill="#ecb6e2" fill-opacity="0.85" stroke="#cc3f97" stroke-width="1.0"/><path d="M183.30,341.00 C183.30,341.83 183.08,342.78 182.72,343.50 C182.37,344.22 181.77,344.91 181.15,345.33 C180.53,345.75 179.72,346.00 179.00,346.00 C178.28,346.00 177.47,345.75 176.85,345.33 C176.23,344.91 175.63,344.22 175.28,343.50 C174.92,342.78 174.70,341.83 174.70,341.00 C174.70,340.17 174.92,339.22 175.28,338.50 C175.63,337.78 176.23,337.09 176.85,336.67 C177.47,336.25 178.28,336.00 179.00,336.00 C179.72,336.00 180.53,336.25 181.15,336.67 C181.77,337.09 182.37,337.78 182.72,338.50 C183.08,339.22 183.30,340.17 183.30,341.00Z" fill="#fff" filter="url(#tex)"/><ellipse cx="179" cy="341.2" rx="1.80" ry="2.50" transform="rotate(0 179 341.2)" fill="#86aeea"/></g>
</g>
<polyline points="166,447.7 188.2,447.7 188.2,478.0" fill="none" stroke="#3a3a3a" stroke-width="0.85"/>
<polyline points="188.2,447.7 210.5,422.0 210.5,414.3" fill="none" stroke="#3a3a3a" stroke-width="0.85"/>
<line x1="210.5" y1="422.0" x2="230.5" y2="422.0" stroke="#3a3a3a" stroke-width="0.85"/>
<rect x="168.5" y="415.0" width="16.9" height="7.0" fill="#fff" fill-opacity="0.75" stroke="#c8c8c8" stroke-width="0.6"/>
<text x="176.95" y="420.25" font-size="4.9" text-anchor="middle" fill="#4a4a4a" textLength="14.7" lengthAdjust="spacingAndGlyphs">17.85%</text>
<rect x="212.3" y="468.8" width="17.5" height="7.199999999999999" fill="#fff" fill-opacity="0.75" stroke="#c8c8c8" stroke-width="0.6"/>
<text x="221.05" y="474.15000000000003" font-size="4.9" text-anchor="middle" fill="#4a4a4a" textLength="15.3" lengthAdjust="spacingAndGlyphs">74.51%</text>
<rect x="166" y="414.3" width="64.5" height="63.69999999999999" fill="none" stroke="#505050" stroke-width="1.1"/>
<line x1="166" y1="413.8" x2="166" y2="478.6" stroke="#2a2a2a" stroke-width="1.3"/>
<line x1="165.4" y1="478.0" x2="231.0" y2="478.0" stroke="#2a2a2a" stroke-width="1.3"/>
<line x1="163" y1="414.3" x2="166" y2="414.3" stroke="#333" stroke-width="1"/>
<text x="159.4" y="416.40000000000003" font-size="5.6" text-anchor="end" fill="#505050">10</text>
<text x="159.5" y="413.8" font-size="3.6" text-anchor="start" fill="#505050">2</text>
<line x1="163" y1="435.0" x2="166" y2="435.0" stroke="#333" stroke-width="1"/>
<text x="159.4" y="437.1" font-size="5.6" text-anchor="end" fill="#505050">10</text>
<text x="159.5" y="434.5" font-size="3.6" text-anchor="start" fill="#505050">1</text>
<line x1="163" y1="458.6" x2="166" y2="458.6" stroke="#333" stroke-width="1"/>
<text x="159.8" y="460.70000000000005" font-size="5.6" text-anchor="end" fill="#505050">1</text>
<line x1="163" y1="468.40000000000003" x2="166" y2="468.40000000000003" stroke="#333" stroke-width="1"/>
<text x="159.8" y="470.50000000000006" font-size="5.6" text-anchor="end" fill="#505050">0</text>
<line x1="163" y1="478.3" x2="166" y2="478.3" stroke="#333" stroke-width="1"/>
<text x="159.8" y="480.40000000000003" font-size="5.6" text-anchor="end" fill="#505050">-1</text>
<line x1="179.5" y1="478.0" x2="179.5" y2="481.0" stroke="#333" stroke-width="1"/>
<text x="179.5" y="491.0" font-size="5.6" text-anchor="middle" fill="#505050">0</text>
<line x1="206" y1="478.0" x2="206" y2="481.0" stroke="#333" stroke-width="1"/>
<text x="205" y="491.0" font-size="5.6" text-anchor="middle" fill="#505050">10</text>
<text x="208.3" y="488.4" font-size="3.6" text-anchor="start" fill="#505050">1</text>
<line x1="225" y1="478.0" x2="225" y2="481.0" stroke="#333" stroke-width="1"/>
<text x="224" y="491.0" font-size="5.6" text-anchor="middle" fill="#505050">10</text>
<text x="227.3" y="488.4" font-size="3.6" text-anchor="start" fill="#505050">2</text>
<line x1="164.2" y1="417.75" x2="166" y2="417.75" stroke="#444" stroke-width="0.7"/>
<line x1="164.2" y1="421.2" x2="166" y2="421.2" stroke="#444" stroke-width="0.7"/>
<line x1="164.2" y1="424.65" x2="166" y2="424.65" stroke="#444" stroke-width="0.7"/>
<line x1="164.2" y1="428.1" x2="166" y2="428.1" stroke="#444" stroke-width="0.7"/>
<line x1="164.2" y1="431.55" x2="166" y2="431.55" stroke="#444" stroke-width="0.7"/>
<line x1="164.2" y1="438.37142857142857" x2="166" y2="438.37142857142857" stroke="#444" stroke-width="0.7"/>
<line x1="164.2" y1="441.74285714285713" x2="166" y2="441.74285714285713" stroke="#444" stroke-width="0.7"/>
<line x1="164.2" y1="445.1142857142857" x2="166" y2="445.1142857142857" stroke="#444" stroke-width="0.7"/>
<line x1="164.2" y1="448.4857142857143" x2="166" y2="448.4857142857143" stroke="#444" stroke-width="0.7"/>
<line x1="164.2" y1="451.8571428571429" x2="166" y2="451.8571428571429" stroke="#444" stroke-width="0.7"/>
<line x1="164.2" y1="455.22857142857146" x2="166" y2="455.22857142857146" stroke="#444" stroke-width="0.7"/>
<line x1="164.2" y1="461.8666666666667" x2="166" y2="461.8666666666667" stroke="#444" stroke-width="0.7"/>
<line x1="164.2" y1="465.1333333333334" x2="166" y2="465.1333333333334" stroke="#444" stroke-width="0.7"/>
<line x1="164.2" y1="471.70000000000005" x2="166" y2="471.70000000000005" stroke="#444" stroke-width="0.7"/>
<line x1="164.2" y1="475.0" x2="166" y2="475.0" stroke="#444" stroke-width="0.7"/>
<line x1="182.8125" y1="478.0" x2="182.8125" y2="479.8" stroke="#444" stroke-width="0.7"/>
<line x1="186.125" y1="478.0" x2="186.125" y2="479.8" stroke="#444" stroke-width="0.7"/>
<line x1="189.4375" y1="478.0" x2="189.4375" y2="479.8" stroke="#444" stroke-width="0.7"/>
<line x1="192.75" y1="478.0" x2="192.75" y2="479.8" stroke="#444" stroke-width="0.7"/>
<line x1="196.0625" y1="478.0" x2="196.0625" y2="479.8" stroke="#444" stroke-width="0.7"/>
<line x1="199.375" y1="478.0" x2="199.375" y2="479.8" stroke="#444" stroke-width="0.7"/>
<line x1="202.6875" y1="478.0" x2="202.6875" y2="479.8" stroke="#444" stroke-width="0.7"/>
<line x1="209.8" y1="478.0" x2="209.8" y2="479.8" stroke="#444" stroke-width="0.7"/>
<line x1="213.6" y1="478.0" x2="213.6" y2="479.8" stroke="#444" stroke-width="0.7"/>
<line x1="217.4" y1="478.0" x2="217.4" y2="479.8" stroke="#444" stroke-width="0.7"/>
<line x1="221.2" y1="478.0" x2="221.2" y2="479.8" stroke="#444" stroke-width="0.7"/>
<text x="198.1" y="500.8" font-size="8.5" text-anchor="middle" fill="#3a3a3a" textLength="19.2" lengthAdjust="spacingAndGlyphs" stroke="#3a3a3a" stroke-width="0.1">CD23</text>
<text x="150" y="446.90000000000003" font-size="8.5" text-anchor="middle" fill="#3a3a3a" transform="rotate(-90 150 446.90000000000003)" textLength="31.4" lengthAdjust="spacingAndGlyphs" stroke="#3a3a3a" stroke-width="0.1">CD21/35</text>
<text x="312.5" y="398.6" font-size="8.5" text-anchor="middle" fill="#3a3a3a" textLength="55" lengthAdjust="spacingAndGlyphs" stroke="#3a3a3a" stroke-width="0.1">[B220+] CD11b /</text>
<text x="313" y="407.6" font-size="8.5" text-anchor="middle" fill="#3a3a3a" textLength="14.4" lengthAdjust="spacingAndGlyphs" stroke="#3a3a3a" stroke-width="0.1">CD5</text>
<clipPath id="cp14"><rect x="281.40000000000003" y="415.1" width="61.299999999999976" height="62.799999999999976"/></clipPath>
<g clip-path="url(#cp14)"><g filter="url(#spkG)"><ellipse cx="294" cy="463.3" rx="9" ry="10" transform="rotate(0 294 463.3)" opacity="1.0"/><ellipse cx="305" cy="464.3" rx="8" ry="7" transform="rotate(0 305 464.3)" opacity="0.88"/><ellipse cx="316" cy="465.3" rx="14" ry="6" transform="rotate(0 316 465.3)" opacity="0.62"/><ellipse cx="332" cy="464.3" rx="10" ry="6" transform="rotate(0 332 464.3)" opacity="0.32"/><ellipse cx="293" cy="439.3" rx="4" ry="16" transform="rotate(0 293 439.3)" opacity="0.4"/><ellipse cx="314" cy="439.3" rx="22" ry="14" transform="rotate(0 314 439.3)" opacity="0.18"/></g></g>
<g transform="translate(0,122.3)">
<g filter="url(#bl)" opacity="1"><path d="M287.80,340.00 C288.00,338.38 288.97,337.43 290.00,336.80 C291.03,336.17 292.67,336.08 294.00,336.20 C295.33,336.32 297.13,336.53 298.00,337.50 C298.87,338.47 299.28,340.50 299.20,342.00 C299.12,343.50 298.53,345.45 297.50,346.50 C296.47,347.55 294.45,348.30 293.00,348.30 C291.55,348.30 289.67,347.88 288.80,346.50 C287.93,345.12 287.60,341.62 287.80,340.00Z" fill="#ecb6e2" fill-opacity="0.85" stroke="#cc3f97" stroke-width="1.0"/><path d="M287.80,340.00 C288.00,338.38 288.97,337.43 290.00,336.80 C291.03,336.17 292.67,336.08 294.00,336.20 C295.33,336.32 297.13,336.53 298.00,337.50 C298.87,338.47 299.28,340.50 299.20,342.00 C299.12,343.50 298.53,345.45 297.50,346.50 C296.47,347.55 294.45,348.30 293.00,348.30 C291.55,348.30 289.67,347.88 288.80,346.50 C287.93,345.12 287.60,341.62 287.80,340.00Z" fill="#fff" filter="url(#tex)"/><ellipse cx="292.7" cy="342.4" rx="4.60" ry="5.00" transform="rotate(0 292.7 342.4)" fill="#86aeea"/><ellipse cx="292.7" cy="342.4" rx="3.68" ry="4.00" transform="rotate(0 292.7 342.4)" fill="#5cc6dc"/><ellipse cx="292.7" cy="342.4" rx="2.85" ry="3.10" transform="rotate(0 292.7 342.4)" fill="#3db45a"/><ellipse cx="292.7" cy="342.4" rx="2.07" ry="2.25" transform="rotate(0 292.7 342.4)" fill="#8fd06a"/><ellipse cx="292.7" cy="342.4" rx="1.38" ry="1.50" transform="rotate(0 292.7 342.4)" fill="#f27c62"/></g>
</g>
<line x1="299.6" y1="414.6" x2="299.6" y2="478.5" stroke="#3a3a3a" stroke-width="0.85"/>
<line x1="280.8" y1="453.1" x2="343.2" y2="453.1" stroke="#3a3a3a" stroke-width="0.85"/>
<rect x="329.6" y="415.3" width="13.1" height="6.6" fill="#fff" fill-opacity="0.75" stroke="#c8c8c8" stroke-width="0.6"/>
<text x="336.15000000000003" y="420.35" font-size="4.9" text-anchor="middle" fill="#4a4a4a" textLength="10.899999999999999" lengthAdjust="spacingAndGlyphs">0.50%</text>
<rect x="282.7" y="471.5" width="16.5" height="6.4" fill="#fff" fill-opacity="0.75" stroke="#c8c8c8" stroke-width="0.6"/>
<text x="290.95" y="476.45" font-size="4.9" text-anchor="middle" fill="#4a4a4a" textLength="14.3" lengthAdjust="spacingAndGlyphs">89.34%</text>
<rect x="329.6" y="471.5" width="12.5" height="6.4" fill="#fff" fill-opacity="0.75" stroke="#c8c8c8" stroke-width="0.6"/>
<text x="335.85" y="476.45" font-size="4.9" text-anchor="middle" fill="#4a4a4a" textLength="10.3" lengthAdjust="spacingAndGlyphs">8.60%</text>
<rect x="280.8" y="414.6" width="62.39999999999998" height="63.89999999999998" fill="none" stroke="#505050" stroke-width="1.1"/>
<line x1="280.8" y1="414.1" x2="280.8" y2="479.1" stroke="#2a2a2a" stroke-width="1.3"/>
<line x1="280.2" y1="478.5" x2="343.7" y2="478.5" stroke="#2a2a2a" stroke-width="1.3"/>
<line x1="277.8" y1="431.2" x2="280.8" y2="431.2" stroke="#333" stroke-width="1"/>
<text x="274.2" y="433.3" font-size="5.6" text-anchor="end" fill="#505050">10</text>
<text x="274.3" y="430.7" font-size="3.6" text-anchor="start" fill="#505050">4</text>
<line x1="277.8" y1="452.0" x2="280.8" y2="452.0" stroke="#333" stroke-width="1"/>
<text x="274.6" y="454.1" font-size="5.6" text-anchor="end" fill="#505050">2000</text>
<line x1="277.8" y1="466.0" x2="280.8" y2="466.0" stroke="#333" stroke-width="1"/>
<text x="274.6" y="468.1" font-size="5.6" text-anchor="end" fill="#505050">0</text>
<line x1="277.8" y1="478.3" x2="280.8" y2="478.3" stroke="#333" stroke-width="1"/>
<text x="274.6" y="480.40000000000003" font-size="5.6" text-anchor="end" fill="#505050">-2000</text>
<line x1="290.3" y1="478.5" x2="290.3" y2="481.5" stroke="#333" stroke-width="1"/>
<text x="290.3" y="491.5" font-size="5.6" text-anchor="middle" fill="#505050">0</text>
<line x1="300" y1="478.5" x2="300" y2="481.5" stroke="#333" stroke-width="1"/>
<text x="300" y="491.5" font-size="5.6" text-anchor="middle" fill="#505050">500</text>
<line x1="314" y1="478.5" x2="314" y2="481.5" stroke="#333" stroke-width="1"/>
<text x="314" y="491.5" font-size="5.6" text-anchor="middle" fill="#505050">1000</text>
<line x1="337.8" y1="478.5" x2="337.8" y2="481.5" stroke="#333" stroke-width="1"/>
<text x="336.8" y="491.5" font-size="5.6" text-anchor="middle" fill="#505050">10</text>
<text x="340.1" y="488.9" font-size="3.6" text-anchor="start" fill="#505050">4</text>
<line x1="279.0" y1="434.66666666666663" x2="280.8" y2="434.66666666666663" stroke="#444" stroke-width="0.7"/>
<line x1="279.0" y1="438.1333333333333" x2="280.8" y2="438.1333333333333" stroke="#444" stroke-width="0.7"/>
<line x1="279.0" y1="441.6" x2="280.8" y2="441.6" stroke="#444" stroke-width="0.7"/>
<line x1="279.0" y1="445.06666666666666" x2="280.8" y2="445.06666666666666" stroke="#444" stroke-width="0.7"/>
<line x1="279.0" y1="448.5333333333333" x2="280.8" y2="448.5333333333333" stroke="#444" stroke-width="0.7"/>
<line x1="279.0" y1="455.5" x2="280.8" y2="455.5" stroke="#444" stroke-width="0.7"/>
<line x1="279.0" y1="459.0" x2="280.8" y2="459.0" stroke="#444" stroke-width="0.7"/>
<line x1="279.0" y1="462.5" x2="280.8" y2="462.5" stroke="#444" stroke-width="0.7"/>
<line x1="279.0" y1="470.1" x2="280.8" y2="470.1" stroke="#444" stroke-width="0.7"/>
<line x1="279.0" y1="474.2" x2="280.8" y2="474.2" stroke="#444" stroke-width="0.7"/>
<line x1="293.53333333333336" y1="478.5" x2="293.53333333333336" y2="480.3" stroke="#444" stroke-width="0.7"/>
<line x1="296.76666666666665" y1="478.5" x2="296.76666666666665" y2="480.3" stroke="#444" stroke-width="0.7"/>
<line x1="303.5" y1="478.5" x2="303.5" y2="480.3" stroke="#444" stroke-width="0.7"/>
<line x1="307.0" y1="478.5" x2="307.0" y2="480.3" stroke="#444" stroke-width="0.7"/>
<line x1="310.5" y1="478.5" x2="310.5" y2="480.3" stroke="#444" stroke-width="0.7"/>
<line x1="317.4" y1="478.5" x2="317.4" y2="480.3" stroke="#444" stroke-width="0.7"/>
<line x1="320.8" y1="478.5" x2="320.8" y2="480.3" stroke="#444" stroke-width="0.7"/>
<line x1="324.2" y1="478.5" x2="324.2" y2="480.3" stroke="#444" stroke-width="0.7"/>
<line x1="327.6" y1="478.5" x2="327.6" y2="480.3" stroke="#444" stroke-width="0.7"/>
<line x1="331.0" y1="478.5" x2="331.0" y2="480.3" stroke="#444" stroke-width="0.7"/>
<line x1="334.40000000000003" y1="478.5" x2="334.40000000000003" y2="480.3" stroke="#444" stroke-width="0.7"/>
<text x="313.9" y="500.8" font-size="8.5" text-anchor="middle" fill="#3a3a3a" textLength="23.8" lengthAdjust="spacingAndGlyphs" stroke="#3a3a3a" stroke-width="0.1">CD11b</text>
<text x="255.8" y="446.7" font-size="8.5" text-anchor="middle" fill="#3a3a3a" transform="rotate(-90 255.8 446.7)" textLength="13.5" lengthAdjust="spacingAndGlyphs" stroke="#3a3a3a" stroke-width="0.1">CD5</text>
<text x="376.9" y="275.9" font-size="13.2" text-anchor="start" fill="#222" textLength="8.3" lengthAdjust="spacingAndGlyphs" stroke="#222" stroke-width="0.05">D</text>
<text x="470" y="285" font-size="8.7" text-anchor="middle" fill="#222" textLength="81.3" lengthAdjust="spacingAndGlyphs" stroke="#222" stroke-width="0.1">24hrs After Stimulation</text>
<line x1="429.5" y1="290.2" x2="429.5" y2="348.1" stroke="#222" stroke-width="1.1"/>
<line x1="429.0" y1="347.5" x2="510.5" y2="347.5" stroke="#222" stroke-width="1.1"/>
<line x1="426.3" y1="347.5" x2="429.5" y2="347.5" stroke="#333" stroke-width="0.8"/>
<text x="423.0" y="349.4" font-size="5.5" text-anchor="end" fill="#555">0</text>
<line x1="426.3" y1="334" x2="429.5" y2="334" stroke="#333" stroke-width="0.8"/>
<text x="423.0" y="335.9" font-size="5.5" text-anchor="end" fill="#555">50000</text>
<line x1="426.3" y1="320.5" x2="429.5" y2="320.5" stroke="#333" stroke-width="0.8"/>
<text x="423.0" y="322.4" font-size="5.5" text-anchor="end" fill="#555">100000</text>
<line x1="426.3" y1="306.6" x2="429.5" y2="306.6" stroke="#333" stroke-width="0.8"/>
<text x="423.0" y="308.5" font-size="5.5" text-anchor="end" fill="#555">150000</text>
<line x1="426.3" y1="292.8" x2="429.5" y2="292.8" stroke="#333" stroke-width="0.8"/>
<text x="423.0" y="294.7" font-size="5.5" text-anchor="end" fill="#555">200000</text>
<rect x="432.5" y="346.95" width="4" height="0.55" fill="#a8283c" stroke="#a8283c" stroke-width="0.3"/>
<rect x="437.5" y="347.23" width="4" height="0.27" fill="#3f5d8a" stroke="#3f5d8a" stroke-width="0.3"/>
<line x1="436.8" y1="347.5" x2="436.8" y2="350.3" stroke="#333" stroke-width="0.8"/>
<text x="438.0" y="354.5" font-size="5.7" text-anchor="end" fill="#444" transform="rotate(-45 438.0 354.5)">Media</text>
<rect x="445.7" y="347.09" width="4" height="0.41" fill="#a8283c" stroke="#a8283c" stroke-width="0.3"/>
<rect x="450.7" y="347.42" width="4" height="0.08" fill="#3f5d8a" stroke="#3f5d8a" stroke-width="0.3"/>
<line x1="450" y1="347.5" x2="450" y2="350.3" stroke="#333" stroke-width="0.8"/>
<text x="451.2" y="354.5" font-size="5.7" text-anchor="end" fill="#444" transform="rotate(-45 451.2 354.5)">DMSO Vehicle</text>
<line x1="461.7" y1="341.483" x2="461.7" y2="342.03" stroke="#333" stroke-width="0.6"/>
<line x1="460.7" y1="341.483" x2="462.7" y2="341.483" stroke="#333" stroke-width="0.6"/>
<rect x="459.7" y="342.03" width="4" height="5.47" fill="#a8283c" stroke="#a8283c" stroke-width="0.3"/>
<line x1="466.7" y1="339.15825" x2="466.7" y2="339.842" stroke="#333" stroke-width="0.6"/>
<line x1="465.7" y1="339.15825" x2="467.7" y2="339.15825" stroke="#333" stroke-width="0.6"/>
<rect x="464.7" y="339.84" width="4" height="7.66" fill="#3f5d8a" stroke="#3f5d8a" stroke-width="0.3"/>
<line x1="464" y1="347.5" x2="464" y2="350.3" stroke="#333" stroke-width="0.8"/>
<text x="465.2" y="354.5" font-size="5.7" text-anchor="end" fill="#444" transform="rotate(-45 465.2 354.5)">aIgM</text>
<line x1="474.9" y1="314.133" x2="474.9" y2="315.5005" stroke="#333" stroke-width="0.6"/>
<line x1="473.9" y1="314.133" x2="475.9" y2="314.133" stroke="#333" stroke-width="0.6"/>
<rect x="472.9" y="315.50" width="4" height="32.00" fill="#a8283c" stroke="#a8283c" stroke-width="0.3"/>
<line x1="479.9" y1="308.3895" x2="479.9" y2="310.0305" stroke="#333" stroke-width="0.6"/>
<line x1="478.9" y1="308.3895" x2="480.9" y2="308.3895" stroke="#333" stroke-width="0.6"/>
<rect x="477.9" y="310.03" width="4" height="37.47" fill="#3f5d8a" stroke="#3f5d8a" stroke-width="0.3"/>
<line x1="477.2" y1="347.5" x2="477.2" y2="350.3" stroke="#333" stroke-width="0.8"/>
<text x="478.4" y="354.5" font-size="5.7" text-anchor="end" fill="#444" transform="rotate(-45 478.4 354.5)">LPS</text>
<line x1="488.4" y1="327.5345" x2="488.4" y2="328.902" stroke="#333" stroke-width="0.6"/>
<line x1="487.4" y1="327.5345" x2="489.4" y2="327.5345" stroke="#333" stroke-width="0.6"/>
<rect x="486.4" y="328.90" width="4" height="18.60" fill="#a8283c" stroke="#a8283c" stroke-width="0.3"/>
<line x1="493.4" y1="320.15" x2="493.4" y2="322.885" stroke="#333" stroke-width="0.6"/>
<line x1="492.4" y1="320.15" x2="494.4" y2="320.15" stroke="#333" stroke-width="0.6"/>
<rect x="491.4" y="322.88" width="4" height="24.62" fill="#3f5d8a" stroke="#3f5d8a" stroke-width="0.3"/>
<line x1="490.7" y1="347.5" x2="490.7" y2="350.3" stroke="#333" stroke-width="0.8"/>
<text x="491.9" y="354.5" font-size="5.7" text-anchor="end" fill="#444" transform="rotate(-45 491.9 354.5)">CpG</text>
<line x1="501.9" y1="339.842" x2="501.9" y2="340.389" stroke="#333" stroke-width="0.6"/>
<line x1="500.9" y1="339.842" x2="502.9" y2="339.842" stroke="#333" stroke-width="0.6"/>
<rect x="499.9" y="340.39" width="4" height="7.11" fill="#a8283c" stroke="#a8283c" stroke-width="0.3"/>
<line x1="506.9" y1="337.24375" x2="506.9" y2="337.9275" stroke="#333" stroke-width="0.6"/>
<line x1="505.9" y1="337.24375" x2="507.9" y2="337.24375" stroke="#333" stroke-width="0.6"/>
<rect x="504.9" y="337.93" width="4" height="9.57" fill="#3f5d8a" stroke="#3f5d8a" stroke-width="0.3"/>
<line x1="504.2" y1="347.5" x2="504.2" y2="350.3" stroke="#333" stroke-width="0.8"/>
<text x="505.4" y="354.5" font-size="5.7" text-anchor="end" fill="#444" transform="rotate(-45 505.4 354.5)">PMA + Iono</text>
<text x="396.8" y="318.85" font-size="9" text-anchor="middle" fill="#222" transform="rotate(-90 396.8 318.85)" textLength="20" lengthAdjust="spacingAndGlyphs" stroke="#222" stroke-width="0.1">CPMs</text>
<text x="470" y="402.7" font-size="8.7" text-anchor="middle" fill="#222" textLength="79.6" lengthAdjust="spacingAndGlyphs" stroke="#222" stroke-width="0.1">48hrs after Stimulation</text>
<line x1="429.5" y1="407.3" x2="429.5" y2="465.90000000000003" stroke="#222" stroke-width="1.1"/>
<line x1="429.0" y1="465.3" x2="510.5" y2="465.3" stroke="#222" stroke-width="1.1"/>
<line x1="426.3" y1="465.3" x2="429.5" y2="465.3" stroke="#333" stroke-width="0.8"/>
<text x="423.0" y="467.2" font-size="5.5" text-anchor="end" fill="#555">0</text>
<line x1="426.3" y1="447.2" x2="429.5" y2="447.2" stroke="#333" stroke-width="0.8"/>
<text x="423.0" y="449.09999999999997" font-size="5.5" text-anchor="end" fill="#555">50000</text>
<line x1="426.3" y1="429" x2="429.5" y2="429" stroke="#333" stroke-width="0.8"/>
<text x="423.0" y="430.9" font-size="5.5" text-anchor="end" fill="#555">100000</text>
<line x1="426.3" y1="411" x2="429.5" y2="411" stroke="#333" stroke-width="0.8"/>
<text x="423.0" y="412.9" font-size="5.5" text-anchor="end" fill="#555">150000</text>
<rect x="432.5" y="464.76" width="4" height="0.54" fill="#a8283c" stroke="#a8283c" stroke-width="0.3"/>
<rect x="437.5" y="464.76" width="4" height="0.54" fill="#3f5d8a" stroke="#3f5d8a" stroke-width="0.3"/>
<line x1="436.8" y1="465.3" x2="436.8" y2="468.1" stroke="#333" stroke-width="0.8"/>
<text x="438.0" y="472.3" font-size="5.7" text-anchor="end" fill="#444" transform="rotate(-45 438.0 472.3)">Media</text>
<rect x="445.7" y="464.76" width="4" height="0.54" fill="#a8283c" stroke="#a8283c" stroke-width="0.3"/>
<rect x="450.7" y="464.76" width="4" height="0.54" fill="#3f5d8a" stroke="#3f5d8a" stroke-width="0.3"/>
<line x1="450" y1="465.3" x2="450" y2="468.1" stroke="#333" stroke-width="0.8"/>
<text x="451.2" y="472.3" font-size="5.7" text-anchor="end" fill="#444" transform="rotate(-45 451.2 472.3)">DMSO Vehicle</text>
<line x1="461.7" y1="453.716" x2="461.7" y2="454.44" stroke="#333" stroke-width="0.6"/>
<line x1="460.7" y1="453.716" x2="462.7" y2="453.716" stroke="#333" stroke-width="0.6"/>
<rect x="459.7" y="454.44" width="4" height="10.86" fill="#a8283c" stroke="#a8283c" stroke-width="0.3"/>
<line x1="466.7" y1="452.26800000000003" x2="466.7" y2="453.354" stroke="#333" stroke-width="0.6"/>
<line x1="465.7" y1="452.26800000000003" x2="467.7" y2="452.26800000000003" stroke="#333" stroke-width="0.6"/>
<rect x="464.7" y="453.35" width="4" height="11.95" fill="#3f5d8a" stroke="#3f5d8a" stroke-width="0.3"/>
<line x1="464" y1="465.3" x2="464" y2="468.1" stroke="#333" stroke-width="0.8"/>
<text x="465.2" y="472.3" font-size="5.7" text-anchor="end" fill="#444" transform="rotate(-45 465.2 472.3)">aIgM</text>
<line x1="474.9" y1="434.53000000000003" x2="474.9" y2="436.34000000000003" stroke="#333" stroke-width="0.6"/>
<line x1="473.9" y1="434.53000000000003" x2="475.9" y2="434.53000000000003" stroke="#333" stroke-width="0.6"/>
<rect x="472.9" y="436.34" width="4" height="28.96" fill="#a8283c" stroke="#a8283c" stroke-width="0.3"/>
<line x1="479.9" y1="429.1" x2="479.9" y2="430.91" stroke="#333" stroke-width="0.6"/>
<line x1="478.9" y1="429.1" x2="480.9" y2="429.1" stroke="#333" stroke-width="0.6"/>
<rect x="477.9" y="430.91" width="4" height="34.39" fill="#3f5d8a" stroke="#3f5d8a" stroke-width="0.3"/>
<line x1="477.2" y1="465.3" x2="477.2" y2="468.1" stroke="#333" stroke-width="0.8"/>
<text x="478.4" y="472.3" font-size="5.7" text-anchor="end" fill="#444" transform="rotate(-45 478.4 472.3)">LPS</text>
<line x1="488.4" y1="449.73400000000004" x2="488.4" y2="450.82" stroke="#333" stroke-width="0.6"/>
<line x1="487.4" y1="449.73400000000004" x2="489.4" y2="449.73400000000004" stroke="#333" stroke-width="0.6"/>
<rect x="486.4" y="450.82" width="4" height="14.48" fill="#a8283c" stroke="#a8283c" stroke-width="0.3"/>
<line x1="493.4" y1="449.372" x2="493.4" y2="450.096" stroke="#333" stroke-width="0.6"/>
<line x1="492.4" y1="449.372" x2="494.4" y2="449.372" stroke="#333" stroke-width="0.6"/>
<rect x="491.4" y="450.10" width="4" height="15.20" fill="#3f5d8a" stroke="#3f5d8a" stroke-width="0.3"/>
<line x1="490.7" y1="465.3" x2="490.7" y2="468.1" stroke="#333" stroke-width="0.8"/>
<text x="491.9" y="472.3" font-size="5.7" text-anchor="end" fill="#444" transform="rotate(-45 491.9 472.3)">CpG</text>
<line x1="501.9" y1="440.684" x2="501.9" y2="443.58" stroke="#333" stroke-width="0.6"/>
<line x1="500.9" y1="440.684" x2="502.9" y2="440.684" stroke="#333" stroke-width="0.6"/>
<rect x="499.9" y="443.58" width="4" height="21.72" fill="#a8283c" stroke="#a8283c" stroke-width="0.3"/>
<line x1="506.9" y1="442.856" x2="506.9" y2="444.30400000000003" stroke="#333" stroke-width="0.6"/>
<line x1="505.9" y1="442.856" x2="507.9" y2="442.856" stroke="#333" stroke-width="0.6"/>
<rect x="504.9" y="444.30" width="4" height="21.00" fill="#3f5d8a" stroke="#3f5d8a" stroke-width="0.3"/>
<line x1="504.2" y1="465.3" x2="504.2" y2="468.1" stroke="#333" stroke-width="0.8"/>
<text x="505.4" y="472.3" font-size="5.7" text-anchor="end" fill="#444" transform="rotate(-45 505.4 472.3)">PMA + Iono</text>
<text x="396.8" y="436.3" font-size="9" text-anchor="middle" fill="#222" transform="rotate(-90 396.8 436.3)" textLength="20" lengthAdjust="spacingAndGlyphs" stroke="#222" stroke-width="0.1">CPMs</text>
<text x="470" y="520.5" font-size="8.7" text-anchor="middle" fill="#222" textLength="79.6" lengthAdjust="spacingAndGlyphs" stroke="#222" stroke-width="0.1">72hrs after Stimulation</text>
<line x1="429.5" y1="525" x2="429.5" y2="583.6" stroke="#222" stroke-width="1.1"/>
<line x1="429.0" y1="583" x2="510.5" y2="583" stroke="#222" stroke-width="1.1"/>
<line x1="426.3" y1="583" x2="429.5" y2="583" stroke="#333" stroke-width="0.8"/>
<text x="423.0" y="584.9" font-size="5.5" text-anchor="end" fill="#555">0</text>
<line x1="426.3" y1="572.2" x2="429.5" y2="572.2" stroke="#333" stroke-width="0.8"/>
<text x="423.0" y="574.1" font-size="5.5" text-anchor="end" fill="#555">20000</text>
<line x1="426.3" y1="561.3" x2="429.5" y2="561.3" stroke="#333" stroke-width="0.8"/>
<text x="423.0" y="563.1999999999999" font-size="5.5" text-anchor="end" fill="#555">40000</text>
<line x1="426.3" y1="550.5" x2="429.5" y2="550.5" stroke="#333" stroke-width="0.8"/>
<text x="423.0" y="552.4" font-size="5.5" text-anchor="end" fill="#555">60000</text>
<line x1="426.3" y1="539.6" x2="429.5" y2="539.6" stroke="#333" stroke-width="0.8"/>
<text x="423.0" y="541.5" font-size="5.5" text-anchor="end" fill="#555">80000</text>
<line x1="426.3" y1="528.7" x2="429.5" y2="528.7" stroke="#333" stroke-width="0.8"/>
<text x="423.0" y="530.6" font-size="5.5" text-anchor="end" fill="#555">100000</text>
<rect x="432.5" y="582.46" width="4" height="0.54" fill="#a8283c" stroke="#a8283c" stroke-width="0.3"/>
<rect x="437.5" y="582.46" width="4" height="0.54" fill="#3f5d8a" stroke="#3f5d8a" stroke-width="0.3"/>
<line x1="436.8" y1="583" x2="436.8" y2="585.8" stroke="#333" stroke-width="0.8"/>
<text x="438.0" y="590" font-size="5.7" text-anchor="end" fill="#444" transform="rotate(-45 438.0 590)">Media</text>
<rect x="445.7" y="582.46" width="4" height="0.54" fill="#a8283c" stroke="#a8283c" stroke-width="0.3"/>
<rect x="450.7" y="582.46" width="4" height="0.54" fill="#3f5d8a" stroke="#3f5d8a" stroke-width="0.3"/>
<line x1="450" y1="583" x2="450" y2="585.8" stroke="#333" stroke-width="0.8"/>
<text x="451.2" y="590" font-size="5.7" text-anchor="end" fill="#444" transform="rotate(-45 451.2 590)">DMSO Vehicle</text>
<line x1="461.7" y1="575.941" x2="461.7" y2="576.484" stroke="#333" stroke-width="0.6"/>
<line x1="460.7" y1="575.941" x2="462.7" y2="575.941" stroke="#333" stroke-width="0.6"/>
<rect x="459.7" y="576.48" width="4" height="6.52" fill="#a8283c" stroke="#a8283c" stroke-width="0.3"/>
<line x1="466.7" y1="576.2125" x2="466.7" y2="576.484" stroke="#333" stroke-width="0.6"/>
<line x1="465.7" y1="576.2125" x2="467.7" y2="576.2125" stroke="#333" stroke-width="0.6"/>
<rect x="464.7" y="576.48" width="4" height="6.52" fill="#3f5d8a" stroke="#3f5d8a" stroke-width="0.3"/>
<line x1="464" y1="583" x2="464" y2="585.8" stroke="#333" stroke-width="0.8"/>
<text x="465.2" y="590" font-size="5.7" text-anchor="end" fill="#444" transform="rotate(-45 465.2 590)">aIgM</text>
<line x1="474.9" y1="563.1805" x2="474.9" y2="564.538" stroke="#333" stroke-width="0.6"/>
<line x1="473.9" y1="563.1805" x2="475.9" y2="563.1805" stroke="#333" stroke-width="0.6"/>
<rect x="472.9" y="564.54" width="4" height="18.46" fill="#a8283c" stroke="#a8283c" stroke-width="0.3"/>
<line x1="479.9" y1="563.7235000000001" x2="479.9" y2="564.538" stroke="#333" stroke-width="0.6"/>
<line x1="478.9" y1="563.7235000000001" x2="480.9" y2="563.7235000000001" stroke="#333" stroke-width="0.6"/>
<rect x="477.9" y="564.54" width="4" height="18.46" fill="#3f5d8a" stroke="#3f5d8a" stroke-width="0.3"/>
<line x1="477.2" y1="583" x2="477.2" y2="585.8" stroke="#333" stroke-width="0.8"/>
<text x="478.4" y="590" font-size="5.7" text-anchor="end" fill="#444" transform="rotate(-45 478.4 590)">LPS</text>
<line x1="488.4" y1="571.597" x2="488.4" y2="572.683" stroke="#333" stroke-width="0.6"/>
<line x1="487.4" y1="571.597" x2="489.4" y2="571.597" stroke="#333" stroke-width="0.6"/>
<rect x="486.4" y="572.68" width="4" height="10.32" fill="#a8283c" stroke="#a8283c" stroke-width="0.3"/>
<line x1="493.4" y1="571.597" x2="493.4" y2="572.14" stroke="#333" stroke-width="0.6"/>
<line x1="492.4" y1="571.597" x2="494.4" y2="571.597" stroke="#333" stroke-width="0.6"/>
<rect x="491.4" y="572.14" width="4" height="10.86" fill="#3f5d8a" stroke="#3f5d8a" stroke-width="0.3"/>
<line x1="490.7" y1="583" x2="490.7" y2="585.8" stroke="#333" stroke-width="0.8"/>
<text x="491.9" y="590" font-size="5.7" text-anchor="end" fill="#444" transform="rotate(-45 491.9 590)">CpG</text>
<line x1="501.9" y1="539.5600000000001" x2="501.9" y2="547.705" stroke="#333" stroke-width="0.6"/>
<line x1="500.9" y1="539.5600000000001" x2="502.9" y2="539.5600000000001" stroke="#333" stroke-width="0.6"/>
<rect x="499.9" y="547.71" width="4" height="35.29" fill="#a8283c" stroke="#a8283c" stroke-width="0.3"/>
<line x1="506.9" y1="547.705" x2="506.9" y2="550.9630000000001" stroke="#333" stroke-width="0.6"/>
<line x1="505.9" y1="547.705" x2="507.9" y2="547.705" stroke="#333" stroke-width="0.6"/>
<rect x="504.9" y="550.96" width="4" height="32.04" fill="#3f5d8a" stroke="#3f5d8a" stroke-width="0.3"/>
<line x1="504.2" y1="583" x2="504.2" y2="585.8" stroke="#333" stroke-width="0.8"/>
<text x="505.4" y="590" font-size="5.7" text-anchor="end" fill="#444" transform="rotate(-45 505.4 590)">PMA + Iono</text>
<text x="396.8" y="554.0" font-size="9" text-anchor="middle" fill="#222" transform="rotate(-90 396.8 554.0)" textLength="20" lengthAdjust="spacingAndGlyphs" stroke="#222" stroke-width="0.1">CPMs</text>
<rect x="444.8" y="628" width="11" height="6" fill="#a8283c" stroke="#8c1f30" stroke-width="0.4"/>
<rect x="444.8" y="639.8" width="11" height="6" fill="#3f5d8a" stroke="#2e4a78" stroke-width="0.4"/>
<text x="459" y="632.6" font-size="4.6" text-anchor="start" fill="#555" textLength="33" lengthAdjust="spacingAndGlyphs">Par-4 Transgenic</text>
<text x="459" y="644.2" font-size="4.6" text-anchor="start" fill="#555">WT</text>
<text x="19" y="523.7" font-size="13.2" text-anchor="start" fill="#222" textLength="5.5" lengthAdjust="spacingAndGlyphs" stroke="#222" stroke-width="0.05">E</text>
<line x1="77.9" y1="527" x2="77.9" y2="594.9" stroke="#222" stroke-width="1.1"/>
<line x1="77.4" y1="594.3" x2="122.2" y2="594.3" stroke="#222" stroke-width="1.1"/>
<line x1="75.7" y1="529.9" x2="77.9" y2="529.9" stroke="#333" stroke-width="0.8"/>
<text x="73.30000000000001" y="531.9" font-size="5.8" text-anchor="end" fill="#555">40</text>
<line x1="75.7" y1="546" x2="77.9" y2="546" stroke="#333" stroke-width="0.8"/>
<text x="73.30000000000001" y="548" font-size="5.8" text-anchor="end" fill="#555">30</text>
<line x1="75.7" y1="562" x2="77.9" y2="562" stroke="#333" stroke-width="0.8"/>
<text x="73.30000000000001" y="564" font-size="5.8" text-anchor="end" fill="#555">20</text>
<line x1="75.7" y1="578" x2="77.9" y2="578" stroke="#333" stroke-width="0.8"/>
<text x="73.30000000000001" y="580" font-size="5.8" text-anchor="end" fill="#555">10</text>
<line x1="75.7" y1="594.3" x2="77.9" y2="594.3" stroke="#333" stroke-width="0.8"/>
<text x="73.30000000000001" y="596.3" font-size="5.8" text-anchor="end" fill="#555">0</text>
<line x1="89.0" y1="594.3" x2="89.0" y2="596.5" stroke="#333" stroke-width="0.8"/>
<line x1="110.60000000000001" y1="594.3" x2="110.60000000000001" y2="596.5" stroke="#333" stroke-width="0.8"/>
<text x="89.0" y="606.3" font-size="5.4" text-anchor="middle" fill="#444" textLength="10.3" lengthAdjust="spacingAndGlyphs">NTg</text>
<text x="110.60000000000001" y="606.3" font-size="5.4" text-anchor="middle" fill="#444" textLength="6.2" lengthAdjust="spacingAndGlyphs">Tg</text>
<text x="99.9" y="521" font-size="8.6" text-anchor="middle" fill="#222" stroke="#222" stroke-width="0.1">IgA</text>
<text x="57.7" y="562.65" font-size="7.6" text-anchor="middle" fill="#222" transform="rotate(-90 57.7 562.65)" textLength="80" lengthAdjust="spacingAndGlyphs" stroke="#222" stroke-width="0.1">Concentration (µg/mL)</text>
<circle cx="89.0" cy="543.6" r="1.25" fill="#c55a72"/>
<circle cx="89.2" cy="564.2" r="1.25" fill="#c55a72"/>
<circle cx="86.5" cy="574" r="1.25" fill="#c55a72"/>
<circle cx="90.5" cy="573.6" r="1.25" fill="#c55a72"/>
<circle cx="87.7" cy="576" r="1.25" fill="#c55a72"/>
<circle cx="90.5" cy="577.7" r="1.25" fill="#c55a72"/>
<circle cx="89.0" cy="580.7" r="1.25" fill="#c55a72"/>
<circle cx="92.0" cy="581.5" r="1.25" fill="#c55a72"/>
<circle cx="86.0" cy="582.8" r="1.25" fill="#c55a72"/>
<circle cx="88.8" cy="584" r="1.25" fill="#c55a72"/>
<circle cx="87.6" cy="588" r="1.25" fill="#c55a72"/>
<circle cx="90.5" cy="587" r="1.25" fill="#c55a72"/>
<rect x="109.65" y="532.05" width="1.9" height="1.9" fill="#1f3f7f" transform="rotate(45 110.60000000000001 533)"/>
<rect x="109.85000000000001" y="560.05" width="1.9" height="1.9" fill="#1f3f7f" transform="rotate(45 110.80000000000001 561)"/>
<rect x="109.95" y="566.05" width="1.9" height="1.9" fill="#1f3f7f" transform="rotate(45 110.9 567)"/>
<rect x="109.95" y="569.05" width="1.9" height="1.9" fill="#1f3f7f" transform="rotate(45 110.9 570)"/>
<rect x="112.95" y="573.3499999999999" width="1.9" height="1.9" fill="#1f3f7f" transform="rotate(45 113.9 574.3)"/>
<rect x="106.95" y="573.75" width="1.9" height="1.9" fill="#1f3f7f" transform="rotate(45 107.9 574.7)"/>
<rect x="109.95" y="575.4499999999999" width="1.9" height="1.9" fill="#1f3f7f" transform="rotate(45 110.9 576.4)"/>
<rect x="109.95" y="578.8499999999999" width="1.9" height="1.9" fill="#1f3f7f" transform="rotate(45 110.9 579.8)"/>
<rect x="108.35000000000001" y="581.8499999999999" width="1.9" height="1.9" fill="#1f3f7f" transform="rotate(45 109.30000000000001 582.8)"/>
<rect x="111.25" y="582.25" width="1.9" height="1.9" fill="#1f3f7f" transform="rotate(45 112.2 583.2)"/>
<rect x="111.25" y="585.25" width="1.9" height="1.9" fill="#1f3f7f" transform="rotate(45 112.2 586.2)"/>
<rect x="108.45" y="586.9499999999999" width="1.9" height="1.9" fill="#1f3f7f" transform="rotate(45 109.4 587.9)"/>
<line x1="84.4" y1="576" x2="94.0" y2="576" stroke="#1a1a1a" stroke-width="1.25"/>
<line x1="106.30000000000001" y1="573" x2="115.60000000000001" y2="573" stroke="#1a1a1a" stroke-width="1.25"/>
<line x1="167" y1="527" x2="167" y2="594.9" stroke="#222" stroke-width="1.1"/>
<line x1="166.5" y1="594.3" x2="211.3" y2="594.3" stroke="#222" stroke-width="1.1"/>
<line x1="164.8" y1="530" x2="167" y2="530" stroke="#333" stroke-width="0.8"/>
<text x="162.4" y="532" font-size="5.8" text-anchor="end" fill="#555">60</text>
<line x1="164.8" y1="551.2" x2="167" y2="551.2" stroke="#333" stroke-width="0.8"/>
<text x="162.4" y="553.2" font-size="5.8" text-anchor="end" fill="#555">40</text>
<line x1="164.8" y1="572.6" x2="167" y2="572.6" stroke="#333" stroke-width="0.8"/>
<text x="162.4" y="574.6" font-size="5.8" text-anchor="end" fill="#555">20</text>
<line x1="164.8" y1="594.3" x2="167" y2="594.3" stroke="#333" stroke-width="0.8"/>
<text x="162.4" y="596.3" font-size="5.8" text-anchor="end" fill="#555">0</text>
<line x1="178.1" y1="594.3" x2="178.1" y2="596.5" stroke="#333" stroke-width="0.8"/>
<line x1="199.7" y1="594.3" x2="199.7" y2="596.5" stroke="#333" stroke-width="0.8"/>
<text x="178.1" y="606.3" font-size="5.4" text-anchor="middle" fill="#444" textLength="10.3" lengthAdjust="spacingAndGlyphs">NTg</text>
<text x="199.7" y="606.3" font-size="5.4" text-anchor="middle" fill="#444" textLength="6.2" lengthAdjust="spacingAndGlyphs">Tg</text>
<text x="189" y="521" font-size="8.6" text-anchor="middle" fill="#222" stroke="#222" stroke-width="0.1">IgG1</text>
<text x="147" y="562.65" font-size="7.6" text-anchor="middle" fill="#222" transform="rotate(-90 147 562.65)" textLength="80" lengthAdjust="spacingAndGlyphs" stroke="#222" stroke-width="0.1">Concentration (µg/mL)</text>
<circle cx="175.9" cy="553.0408333333334" r="1.25" fill="#c55a72"/>
<circle cx="178.1" cy="553.5766666666666" r="1.25" fill="#c55a72"/>
<circle cx="180.29999999999998" cy="558.935" r="1.25" fill="#c55a72"/>
<circle cx="175.9" cy="563.2216666666667" r="1.25" fill="#c55a72"/>
<circle cx="178.1" cy="565.365" r="1.25" fill="#c55a72"/>
<circle cx="180.29999999999998" cy="566.4366666666666" r="1.25" fill="#c55a72"/>
<circle cx="175.9" cy="568.5799999999999" r="1.25" fill="#c55a72"/>
<circle cx="178.1" cy="569.6516666666666" r="1.25" fill="#c55a72"/>
<circle cx="180.29999999999998" cy="570.7233333333334" r="1.25" fill="#c55a72"/>
<circle cx="175.9" cy="571.795" r="1.25" fill="#c55a72"/>
<circle cx="178.1" cy="573.4024999999999" r="1.25" fill="#c55a72"/>
<circle cx="180.29999999999998" cy="577.1533333333333" r="1.25" fill="#c55a72"/>
<rect x="196.35" y="539.2308333333333" width="1.9" height="1.9" fill="#1f3f7f" transform="rotate(45 197.29999999999998 540.1808333333333)"/>
<rect x="198.75" y="541.3741666666666" width="1.9" height="1.9" fill="#1f3f7f" transform="rotate(45 199.7 542.3241666666667)"/>
<rect x="201.15" y="541.91" width="1.9" height="1.9" fill="#1f3f7f" transform="rotate(45 202.1 542.86)"/>
<rect x="196.35" y="542.9816666666666" width="1.9" height="1.9" fill="#1f3f7f" transform="rotate(45 197.29999999999998 543.9316666666666)"/>
<rect x="198.75" y="544.0533333333333" width="1.9" height="1.9" fill="#1f3f7f" transform="rotate(45 199.7 545.0033333333333)"/>
<rect x="201.15" y="554.77" width="1.9" height="1.9" fill="#1f3f7f" transform="rotate(45 202.1 555.72)"/>
<rect x="196.35" y="555.8416666666666" width="1.9" height="1.9" fill="#1f3f7f" transform="rotate(45 197.29999999999998 556.7916666666666)"/>
<rect x="198.75" y="557.9849999999999" width="1.9" height="1.9" fill="#1f3f7f" transform="rotate(45 199.7 558.935)"/>
<rect x="201.15" y="562.2716666666666" width="1.9" height="1.9" fill="#1f3f7f" transform="rotate(45 202.1 563.2216666666667)"/>
<rect x="196.35" y="571.9166666666666" width="1.9" height="1.9" fill="#1f3f7f" transform="rotate(45 197.29999999999998 572.8666666666667)"/>
<rect x="198.75" y="572.9883333333332" width="1.9" height="1.9" fill="#1f3f7f" transform="rotate(45 199.7 573.9383333333333)"/>
<rect x="201.15" y="576.2033333333333" width="1.9" height="1.9" fill="#1f3f7f" transform="rotate(45 202.1 577.1533333333333)"/>
<line x1="173.5" y1="565.365" x2="183.1" y2="565.365" stroke="#1a1a1a" stroke-width="1.25"/>
<line x1="195.39999999999998" y1="556.2558333333333" x2="204.7" y2="556.2558333333333" stroke="#1a1a1a" stroke-width="1.25"/>
<line x1="256" y1="527" x2="256" y2="594.9" stroke="#222" stroke-width="1.1"/>
<line x1="255.5" y1="594.3" x2="300.3" y2="594.3" stroke="#222" stroke-width="1.1"/>
<line x1="253.8" y1="530" x2="256" y2="530" stroke="#333" stroke-width="0.8"/>
<text x="251.4" y="532" font-size="5.8" text-anchor="end" fill="#555">25</text>
<line x1="253.8" y1="542.9" x2="256" y2="542.9" stroke="#333" stroke-width="0.8"/>
<text x="251.4" y="544.9" font-size="5.8" text-anchor="end" fill="#555">20</text>
<line x1="253.8" y1="555.7" x2="256" y2="555.7" stroke="#333" stroke-width="0.8"/>
<text x="251.4" y="557.7" font-size="5.8" text-anchor="end" fill="#555">15</text>
<line x1="253.8" y1="568.5" x2="256" y2="568.5" stroke="#333" stroke-width="0.8"/>
<text x="251.4" y="570.5" font-size="5.8" text-anchor="end" fill="#555">10</text>
<line x1="253.8" y1="581.3" x2="256" y2="581.3" stroke="#333" stroke-width="0.8"/>
<text x="251.4" y="583.3" font-size="5.8" text-anchor="end" fill="#555">5</text>
<line x1="253.8" y1="594.3" x2="256" y2="594.3" stroke="#333" stroke-width="0.8"/>
<text x="251.4" y="596.3" font-size="5.8" text-anchor="end" fill="#555">0</text>
<line x1="267.1" y1="594.3" x2="267.1" y2="596.5" stroke="#333" stroke-width="0.8"/>
<line x1="288.7" y1="594.3" x2="288.7" y2="596.5" stroke="#333" stroke-width="0.8"/>
<text x="267.1" y="606.3" font-size="5.4" text-anchor="middle" fill="#444" textLength="10.3" lengthAdjust="spacingAndGlyphs">NTg</text>
<text x="288.7" y="606.3" font-size="5.4" text-anchor="middle" fill="#444" textLength="6.2" lengthAdjust="spacingAndGlyphs">Tg</text>
<text x="278" y="521" font-size="8.6" text-anchor="middle" fill="#222" stroke="#222" stroke-width="0.1">IgG2b</text>
<text x="236" y="562.65" font-size="7.6" text-anchor="middle" fill="#222" transform="rotate(-90 236 562.65)" textLength="80" lengthAdjust="spacingAndGlyphs" stroke="#222" stroke-width="0.1">Concentration (µg/mL)</text>
<circle cx="264.90000000000003" cy="551.862" r="1.25" fill="#c55a72"/>
<circle cx="267.1" cy="554.434" r="1.25" fill="#c55a72"/>
<circle cx="269.3" cy="554.434" r="1.25" fill="#c55a72"/>
<circle cx="264.90000000000003" cy="557.006" r="1.25" fill="#c55a72"/>
<circle cx="267.1" cy="568.5799999999999" r="1.25" fill="#c55a72"/>
<circle cx="269.3" cy="571.1519999999999" r="1.25" fill="#c55a72"/>
<circle cx="264.90000000000003" cy="572.438" r="1.25" fill="#c55a72"/>
<circle cx="267.1" cy="573.7239999999999" r="1.25" fill="#c55a72"/>
<circle cx="269.3" cy="575.01" r="1.25" fill="#c55a72"/>
<circle cx="264.90000000000003" cy="576.2959999999999" r="1.25" fill="#c55a72"/>
<circle cx="267.1" cy="576.2959999999999" r="1.25" fill="#c55a72"/>
<circle cx="269.3" cy="576.2959999999999" r="1.25" fill="#c55a72"/>
<rect x="285.55" y="541.91" width="1.9" height="1.9" fill="#1f3f7f" transform="rotate(45 286.5 542.86)"/>
<rect x="287.75" y="552.198" width="1.9" height="1.9" fill="#1f3f7f" transform="rotate(45 288.7 553.148)"/>
<rect x="289.95" y="553.4839999999999" width="1.9" height="1.9" fill="#1f3f7f" transform="rotate(45 290.9 554.434)"/>
<rect x="285.55" y="557.342" width="1.9" height="1.9" fill="#1f3f7f" transform="rotate(45 286.5 558.292)"/>
<rect x="287.75" y="565.0579999999999" width="1.9" height="1.9" fill="#1f3f7f" transform="rotate(45 288.7 566.0079999999999)"/>
<rect x="289.95" y="565.0579999999999" width="1.9" height="1.9" fill="#1f3f7f" transform="rotate(45 290.9 566.0079999999999)"/>
<rect x="285.55" y="566.3439999999999" width="1.9" height="1.9" fill="#1f3f7f" transform="rotate(45 286.5 567.294)"/>
<rect x="287.75" y="567.6299999999999" width="1.9" height="1.9" fill="#1f3f7f" transform="rotate(45 288.7 568.5799999999999)"/>
<rect x="289.95" y="570.2019999999999" width="1.9" height="1.9" fill="#1f3f7f" transform="rotate(45 290.9 571.1519999999999)"/>
<rect x="285.55" y="572.7739999999999" width="1.9" height="1.9" fill="#1f3f7f" transform="rotate(45 286.5 573.7239999999999)"/>
<rect x="287.75" y="576.632" width="1.9" height="1.9" fill="#1f3f7f" transform="rotate(45 288.7 577.582)"/>
<rect x="289.95" y="576.632" width="1.9" height="1.9" fill="#1f3f7f" transform="rotate(45 290.9 577.582)"/>
<line x1="262.5" y1="567.294" x2="272.1" y2="567.294" stroke="#1a1a1a" stroke-width="1.25"/>
<line x1="284.4" y1="565.2364" x2="293.7" y2="565.2364" stroke="#1a1a1a" stroke-width="1.25"/>
<line x1="77.9" y1="634.4" x2="77.9" y2="701.6" stroke="#222" stroke-width="1.1"/>
<line x1="77.4" y1="701" x2="122.2" y2="701" stroke="#222" stroke-width="1.1"/>
<line x1="75.7" y1="637.1" x2="77.9" y2="637.1" stroke="#333" stroke-width="0.8"/>
<text x="73.30000000000001" y="639.1" font-size="5.8" text-anchor="end" fill="#555">80</text>
<line x1="75.7" y1="653" x2="77.9" y2="653" stroke="#333" stroke-width="0.8"/>
<text x="73.30000000000001" y="655" font-size="5.8" text-anchor="end" fill="#555">60</text>
<line x1="75.7" y1="669.2" x2="77.9" y2="669.2" stroke="#333" stroke-width="0.8"/>
<text x="73.30000000000001" y="671.2" font-size="5.8" text-anchor="end" fill="#555">40</text>
<line x1="75.7" y1="685" x2="77.9" y2="685" stroke="#333" stroke-width="0.8"/>
<text x="73.30000000000001" y="687" font-size="5.8" text-anchor="end" fill="#555">20</text>
<line x1="75.7" y1="701" x2="77.9" y2="701" stroke="#333" stroke-width="0.8"/>
<text x="73.30000000000001" y="703" font-size="5.8" text-anchor="end" fill="#555">0</text>
<line x1="89.0" y1="701" x2="89.0" y2="703.2" stroke="#333" stroke-width="0.8"/>
<line x1="110.60000000000001" y1="701" x2="110.60000000000001" y2="703.2" stroke="#333" stroke-width="0.8"/>
<text x="89.0" y="713" font-size="5.4" text-anchor="middle" fill="#444" textLength="10.3" lengthAdjust="spacingAndGlyphs">NTg</text>
<text x="110.60000000000001" y="713" font-size="5.4" text-anchor="middle" fill="#444" textLength="6.2" lengthAdjust="spacingAndGlyphs">Tg</text>
<text x="99.9" y="628.8" font-size="8.6" text-anchor="middle" fill="#222" stroke="#222" stroke-width="0.1">IgG2c</text>
<text x="57.7" y="669.7" font-size="7.6" text-anchor="middle" fill="#222" transform="rotate(-90 57.7 669.7)" textLength="80" lengthAdjust="spacingAndGlyphs" stroke="#222" stroke-width="0.1">Concentration (µg/mL)</text>
<circle cx="86.8" cy="646.6850000000001" r="1.25" fill="#c55a72"/>
<circle cx="89.0" cy="649.88" r="1.25" fill="#c55a72"/>
<circle cx="91.2" cy="663.45875" r="1.25" fill="#c55a72"/>
<circle cx="86.8" cy="669.05" r="1.25" fill="#c55a72"/>
<circle cx="89.0" cy="672.245" r="1.25" fill="#c55a72"/>
<circle cx="91.2" cy="673.04375" r="1.25" fill="#c55a72"/>
<circle cx="86.8" cy="673.8425" r="1.25" fill="#c55a72"/>
<circle cx="89.0" cy="674.64125" r="1.25" fill="#c55a72"/>
<circle cx="91.2" cy="677.0375" r="1.25" fill="#c55a72"/>
<circle cx="86.8" cy="679.43375" r="1.25" fill="#c55a72"/>
<circle cx="89.0" cy="681.03125" r="1.25" fill="#c55a72"/>
<circle cx="91.2" cy="683.4275" r="1.25" fill="#c55a72"/>
<rect x="107.45" y="646.5337499999999" width="1.9" height="1.9" fill="#1f3f7f" transform="rotate(45 108.4 647.48375)"/>
<rect x="109.65" y="649.72875" width="1.9" height="1.9" fill="#1f3f7f" transform="rotate(45 110.60000000000001 650.67875)"/>
<rect x="111.85000000000001" y="656.11875" width="1.9" height="1.9" fill="#1f3f7f" transform="rotate(45 112.80000000000001 657.06875)"/>
<rect x="107.45" y="661.7099999999999" width="1.9" height="1.9" fill="#1f3f7f" transform="rotate(45 108.4 662.66)"/>
<rect x="109.65" y="668.0999999999999" width="1.9" height="1.9" fill="#1f3f7f" transform="rotate(45 110.60000000000001 669.05)"/>
<rect x="111.85000000000001" y="671.295" width="1.9" height="1.9" fill="#1f3f7f" transform="rotate(45 112.80000000000001 672.245)"/>
<rect x="107.45" y="673.69125" width="1.9" height="1.9" fill="#1f3f7f" transform="rotate(45 108.4 674.64125)"/>
<rect x="109.65" y="675.2887499999999" width="1.9" height="1.9" fill="#1f3f7f" transform="rotate(45 110.60000000000001 676.23875)"/>
<rect x="111.85000000000001" y="676.88625" width="1.9" height="1.9" fill="#1f3f7f" transform="rotate(45 112.80000000000001 677.8362500000001)"/>
<rect x="107.45" y="677.685" width="1.9" height="1.9" fill="#1f3f7f" transform="rotate(45 108.4 678.635)"/>
<rect x="109.65" y="684.0749999999999" width="1.9" height="1.9" fill="#1f3f7f" transform="rotate(45 110.60000000000001 685.025)"/>
<rect x="111.85000000000001" y="684.0749999999999" width="1.9" height="1.9" fill="#1f3f7f" transform="rotate(45 112.80000000000001 685.025)"/>
<line x1="84.4" y1="670.6475" x2="94.0" y2="670.6475" stroke="#1a1a1a" stroke-width="1.25"/>
<line x1="106.30000000000001" y1="669.449375" x2="115.60000000000001" y2="669.449375" stroke="#1a1a1a" stroke-width="1.25"/>
<line x1="167" y1="634.4" x2="167" y2="701.6" stroke="#222" stroke-width="1.1"/>
<line x1="166.5" y1="701" x2="211.3" y2="701" stroke="#222" stroke-width="1.1"/>
<line x1="164.8" y1="637.1" x2="167" y2="637.1" stroke="#333" stroke-width="0.8"/>
<text x="162.4" y="639.1" font-size="5.8" text-anchor="end" fill="#555">80</text>
<line x1="164.8" y1="653" x2="167" y2="653" stroke="#333" stroke-width="0.8"/>
<text x="162.4" y="655" font-size="5.8" text-anchor="end" fill="#555">60</text>
<line x1="164.8" y1="669.2" x2="167" y2="669.2" stroke="#333" stroke-width="0.8"/>
<text x="162.4" y="671.2" font-size="5.8" text-anchor="end" fill="#555">40</text>
<line x1="164.8" y1="685" x2="167" y2="685" stroke="#333" stroke-width="0.8"/>
<text x="162.4" y="687" font-size="5.8" text-anchor="end" fill="#555">20</text>
<line x1="164.8" y1="701" x2="167" y2="701" stroke="#333" stroke-width="0.8"/>
<text x="162.4" y="703" font-size="5.8" text-anchor="end" fill="#555">0</text>
<line x1="178.1" y1="701" x2="178.1" y2="703.2" stroke="#333" stroke-width="0.8"/>
<line x1="199.7" y1="701" x2="199.7" y2="703.2" stroke="#333" stroke-width="0.8"/>
<text x="178.1" y="713" font-size="5.4" text-anchor="middle" fill="#444" textLength="10.3" lengthAdjust="spacingAndGlyphs">NTg</text>
<text x="199.7" y="713" font-size="5.4" text-anchor="middle" fill="#444" textLength="6.2" lengthAdjust="spacingAndGlyphs">Tg</text>
<text x="189" y="628.8" font-size="8.6" text-anchor="middle" fill="#222" stroke="#222" stroke-width="0.1">IgG3</text>
<text x="147" y="669.7" font-size="7.6" text-anchor="middle" fill="#222" transform="rotate(-90 147 669.7)" textLength="80" lengthAdjust="spacingAndGlyphs" stroke="#222" stroke-width="0.1">Concentration (µg/mL)</text>
<circle cx="175.9" cy="648.2825" r="1.25" fill="#c55a72"/>
<circle cx="178.1" cy="663.45875" r="1.25" fill="#c55a72"/>
<circle cx="180.29999999999998" cy="671.44625" r="1.25" fill="#c55a72"/>
<circle cx="175.9" cy="677.0375" r="1.25" fill="#c55a72"/>
<circle cx="178.1" cy="678.635" r="1.25" fill="#c55a72"/>
<circle cx="180.29999999999998" cy="679.43375" r="1.25" fill="#c55a72"/>
<circle cx="175.9" cy="680.2325" r="1.25" fill="#c55a72"/>
<circle cx="178.1" cy="681.03125" r="1.25" fill="#c55a72"/>
<circle cx="180.29999999999998" cy="681.83" r="1.25" fill="#c55a72"/>
<circle cx="175.9" cy="682.62875" r="1.25" fill="#c55a72"/>
<circle cx="178.1" cy="686.6225000000001" r="1.25" fill="#c55a72"/>
<circle cx="180.29999999999998" cy="688.22" r="1.25" fill="#c55a72"/>
<rect x="196.55" y="656.9175" width="1.9" height="1.9" fill="#1f3f7f" transform="rotate(45 197.5 657.8675000000001)"/>
<rect x="198.75" y="661.7099999999999" width="1.9" height="1.9" fill="#1f3f7f" transform="rotate(45 199.7 662.66)"/>
<rect x="200.95" y="663.3075" width="1.9" height="1.9" fill="#1f3f7f" transform="rotate(45 201.89999999999998 664.2575)"/>
<rect x="196.55" y="668.0999999999999" width="1.9" height="1.9" fill="#1f3f7f" transform="rotate(45 197.5 669.05)"/>
<rect x="198.75" y="672.09375" width="1.9" height="1.9" fill="#1f3f7f" transform="rotate(45 199.7 673.04375)"/>
<rect x="200.95" y="674.49" width="1.9" height="1.9" fill="#1f3f7f" transform="rotate(45 201.89999999999998 675.44)"/>
<rect x="196.55" y="677.685" width="1.9" height="1.9" fill="#1f3f7f" transform="rotate(45 197.5 678.635)"/>
<rect x="198.75" y="678.48375" width="1.9" height="1.9" fill="#1f3f7f" transform="rotate(45 199.7 679.43375)"/>
<rect x="200.95" y="680.08125" width="1.9" height="1.9" fill="#1f3f7f" transform="rotate(45 201.89999999999998 681.03125)"/>
<rect x="196.55" y="682.4775" width="1.9" height="1.9" fill="#1f3f7f" transform="rotate(45 197.5 683.4275)"/>
<rect x="198.75" y="683.27625" width="1.9" height="1.9" fill="#1f3f7f" transform="rotate(45 199.7 684.22625)"/>
<rect x="200.95" y="684.0749999999999" width="1.9" height="1.9" fill="#1f3f7f" transform="rotate(45 201.89999999999998 685.025)"/>
<line x1="173.5" y1="676.6381250000001" x2="183.1" y2="676.6381250000001" stroke="#1a1a1a" stroke-width="1.25"/>
<line x1="195.39999999999998" y1="674.241875" x2="204.7" y2="674.241875" stroke="#1a1a1a" stroke-width="1.25"/>
<line x1="256" y1="634.4" x2="256" y2="701.6" stroke="#222" stroke-width="1.1"/>
<line x1="255.5" y1="701" x2="300.3" y2="701" stroke="#222" stroke-width="1.1"/>
<line x1="253.8" y1="637.1" x2="256" y2="637.1" stroke="#333" stroke-width="0.8"/>
<text x="251.4" y="639.1" font-size="5.8" text-anchor="end" fill="#555">20</text>
<line x1="253.8" y1="653" x2="256" y2="653" stroke="#333" stroke-width="0.8"/>
<text x="251.4" y="655" font-size="5.8" text-anchor="end" fill="#555">15</text>
<line x1="253.8" y1="669.2" x2="256" y2="669.2" stroke="#333" stroke-width="0.8"/>
<text x="251.4" y="671.2" font-size="5.8" text-anchor="end" fill="#555">10</text>
<line x1="253.8" y1="685" x2="256" y2="685" stroke="#333" stroke-width="0.8"/>
<text x="251.4" y="687" font-size="5.8" text-anchor="end" fill="#555">5</text>
<line x1="253.8" y1="701" x2="256" y2="701" stroke="#333" stroke-width="0.8"/>
<text x="251.4" y="703" font-size="5.8" text-anchor="end" fill="#555">0</text>
<line x1="267.1" y1="701" x2="267.1" y2="703.2" stroke="#333" stroke-width="0.8"/>
<line x1="288.7" y1="701" x2="288.7" y2="703.2" stroke="#333" stroke-width="0.8"/>
<text x="267.1" y="713" font-size="5.4" text-anchor="middle" fill="#444" textLength="10.3" lengthAdjust="spacingAndGlyphs">NTg</text>
<text x="288.7" y="713" font-size="5.4" text-anchor="middle" fill="#444" textLength="6.2" lengthAdjust="spacingAndGlyphs">Tg</text>
<text x="278" y="628.8" font-size="8.6" text-anchor="middle" fill="#222" stroke="#222" stroke-width="0.1">IgM</text>
<text x="236" y="669.7" font-size="7.6" text-anchor="middle" fill="#222" transform="rotate(-90 236 669.7)" textLength="80" lengthAdjust="spacingAndGlyphs" stroke="#222" stroke-width="0.1">Concentration (µg/mL)</text>
<circle cx="264.90000000000003" cy="655.631" r="1.25" fill="#c55a72"/>
<circle cx="267.1" cy="657.8675000000001" r="1.25" fill="#c55a72"/>
<circle cx="269.3" cy="665.855" r="1.25" fill="#c55a72"/>
<circle cx="264.90000000000003" cy="675.44" r="1.25" fill="#c55a72"/>
<circle cx="267.1" cy="678.635" r="1.25" fill="#c55a72"/>
<circle cx="269.3" cy="678.635" r="1.25" fill="#c55a72"/>
<circle cx="264.90000000000003" cy="678.635" r="1.25" fill="#c55a72"/>
<circle cx="267.1" cy="678.635" r="1.25" fill="#c55a72"/>
<circle cx="269.3" cy="679.274" r="1.25" fill="#c55a72"/>
<circle cx="264.90000000000003" cy="687.581" r="1.25" fill="#c55a72"/>
<circle cx="267.1" cy="690.776" r="1.25" fill="#c55a72"/>
<circle cx="269.3" cy="676.079" r="1.25" fill="#c55a72"/>
<rect x="285.55" y="652.125" width="1.9" height="1.9" fill="#1f3f7f" transform="rotate(45 286.5 653.075)"/>
<rect x="287.75" y="654.6809999999999" width="1.9" height="1.9" fill="#1f3f7f" transform="rotate(45 288.7 655.631)"/>
<rect x="289.95" y="672.2534999999999" width="1.9" height="1.9" fill="#1f3f7f" transform="rotate(45 290.9 673.2035)"/>
<rect x="285.55" y="677.685" width="1.9" height="1.9" fill="#1f3f7f" transform="rotate(45 286.5 678.635)"/>
<rect x="287.75" y="679.2824999999999" width="1.9" height="1.9" fill="#1f3f7f" transform="rotate(45 288.7 680.2325)"/>
<rect x="289.95" y="682.4775" width="1.9" height="1.9" fill="#1f3f7f" transform="rotate(45 290.9 683.4275)"/>
<rect x="285.55" y="684.0749999999999" width="1.9" height="1.9" fill="#1f3f7f" transform="rotate(45 286.5 685.025)"/>
<rect x="287.75" y="685.6725" width="1.9" height="1.9" fill="#1f3f7f" transform="rotate(45 288.7 686.6225000000001)"/>
<rect x="289.95" y="687.27" width="1.9" height="1.9" fill="#1f3f7f" transform="rotate(45 290.9 688.22)"/>
<rect x="285.55" y="687.909" width="1.9" height="1.9" fill="#1f3f7f" transform="rotate(45 286.5 688.859)"/>
<rect x="287.75" y="687.909" width="1.9" height="1.9" fill="#1f3f7f" transform="rotate(45 288.7 688.859)"/>
<line x1="262.5" y1="675.7595" x2="272.1" y2="675.7595" stroke="#1a1a1a" stroke-width="1.25"/>
<line x1="284.4" y1="677.996" x2="293.7" y2="677.996" stroke="#1a1a1a" stroke-width="1.25"/>
</svg></body></html>
